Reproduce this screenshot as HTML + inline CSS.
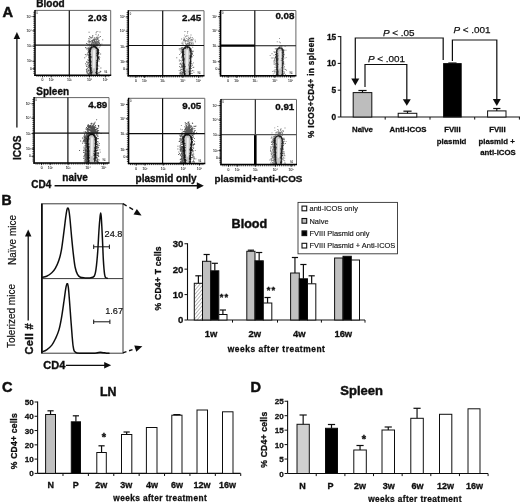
<!DOCTYPE html>
<html><head><meta charset="utf-8"><title>Figure</title>
<style>
html,body{margin:0;padding:0;background:#fff;}
svg{display:block;font-family:'Liberation Sans', Arial, Helvetica, sans-serif;}
</style></head><body>
<svg width="520" height="502" viewBox="0 0 520 502" font-family="'Liberation Sans', Arial, Helvetica, sans-serif">
<rect width="520" height="502" fill="#fff"/>
<defs><filter id="soft" x="0" y="0" width="100%" height="100%" filterUnits="userSpaceOnUse"><feGaussianBlur stdDeviation="0.38"/></filter></defs>
<g filter="url(#soft)">
<defs><filter id="bl" x="-20%" y="-20%" width="140%" height="140%"><feGaussianBlur stdDeviation="0.45"/></filter><filter id="bl2" x="-20%" y="-20%" width="140%" height="140%"><feGaussianBlur stdDeviation="0.3"/></filter></defs>
<rect x="35.0" y="10.4" width="75.70" height="64.80" fill="#fff"/>
<line x1="35.0" y1="10.4" x2="110.7" y2="10.4" stroke="#666" stroke-width="1"/>
<line x1="110.7" y1="10.4" x2="110.7" y2="75.2" stroke="#666" stroke-width="1"/>
<line x1="32.4" y1="16.556" x2="35.0" y2="16.556" stroke="#222" stroke-width="0.9"/>
<line x1="32.4" y1="30.811999999999998" x2="35.0" y2="30.811999999999998" stroke="#222" stroke-width="0.9"/>
<line x1="32.4" y1="46.04" x2="35.0" y2="46.04" stroke="#222" stroke-width="0.9"/>
<line x1="32.4" y1="61.268" x2="35.0" y2="61.268" stroke="#222" stroke-width="0.9"/>
<line x1="32.4" y1="68.72" x2="35.0" y2="68.72" stroke="#222" stroke-width="0.9"/>
<line x1="42.57" y1="75.2" x2="42.57" y2="77.4" stroke="#222" stroke-width="0.9"/>
<line x1="51.2755" y1="75.2" x2="51.2755" y2="77.4" stroke="#222" stroke-width="0.9"/>
<line x1="69.4435" y1="75.2" x2="69.4435" y2="77.4" stroke="#222" stroke-width="0.9"/>
<line x1="89.50399999999999" y1="75.2" x2="89.50399999999999" y2="77.4" stroke="#222" stroke-width="0.9"/>
<line x1="105.40100000000001" y1="75.2" x2="105.40100000000001" y2="77.4" stroke="#222" stroke-width="0.9"/>
<path d="M36.9,75.2 v1.7 M38.8,75.2 v1.7 M40.7,75.2 v1.7 M42.6,75.2 v1.7 M44.5,75.2 v1.7 M46.4,75.2 v1.7 M48.2,75.2 v1.7 M50.1,75.2 v1.7 M52.0,75.2 v1.7 M53.9,75.2 v1.7 M55.8,75.2 v1.7 M57.7,75.2 v1.7 M59.6,75.2 v1.7 M61.5,75.2 v1.7 M63.4,75.2 v1.7 M65.3,75.2 v1.7 M67.2,75.2 v1.7 M69.1,75.2 v1.7 M71.0,75.2 v1.7 M72.8,75.2 v1.7 M74.7,75.2 v1.7 M76.6,75.2 v1.7 M78.5,75.2 v1.7 M80.4,75.2 v1.7 M82.3,75.2 v1.7 M84.2,75.2 v1.7 M86.1,75.2 v1.7 M88.0,75.2 v1.7 M89.9,75.2 v1.7 M91.8,75.2 v1.7 M93.7,75.2 v1.7 M95.6,75.2 v1.7 M97.5,75.2 v1.7 M99.3,75.2 v1.7 M101.2,75.2 v1.7 M103.1,75.2 v1.7 M105.0,75.2 v1.7 M106.9,75.2 v1.7 M108.8,75.2 v1.7" stroke="#111" stroke-width="0.75" fill="none"/>
<path d="M35.0,12.3 h-1.7 M35.0,14.2 h-1.7 M35.0,16.1 h-1.7 M35.0,18.0 h-1.7 M35.0,19.9 h-1.7 M35.0,21.8 h-1.7 M35.0,23.7 h-1.7 M35.0,25.6 h-1.7 M35.0,27.6 h-1.7 M35.0,29.5 h-1.7 M35.0,31.4 h-1.7 M35.0,33.3 h-1.7 M35.0,35.2 h-1.7 M35.0,37.1 h-1.7 M35.0,39.0 h-1.7 M35.0,40.9 h-1.7 M35.0,42.8 h-1.7 M35.0,44.7 h-1.7 M35.0,46.6 h-1.7 M35.0,48.5 h-1.7 M35.0,50.4 h-1.7 M35.0,52.3 h-1.7 M35.0,54.2 h-1.7 M35.0,56.1 h-1.7 M35.0,58.0 h-1.7 M35.0,60.0 h-1.7 M35.0,61.9 h-1.7 M35.0,63.8 h-1.7 M35.0,65.7 h-1.7 M35.0,67.6 h-1.7 M35.0,69.5 h-1.7 M35.0,71.4 h-1.7 M35.0,73.3 h-1.7" stroke="#111" stroke-width="0.75" fill="none"/>
<text x="31.8" y="17.656000000000002" font-size="3.4" font-weight="normal" text-anchor="end" fill="#222" stroke="#222" stroke-width="0.06">10⁵</text>
<text x="31.8" y="31.912" font-size="3.4" font-weight="normal" text-anchor="end" fill="#222" stroke="#222" stroke-width="0.06">10⁴</text>
<text x="31.8" y="47.14" font-size="3.4" font-weight="normal" text-anchor="end" fill="#222" stroke="#222" stroke-width="0.06">10³</text>
<text x="31.8" y="62.368" font-size="3.4" font-weight="normal" text-anchor="end" fill="#222" stroke="#222" stroke-width="0.06">10²</text>
<text x="31.8" y="69.82" font-size="3.4" font-weight="normal" text-anchor="end" fill="#222" stroke="#222" stroke-width="0.06">0</text>
<text x="42.57" y="81.4" font-size="3.4" font-weight="normal" text-anchor="middle" fill="#222" stroke="#222" stroke-width="0.06">0</text>
<text x="51.2755" y="81.4" font-size="3.4" font-weight="normal" text-anchor="middle" fill="#222" stroke="#222" stroke-width="0.06">10²</text>
<text x="69.4435" y="81.4" font-size="3.4" font-weight="normal" text-anchor="middle" fill="#222" stroke="#222" stroke-width="0.06">10³</text>
<text x="89.50399999999999" y="81.4" font-size="3.4" font-weight="normal" text-anchor="middle" fill="#222" stroke="#222" stroke-width="0.06">10⁴</text>
<text x="105.40100000000001" y="81.4" font-size="3.4" font-weight="normal" text-anchor="middle" fill="#222" stroke="#222" stroke-width="0.06">10⁵</text>
<g filter="url(#bl2)">
<path d="M93.4,42.9h.9v.9h-.9zM93.5,44.0h.9v.9h-.9zM91.5,44.5h.9v.9h-.9zM97.5,43.4h.9v.9h-.9zM97.3,44.3h.9v.9h-.9zM95.4,44.7h.9v.9h-.9zM89.3,41.0h.9v.9h-.9zM95.7,43.0h.9v.9h-.9zM89.2,36.1h.9v.9h-.9zM91.6,43.1h.9v.9h-.9zM95.1,45.4h.9v.9h-.9zM95.7,42.2h.9v.9h-.9zM95.1,43.5h.9v.9h-.9zM92.2,36.3h.9v.9h-.9zM95.8,39.1h.9v.9h-.9zM92.4,41.6h.9v.9h-.9zM93.2,45.1h.9v.9h-.9zM96.1,44.3h.9v.9h-.9zM92.9,40.4h.9v.9h-.9zM92.7,39.0h.9v.9h-.9zM91.8,44.4h.9v.9h-.9zM95.5,37.5h.9v.9h-.9zM94.3,38.5h.9v.9h-.9zM88.3,43.9h.9v.9h-.9zM93.9,41.2h.9v.9h-.9zM95.7,45.4h.9v.9h-.9zM89.9,41.1h.9v.9h-.9zM96.2,40.5h.9v.9h-.9zM98.5,43.7h.9v.9h-.9zM94.6,38.6h.9v.9h-.9zM96.0,42.3h.9v.9h-.9zM92.9,38.7h.9v.9h-.9zM91.3,42.8h.9v.9h-.9zM98.0,34.5h.9v.9h-.9zM89.9,44.4h.9v.9h-.9zM98.5,42.5h.9v.9h-.9zM88.6,31.8h.9v.9h-.9zM95.3,41.7h.9v.9h-.9zM90.9,40.3h.9v.9h-.9zM97.5,44.8h.9v.9h-.9zM94.9,43.3h.9v.9h-.9zM98.9,42.3h.9v.9h-.9zM95.7,42.7h.9v.9h-.9zM89.6,38.7h.9v.9h-.9zM97.0,42.8h.9v.9h-.9zM88.4,42.2h.9v.9h-.9zM96.7,35.7h.9v.9h-.9zM93.7,40.1h.9v.9h-.9zM90.3,36.8h.9v.9h-.9zM95.8,44.9h.9v.9h-.9zM95.2,42.1h.9v.9h-.9zM94.6,39.4h.9v.9h-.9zM92.2,43.4h.9v.9h-.9zM97.3,45.6h.9v.9h-.9zM91.6,40.5h.9v.9h-.9zM98.5,43.3h.9v.9h-.9zM90.1,45.0h.9v.9h-.9zM93.8,44.1h.9v.9h-.9zM98.3,40.1h.9v.9h-.9zM97.9,38.7h.9v.9h-.9zM91.9,42.2h.9v.9h-.9zM97.5,41.0h.9v.9h-.9zM95.2,44.9h.9v.9h-.9zM94.7,42.5h.9v.9h-.9zM93.7,44.2h.9v.9h-.9zM95.9,45.7h.9v.9h-.9zM96.5,42.6h.9v.9h-.9zM100.1,43.9h.9v.9h-.9zM92.9,43.7h.9v.9h-.9zM94.2,40.6h.9v.9h-.9zM93.2,43.6h.9v.9h-.9zM99.6,31.6h.9v.9h-.9zM90.9,44.4h.9v.9h-.9zM95.4,44.4h.9v.9h-.9zM92.9,42.1h.9v.9h-.9zM95.0,42.8h.9v.9h-.9zM101.4,43.7h.9v.9h-.9zM92.6,45.2h.9v.9h-.9zM93.5,45.4h.9v.9h-.9zM86.1,43.0h.9v.9h-.9zM97.2,39.3h.9v.9h-.9zM94.0,40.5h.9v.9h-.9zM96.7,37.5h.9v.9h-.9zM89.2,43.8h.9v.9h-.9zM93.2,42.3h.9v.9h-.9zM97.4,30.9h.9v.9h-.9zM97.4,37.7h.9v.9h-.9zM96.2,37.5h.9v.9h-.9zM94.7,39.1h.9v.9h-.9zM93.8,44.6h.9v.9h-.9zM96.6,44.9h.9v.9h-.9zM93.9,37.3h.9v.9h-.9zM97.3,44.1h.9v.9h-.9zM102.3,39.4h.9v.9h-.9zM96.9,44.2h.9v.9h-.9zM94.6,41.8h.9v.9h-.9zM94.9,42.2h.9v.9h-.9zM89.7,37.4h.9v.9h-.9zM96.0,40.4h.9v.9h-.9zM91.2,37.6h.9v.9h-.9zM97.9,41.6h.9v.9h-.9zM98.5,40.5h.9v.9h-.9zM94.2,39.4h.9v.9h-.9zM96.5,37.0h.9v.9h-.9zM91.6,37.1h.9v.9h-.9zM97.1,44.7h.9v.9h-.9zM88.4,38.0h.9v.9h-.9zM93.9,42.4h.9v.9h-.9zM95.4,43.4h.9v.9h-.9zM98.6,40.1h.9v.9h-.9zM97.6,37.5h.9v.9h-.9zM98.5,44.7h.9v.9h-.9zM92.0,40.1h.9v.9h-.9zM94.5,45.0h.9v.9h-.9zM98.4,44.3h.9v.9h-.9zM87.4,43.6h.9v.9h-.9zM88.7,41.2h.9v.9h-.9zM95.1,42.3h.9v.9h-.9zM94.2,41.1h.9v.9h-.9zM94.4,38.4h.9v.9h-.9zM94.0,40.0h.9v.9h-.9zM98.6,36.8h.9v.9h-.9zM92.2,40.9h.9v.9h-.9zM88.7,39.7h.9v.9h-.9zM88.4,39.8h.9v.9h-.9zM90.6,45.6h.9v.9h-.9zM93.6,45.5h.9v.9h-.9zM92.5,44.4h.9v.9h-.9zM99.5,45.5h.9v.9h-.9zM95.8,40.2h.9v.9h-.9zM93.6,38.8h.9v.9h-.9zM92.6,39.8h.9v.9h-.9zM89.3,42.4h.9v.9h-.9zM97.2,41.3h.9v.9h-.9zM94.2,41.3h.9v.9h-.9zM94.7,39.2h.9v.9h-.9zM89.6,42.2h.9v.9h-.9zM96.9,42.6h.9v.9h-.9zM91.5,41.5h.9v.9h-.9zM89.7,45.1h.9v.9h-.9zM90.7,43.7h.9v.9h-.9zM87.2,43.9h.9v.9h-.9zM92.3,35.0h.9v.9h-.9zM96.3,44.2h.9v.9h-.9zM87.6,40.9h.9v.9h-.9zM95.1,43.2h.9v.9h-.9zM96.5,41.6h.9v.9h-.9zM96.2,43.9h.9v.9h-.9zM98.1,42.1h.9v.9h-.9zM95.5,34.2h.9v.9h-.9zM96.8,38.5h.9v.9h-.9zM93.3,43.1h.9v.9h-.9zM99.9,36.0h.9v.9h-.9zM95.6,32.4h.9v.9h-.9zM91.5,41.9h.9v.9h-.9zM99.8,45.0h.9v.9h-.9zM95.9,40.7h.9v.9h-.9zM91.5,45.2h.9v.9h-.9zM95.1,41.2h.9v.9h-.9zM94.1,44.6h.9v.9h-.9zM91.2,43.7h.9v.9h-.9zM96.8,45.1h.9v.9h-.9zM91.7,41.1h.9v.9h-.9zM102.1,39.4h.9v.9h-.9zM96.1,31.4h.9v.9h-.9zM96.0,43.1h.9v.9h-.9zM99.2,43.3h.9v.9h-.9zM94.0,42.8h.9v.9h-.9zM88.5,40.0h.9v.9h-.9zM95.2,41.8h.9v.9h-.9zM87.0,62.6h.9v.9h-.9zM86.1,66.2h.9v.9h-.9zM89.1,65.9h.9v.9h-.9zM89.3,58.5h.9v.9h-.9zM85.5,64.4h.9v.9h-.9zM87.6,69.0h.9v.9h-.9zM86.3,48.5h.9v.9h-.9zM87.7,70.8h.9v.9h-.9zM88.0,62.1h.9v.9h-.9zM89.2,72.5h.9v.9h-.9zM89.6,61.4h.9v.9h-.9zM88.7,53.3h.9v.9h-.9zM88.8,48.0h.9v.9h-.9zM88.9,52.2h.9v.9h-.9zM89.1,67.9h.9v.9h-.9zM88.1,54.7h.9v.9h-.9zM88.4,56.3h.9v.9h-.9zM89.7,47.1h.9v.9h-.9zM89.7,67.1h.9v.9h-.9zM89.3,62.0h.9v.9h-.9zM88.9,72.8h.9v.9h-.9zM87.6,49.6h.9v.9h-.9zM88.8,60.5h.9v.9h-.9zM87.8,70.0h.9v.9h-.9zM87.8,65.9h.9v.9h-.9zM88.2,74.1h.9v.9h-.9zM87.6,66.4h.9v.9h-.9zM86.5,64.4h.9v.9h-.9zM88.2,48.1h.9v.9h-.9zM88.7,50.2h.9v.9h-.9zM86.7,53.8h.9v.9h-.9zM88.3,51.2h.9v.9h-.9zM86.4,71.0h.9v.9h-.9zM87.8,65.4h.9v.9h-.9zM89.4,54.8h.9v.9h-.9zM88.2,59.5h.9v.9h-.9zM88.5,54.0h.9v.9h-.9zM87.9,73.5h.9v.9h-.9zM87.2,53.4h.9v.9h-.9zM89.3,73.6h.9v.9h-.9zM89.0,46.6h.9v.9h-.9zM88.0,57.3h.9v.9h-.9zM87.4,52.2h.9v.9h-.9zM89.3,60.7h.9v.9h-.9zM88.1,49.1h.9v.9h-.9zM89.7,57.8h.9v.9h-.9zM89.3,55.1h.9v.9h-.9zM89.6,53.1h.9v.9h-.9zM87.6,67.6h.9v.9h-.9zM88.4,65.0h.9v.9h-.9zM88.8,57.5h.9v.9h-.9zM85.7,55.7h.9v.9h-.9zM88.6,66.9h.9v.9h-.9zM89.6,64.6h.9v.9h-.9zM86.0,71.6h.9v.9h-.9zM88.7,64.2h.9v.9h-.9zM89.3,50.5h.9v.9h-.9zM86.1,61.3h.9v.9h-.9zM85.9,69.1h.9v.9h-.9zM89.6,69.7h.9v.9h-.9zM86.0,65.7h.9v.9h-.9zM87.6,66.0h.9v.9h-.9zM89.6,50.3h.9v.9h-.9zM89.2,56.7h.9v.9h-.9zM86.7,62.2h.9v.9h-.9zM87.4,64.2h.9v.9h-.9zM87.6,60.3h.9v.9h-.9zM87.5,46.7h.9v.9h-.9zM88.7,60.7h.9v.9h-.9zM86.5,61.6h.9v.9h-.9zM89.3,67.2h.9v.9h-.9zM89.1,53.7h.9v.9h-.9zM88.3,67.0h.9v.9h-.9zM89.0,52.3h.9v.9h-.9zM89.4,60.4h.9v.9h-.9zM84.3,57.3h.9v.9h-.9zM86.7,68.1h.9v.9h-.9zM89.3,63.9h.9v.9h-.9zM89.2,50.7h.9v.9h-.9zM89.1,53.7h.9v.9h-.9zM89.6,62.5h.9v.9h-.9zM88.0,46.9h.9v.9h-.9zM88.2,65.4h.9v.9h-.9zM89.1,66.0h.9v.9h-.9zM89.0,61.1h.9v.9h-.9zM88.2,59.6h.9v.9h-.9zM88.7,71.6h.9v.9h-.9zM89.5,52.2h.9v.9h-.9zM85.1,47.1h.9v.9h-.9zM89.1,59.5h.9v.9h-.9zM87.5,59.2h.9v.9h-.9zM84.9,54.1h.9v.9h-.9zM88.5,52.5h.9v.9h-.9zM85.0,62.9h.9v.9h-.9zM88.2,73.3h.9v.9h-.9zM87.8,50.3h.9v.9h-.9zM88.7,71.4h.9v.9h-.9zM87.5,66.3h.9v.9h-.9zM89.2,60.2h.9v.9h-.9zM85.5,47.3h.9v.9h-.9zM87.4,59.2h.9v.9h-.9zM89.6,55.1h.9v.9h-.9zM88.5,55.5h.9v.9h-.9zM88.3,70.1h.9v.9h-.9zM86.4,70.1h.9v.9h-.9zM89.7,50.0h.9v.9h-.9zM86.9,71.8h.9v.9h-.9zM88.3,54.7h.9v.9h-.9zM88.3,74.6h.9v.9h-.9zM88.3,63.1h.9v.9h-.9zM88.3,54.3h.9v.9h-.9zM88.1,48.0h.9v.9h-.9zM86.7,54.6h.9v.9h-.9zM87.4,72.8h.9v.9h-.9zM89.7,60.9h.9v.9h-.9zM88.1,51.9h.9v.9h-.9zM86.2,71.4h.9v.9h-.9zM86.1,69.3h.9v.9h-.9zM86.7,72.9h.9v.9h-.9zM86.5,62.0h.9v.9h-.9zM89.6,67.1h.9v.9h-.9zM89.1,59.2h.9v.9h-.9zM89.7,54.6h.9v.9h-.9zM86.8,48.0h.9v.9h-.9zM88.8,59.8h.9v.9h-.9zM89.2,56.2h.9v.9h-.9zM88.7,73.9h.9v.9h-.9zM86.6,53.9h.9v.9h-.9zM88.8,62.2h.9v.9h-.9zM88.3,57.6h.9v.9h-.9zM98.3,52.4h.9v.9h-.9zM98.6,72.0h.9v.9h-.9zM98.8,72.0h.9v.9h-.9zM97.9,74.5h.9v.9h-.9zM98.6,52.0h.9v.9h-.9zM98.1,49.1h.9v.9h-.9zM98.2,53.3h.9v.9h-.9zM98.4,53.8h.9v.9h-.9zM100.4,67.6h.9v.9h-.9zM99.1,58.2h.9v.9h-.9zM99.3,57.2h.9v.9h-.9zM98.7,56.1h.9v.9h-.9zM98.9,73.7h.9v.9h-.9zM98.3,50.1h.9v.9h-.9zM99.7,70.8h.9v.9h-.9zM97.9,52.6h.9v.9h-.9zM98.0,57.8h.9v.9h-.9zM98.9,59.1h.9v.9h-.9zM100.3,71.0h.9v.9h-.9zM98.6,47.2h.9v.9h-.9zM99.9,71.7h.9v.9h-.9zM98.3,59.9h.9v.9h-.9zM97.9,57.6h.9v.9h-.9zM97.9,72.6h.9v.9h-.9zM99.1,73.8h.9v.9h-.9zM100.2,53.6h.9v.9h-.9zM98.5,61.2h.9v.9h-.9zM98.4,65.7h.9v.9h-.9z" fill="#222" fill-opacity="0.72"/>
<path d="M91.0,74.6 L89.7,52.8 C89.7,47.8 91.3,46.6 93.8,46.6 C96.3,46.6 97.9,47.8 97.9,52.8 L96.6,74.6" fill="#c6c6c6" stroke="#1c1c1c" stroke-width="1.25" stroke-linejoin="round" stroke-opacity="0.97"/>
<path d="M94.1,50.6 L93.8,67.6" stroke="#f0f0f0" stroke-width="2.0" stroke-linecap="round" fill="none"/>
<path d="M97.0,72.8h.9v.9h-.9zM89.7,50.3h.9v.9h-.9zM89.3,55.8h.9v.9h-.9zM89.0,53.3h.9v.9h-.9zM96.7,62.9h.9v.9h-.9zM97.1,51.9h.9v.9h-.9zM90.2,72.8h.9v.9h-.9zM90.3,64.6h.9v.9h-.9zM96.7,63.1h.9v.9h-.9zM90.8,70.3h.9v.9h-.9zM89.7,61.6h.9v.9h-.9zM89.7,60.1h.9v.9h-.9zM88.5,51.6h.9v.9h-.9zM89.8,60.3h.9v.9h-.9zM97.5,55.7h.9v.9h-.9zM89.1,51.1h.9v.9h-.9zM90.0,67.4h.9v.9h-.9zM96.1,69.3h.9v.9h-.9zM97.8,51.9h.9v.9h-.9zM90.2,69.8h.9v.9h-.9zM89.9,61.4h.9v.9h-.9zM95.8,73.0h.9v.9h-.9zM88.8,64.8h.9v.9h-.9zM97.5,51.6h.9v.9h-.9zM97.4,53.7h.9v.9h-.9zM96.7,64.5h.9v.9h-.9zM89.6,51.5h.9v.9h-.9zM90.7,67.3h.9v.9h-.9zM90.6,67.8h.9v.9h-.9zM97.0,54.7h.9v.9h-.9zM89.9,68.1h.9v.9h-.9zM91.2,70.3h.9v.9h-.9zM90.3,60.8h.9v.9h-.9zM89.7,58.7h.9v.9h-.9zM89.3,63.7h.9v.9h-.9zM97.7,57.6h.9v.9h-.9zM97.6,52.3h.9v.9h-.9zM90.5,60.9h.9v.9h-.9zM97.5,59.0h.9v.9h-.9zM96.5,69.7h.9v.9h-.9zM88.3,51.2h.9v.9h-.9zM89.6,51.7h.9v.9h-.9zM96.2,68.1h.9v.9h-.9zM96.6,73.1h.9v.9h-.9zM89.7,51.3h.9v.9h-.9zM96.3,67.5h.9v.9h-.9zM90.8,72.2h.9v.9h-.9zM96.9,61.6h.9v.9h-.9zM96.5,73.0h.9v.9h-.9zM89.1,69.7h.9v.9h-.9zM91.7,72.4h.9v.9h-.9zM89.7,57.5h.9v.9h-.9zM90.4,64.8h.9v.9h-.9zM96.0,69.0h.9v.9h-.9zM89.1,52.1h.9v.9h-.9zM90.0,60.0h.9v.9h-.9zM96.1,61.8h.9v.9h-.9zM91.8,71.4h.9v.9h-.9zM89.7,56.6h.9v.9h-.9zM96.7,73.9h.9v.9h-.9zM88.8,54.4h.9v.9h-.9zM97.0,66.4h.9v.9h-.9zM90.4,70.5h.9v.9h-.9zM89.2,56.9h.9v.9h-.9zM89.9,59.2h.9v.9h-.9zM90.0,56.1h.9v.9h-.9zM97.2,57.0h.9v.9h-.9zM89.8,56.3h.9v.9h-.9zM89.8,62.4h.9v.9h-.9zM89.6,61.3h.9v.9h-.9zM97.6,52.7h.9v.9h-.9zM89.6,61.0h.9v.9h-.9zM89.3,51.2h.9v.9h-.9zM96.8,64.6h.9v.9h-.9zM88.7,54.9h.9v.9h-.9zM90.6,61.0h.9v.9h-.9zM90.8,68.8h.9v.9h-.9zM90.5,65.1h.9v.9h-.9zM89.5,51.1h.9v.9h-.9zM97.4,56.3h.9v.9h-.9zM90.6,67.8h.9v.9h-.9zM88.8,60.0h.9v.9h-.9zM89.6,54.7h.9v.9h-.9zM96.9,62.1h.9v.9h-.9zM89.6,51.8h.9v.9h-.9zM96.5,53.9h.9v.9h-.9zM89.0,52.4h.9v.9h-.9zM90.8,73.9h.9v.9h-.9zM89.5,60.2h.9v.9h-.9zM97.6,58.8h.9v.9h-.9zM88.9,50.7h.9v.9h-.9zM89.3,59.9h.9v.9h-.9zM88.9,60.6h.9v.9h-.9zM90.2,60.0h.9v.9h-.9zM90.0,61.3h.9v.9h-.9zM97.4,53.7h.9v.9h-.9zM98.1,52.4h.9v.9h-.9zM89.1,54.4h.9v.9h-.9zM97.2,57.0h.9v.9h-.9zM89.9,59.4h.9v.9h-.9zM90.3,57.5h.9v.9h-.9zM97.3,51.5h.9v.9h-.9zM96.9,52.3h.9v.9h-.9zM89.0,65.6h.9v.9h-.9zM97.2,65.1h.9v.9h-.9zM88.6,54.6h.9v.9h-.9zM97.7,51.2h.9v.9h-.9zM89.9,53.8h.9v.9h-.9zM97.8,51.2h.9v.9h-.9zM89.4,66.2h.9v.9h-.9zM96.3,53.1h.9v.9h-.9zM96.7,68.8h.9v.9h-.9zM88.9,57.6h.9v.9h-.9zM97.2,60.9h.9v.9h-.9zM89.0,54.5h.9v.9h-.9zM96.7,55.9h.9v.9h-.9zM97.0,68.9h.9v.9h-.9zM88.9,59.8h.9v.9h-.9zM96.6,53.3h.9v.9h-.9zM90.6,62.3h.9v.9h-.9zM90.1,51.2h.9v.9h-.9zM96.9,68.8h.9v.9h-.9zM98.0,52.2h.9v.9h-.9zM89.8,69.0h.9v.9h-.9zM96.2,70.7h.9v.9h-.9zM96.2,54.9h.9v.9h-.9zM89.3,57.1h.9v.9h-.9zM88.7,55.5h.9v.9h-.9zM90.7,64.8h.9v.9h-.9zM98.1,56.8h.9v.9h-.9zM97.9,53.7h.9v.9h-.9zM96.5,64.4h.9v.9h-.9zM89.7,62.3h.9v.9h-.9zM90.0,59.9h.9v.9h-.9zM97.0,66.5h.9v.9h-.9zM98.1,53.0h.9v.9h-.9zM89.9,51.4h.9v.9h-.9zM89.8,62.7h.9v.9h-.9zM96.7,56.3h.9v.9h-.9zM89.9,69.3h.9v.9h-.9zM89.3,59.2h.9v.9h-.9zM96.2,68.5h.9v.9h-.9zM97.1,55.7h.9v.9h-.9zM90.1,69.8h.9v.9h-.9zM98.1,57.7h.9v.9h-.9zM89.7,67.8h.9v.9h-.9zM89.1,55.5h.9v.9h-.9zM89.5,62.5h.9v.9h-.9zM89.3,53.4h.9v.9h-.9zM97.3,51.5h.9v.9h-.9zM89.0,58.7h.9v.9h-.9zM89.7,60.1h.9v.9h-.9zM89.3,64.3h.9v.9h-.9zM90.2,54.0h.9v.9h-.9zM90.3,72.6h.9v.9h-.9zM88.8,51.8h.9v.9h-.9zM90.0,71.1h.9v.9h-.9zM97.7,50.5h.9v.9h-.9zM95.9,71.6h.9v.9h-.9zM95.8,72.6h.9v.9h-.9zM90.2,56.2h.9v.9h-.9zM90.0,60.0h.9v.9h-.9zM90.2,54.1h.9v.9h-.9zM90.5,72.7h.9v.9h-.9zM96.4,60.1h.9v.9h-.9zM96.2,65.6h.9v.9h-.9zM90.2,54.4h.9v.9h-.9zM96.5,74.0h.9v.9h-.9zM89.8,67.3h.9v.9h-.9zM90.9,72.1h.9v.9h-.9zM97.3,68.0h.9v.9h-.9zM91.2,56.5h.9v.9h-.9zM89.3,53.2h.9v.9h-.9zM96.3,63.5h.9v.9h-.9zM97.0,66.6h.9v.9h-.9zM90.4,72.4h.9v.9h-.9zM97.8,52.3h.9v.9h-.9zM89.6,55.9h.9v.9h-.9zM90.7,72.8h.9v.9h-.9zM97.2,64.6h.9v.9h-.9zM95.2,71.9h.9v.9h-.9zM90.4,66.9h.9v.9h-.9zM89.4,60.7h.9v.9h-.9zM97.0,55.3h.9v.9h-.9zM96.9,64.2h.9v.9h-.9zM89.1,50.9h.9v.9h-.9zM89.9,65.1h.9v.9h-.9zM89.5,50.9h.9v.9h-.9zM89.1,53.6h.9v.9h-.9zM96.5,51.8h.9v.9h-.9zM90.7,68.5h.9v.9h-.9zM89.5,71.6h.9v.9h-.9zM96.6,71.3h.9v.9h-.9zM89.6,52.9h.9v.9h-.9zM90.8,72.9h.9v.9h-.9zM95.3,47.4h.9v.9h-.9zM90.5,47.8h.9v.9h-.9zM94.7,46.7h.9v.9h-.9zM96.0,47.2h.9v.9h-.9zM95.1,47.5h.9v.9h-.9zM89.6,48.8h.9v.9h-.9zM94.4,45.5h.9v.9h-.9zM95.6,46.5h.9v.9h-.9zM95.9,48.1h.9v.9h-.9zM89.7,48.4h.9v.9h-.9zM96.7,48.3h.9v.9h-.9zM96.1,50.4h.9v.9h-.9zM90.1,48.4h.9v.9h-.9zM95.8,46.9h.9v.9h-.9zM89.0,50.1h.9v.9h-.9zM91.3,46.8h.9v.9h-.9zM91.6,47.4h.9v.9h-.9zM91.4,47.2h.9v.9h-.9zM94.5,46.2h.9v.9h-.9zM89.8,50.3h.9v.9h-.9zM98.0,50.8h.9v.9h-.9zM89.8,49.1h.9v.9h-.9zM89.5,49.4h.9v.9h-.9zM93.5,46.2h.9v.9h-.9zM90.7,46.4h.9v.9h-.9zM97.3,49.2h.9v.9h-.9zM89.9,47.8h.9v.9h-.9zM90.7,47.6h.9v.9h-.9zM93.7,46.5h.9v.9h-.9zM96.5,48.0h.9v.9h-.9zM90.5,48.9h.9v.9h-.9zM96.5,47.3h.9v.9h-.9zM97.5,48.5h.9v.9h-.9zM89.5,50.7h.9v.9h-.9zM89.0,50.9h.9v.9h-.9zM89.5,51.0h.9v.9h-.9zM93.4,46.5h.9v.9h-.9zM97.9,49.6h.9v.9h-.9zM97.9,49.8h.9v.9h-.9zM91.5,46.3h.9v.9h-.9zM93.8,46.6h.9v.9h-.9zM95.1,46.3h.9v.9h-.9zM93.2,45.5h.9v.9h-.9zM94.0,46.4h.9v.9h-.9zM90.3,49.4h.9v.9h-.9zM88.9,48.6h.9v.9h-.9zM93.3,45.9h.9v.9h-.9zM97.9,48.8h.9v.9h-.9zM91.2,47.0h.9v.9h-.9z" fill="#111" fill-opacity="0.87"/>
</g>
<line x1="69.3" y1="10.4" x2="69.3" y2="75.2" stroke="#111" stroke-width="1.2"/>
<line x1="35.0" y1="45.2" x2="110.7" y2="45.2" stroke="#111" stroke-width="1.2"/>
<line x1="35.0" y1="9.9" x2="35.0" y2="75.95" stroke="#000" stroke-width="1.5"/>
<line x1="34.25" y1="75.2" x2="111.2" y2="75.2" stroke="#000" stroke-width="1.5"/>
<text x="105.7" y="73.4" font-size="2.6" font-weight="normal" text-anchor="middle" fill="#444" stroke="#444" stroke-width="0.05">94</text>
<text x="37.2" y="14.2" font-size="2.6" font-weight="normal" text-anchor="middle" fill="#444" stroke="#444" stroke-width="0.05">0</text>
<text x="107.1" y="21.0" font-size="9.8" font-weight="bold" text-anchor="end" fill="#111" stroke="#111" stroke-width="0.34">2.03</text>
<rect x="128.3" y="10.7" width="75.70" height="65.00" fill="#fff"/>
<line x1="128.3" y1="10.7" x2="204.0" y2="10.7" stroke="#666" stroke-width="1"/>
<line x1="204.0" y1="10.7" x2="204.0" y2="75.7" stroke="#666" stroke-width="1"/>
<line x1="125.70000000000002" y1="16.875" x2="128.3" y2="16.875" stroke="#222" stroke-width="0.9"/>
<line x1="125.70000000000002" y1="31.175" x2="128.3" y2="31.175" stroke="#222" stroke-width="0.9"/>
<line x1="125.70000000000002" y1="46.45" x2="128.3" y2="46.45" stroke="#222" stroke-width="0.9"/>
<line x1="125.70000000000002" y1="61.724999999999994" x2="128.3" y2="61.724999999999994" stroke="#222" stroke-width="0.9"/>
<line x1="125.70000000000002" y1="69.2" x2="128.3" y2="69.2" stroke="#222" stroke-width="0.9"/>
<line x1="135.87" y1="75.7" x2="135.87" y2="77.9" stroke="#222" stroke-width="0.9"/>
<line x1="144.5755" y1="75.7" x2="144.5755" y2="77.9" stroke="#222" stroke-width="0.9"/>
<line x1="162.7435" y1="75.7" x2="162.7435" y2="77.9" stroke="#222" stroke-width="0.9"/>
<line x1="182.804" y1="75.7" x2="182.804" y2="77.9" stroke="#222" stroke-width="0.9"/>
<line x1="198.70100000000002" y1="75.7" x2="198.70100000000002" y2="77.9" stroke="#222" stroke-width="0.9"/>
<path d="M130.2,75.7 v1.7 M132.1,75.7 v1.7 M134.0,75.7 v1.7 M135.9,75.7 v1.7 M137.8,75.7 v1.7 M139.7,75.7 v1.7 M141.5,75.7 v1.7 M143.4,75.7 v1.7 M145.3,75.7 v1.7 M147.2,75.7 v1.7 M149.1,75.7 v1.7 M151.0,75.7 v1.7 M152.9,75.7 v1.7 M154.8,75.7 v1.7 M156.7,75.7 v1.7 M158.6,75.7 v1.7 M160.5,75.7 v1.7 M162.4,75.7 v1.7 M164.3,75.7 v1.7 M166.2,75.7 v1.7 M168.0,75.7 v1.7 M169.9,75.7 v1.7 M171.8,75.7 v1.7 M173.7,75.7 v1.7 M175.6,75.7 v1.7 M177.5,75.7 v1.7 M179.4,75.7 v1.7 M181.3,75.7 v1.7 M183.2,75.7 v1.7 M185.1,75.7 v1.7 M187.0,75.7 v1.7 M188.9,75.7 v1.7 M190.8,75.7 v1.7 M192.6,75.7 v1.7 M194.5,75.7 v1.7 M196.4,75.7 v1.7 M198.3,75.7 v1.7 M200.2,75.7 v1.7 M202.1,75.7 v1.7" stroke="#111" stroke-width="0.75" fill="none"/>
<path d="M128.3,12.6 h-1.7 M128.3,14.5 h-1.7 M128.3,16.4 h-1.7 M128.3,18.3 h-1.7 M128.3,20.3 h-1.7 M128.3,22.2 h-1.7 M128.3,24.1 h-1.7 M128.3,26.0 h-1.7 M128.3,27.9 h-1.7 M128.3,29.8 h-1.7 M128.3,31.7 h-1.7 M128.3,33.6 h-1.7 M128.3,35.6 h-1.7 M128.3,37.5 h-1.7 M128.3,39.4 h-1.7 M128.3,41.3 h-1.7 M128.3,43.2 h-1.7 M128.3,45.1 h-1.7 M128.3,47.0 h-1.7 M128.3,48.9 h-1.7 M128.3,50.8 h-1.7 M128.3,52.8 h-1.7 M128.3,54.7 h-1.7 M128.3,56.6 h-1.7 M128.3,58.5 h-1.7 M128.3,60.4 h-1.7 M128.3,62.3 h-1.7 M128.3,64.2 h-1.7 M128.3,66.1 h-1.7 M128.3,68.1 h-1.7 M128.3,70.0 h-1.7 M128.3,71.9 h-1.7 M128.3,73.8 h-1.7" stroke="#111" stroke-width="0.75" fill="none"/>
<text x="125.10000000000001" y="17.975" font-size="3.4" font-weight="normal" text-anchor="end" fill="#222" stroke="#222" stroke-width="0.06">10⁵</text>
<text x="125.10000000000001" y="32.275" font-size="3.4" font-weight="normal" text-anchor="end" fill="#222" stroke="#222" stroke-width="0.06">10⁴</text>
<text x="125.10000000000001" y="47.550000000000004" font-size="3.4" font-weight="normal" text-anchor="end" fill="#222" stroke="#222" stroke-width="0.06">10³</text>
<text x="125.10000000000001" y="62.824999999999996" font-size="3.4" font-weight="normal" text-anchor="end" fill="#222" stroke="#222" stroke-width="0.06">10²</text>
<text x="125.10000000000001" y="70.3" font-size="3.4" font-weight="normal" text-anchor="end" fill="#222" stroke="#222" stroke-width="0.06">0</text>
<text x="135.87" y="81.9" font-size="3.4" font-weight="normal" text-anchor="middle" fill="#222" stroke="#222" stroke-width="0.06">0</text>
<text x="144.5755" y="81.9" font-size="3.4" font-weight="normal" text-anchor="middle" fill="#222" stroke="#222" stroke-width="0.06">10²</text>
<text x="162.7435" y="81.9" font-size="3.4" font-weight="normal" text-anchor="middle" fill="#222" stroke="#222" stroke-width="0.06">10³</text>
<text x="182.804" y="81.9" font-size="3.4" font-weight="normal" text-anchor="middle" fill="#222" stroke="#222" stroke-width="0.06">10⁴</text>
<text x="198.70100000000002" y="81.9" font-size="3.4" font-weight="normal" text-anchor="middle" fill="#222" stroke="#222" stroke-width="0.06">10⁵</text>
<g filter="url(#bl2)">
<path d="M185.8,40.6h.9v.9h-.9zM188.9,41.9h.9v.9h-.9zM185.3,40.3h.9v.9h-.9zM181.3,42.7h.9v.9h-.9zM191.3,45.0h.9v.9h-.9zM184.5,31.1h.9v.9h-.9zM187.9,39.3h.9v.9h-.9zM188.3,40.9h.9v.9h-.9zM191.8,39.8h.9v.9h-.9zM186.1,40.2h.9v.9h-.9zM189.7,37.5h.9v.9h-.9zM186.2,38.2h.9v.9h-.9zM187.1,42.8h.9v.9h-.9zM184.2,34.7h.9v.9h-.9zM191.2,43.9h.9v.9h-.9zM191.7,38.7h.9v.9h-.9zM190.5,34.6h.9v.9h-.9zM193.3,44.8h.9v.9h-.9zM188.2,45.2h.9v.9h-.9zM190.3,40.3h.9v.9h-.9zM187.7,38.5h.9v.9h-.9zM189.6,43.4h.9v.9h-.9zM189.3,44.6h.9v.9h-.9zM192.2,39.7h.9v.9h-.9zM186.1,44.1h.9v.9h-.9zM192.6,43.0h.9v.9h-.9zM188.7,39.5h.9v.9h-.9zM191.1,43.1h.9v.9h-.9zM183.5,39.1h.9v.9h-.9zM188.1,43.9h.9v.9h-.9zM194.9,41.3h.9v.9h-.9zM190.8,41.8h.9v.9h-.9zM182.5,41.5h.9v.9h-.9zM187.9,43.3h.9v.9h-.9zM186.9,43.4h.9v.9h-.9zM185.0,43.4h.9v.9h-.9zM185.5,43.0h.9v.9h-.9zM189.0,42.8h.9v.9h-.9zM188.2,37.2h.9v.9h-.9zM187.5,45.2h.9v.9h-.9zM189.6,44.0h.9v.9h-.9zM190.6,38.9h.9v.9h-.9zM189.2,43.2h.9v.9h-.9zM185.0,36.3h.9v.9h-.9zM184.9,36.3h.9v.9h-.9zM189.3,38.0h.9v.9h-.9zM184.5,39.4h.9v.9h-.9zM191.7,45.4h.9v.9h-.9zM187.0,32.5h.9v.9h-.9zM187.9,43.7h.9v.9h-.9zM185.5,43.5h.9v.9h-.9zM188.4,45.0h.9v.9h-.9zM192.5,44.2h.9v.9h-.9zM188.8,38.0h.9v.9h-.9zM184.4,40.3h.9v.9h-.9zM192.8,38.5h.9v.9h-.9zM184.2,40.3h.9v.9h-.9zM181.9,43.5h.9v.9h-.9zM181.9,43.3h.9v.9h-.9zM191.7,37.1h.9v.9h-.9zM186.5,35.5h.9v.9h-.9zM189.7,41.9h.9v.9h-.9zM186.6,45.7h.9v.9h-.9zM189.0,44.1h.9v.9h-.9zM187.4,43.0h.9v.9h-.9zM187.7,39.6h.9v.9h-.9zM187.6,35.4h.9v.9h-.9zM186.0,35.5h.9v.9h-.9zM187.6,39.1h.9v.9h-.9zM188.2,40.7h.9v.9h-.9zM182.5,41.9h.9v.9h-.9zM189.6,43.9h.9v.9h-.9zM187.1,40.9h.9v.9h-.9zM184.2,38.6h.9v.9h-.9zM188.1,40.8h.9v.9h-.9zM181.2,38.5h.9v.9h-.9zM194.7,39.7h.9v.9h-.9zM187.2,44.8h.9v.9h-.9zM186.9,44.5h.9v.9h-.9zM183.3,40.2h.9v.9h-.9zM192.4,41.8h.9v.9h-.9zM189.9,36.7h.9v.9h-.9zM186.6,44.6h.9v.9h-.9zM190.5,39.8h.9v.9h-.9zM189.2,43.9h.9v.9h-.9zM185.2,43.4h.9v.9h-.9zM184.7,41.6h.9v.9h-.9zM187.3,31.1h.9v.9h-.9zM187.1,40.5h.9v.9h-.9zM183.1,43.7h.9v.9h-.9zM189.7,43.8h.9v.9h-.9zM191.1,39.6h.9v.9h-.9zM183.5,37.5h.9v.9h-.9zM188.6,40.8h.9v.9h-.9zM185.0,41.6h.9v.9h-.9zM188.2,42.4h.9v.9h-.9zM187.5,39.4h.9v.9h-.9zM185.5,40.7h.9v.9h-.9zM183.0,39.6h.9v.9h-.9zM185.2,40.3h.9v.9h-.9zM181.0,66.4h.9v.9h-.9zM180.4,52.8h.9v.9h-.9zM181.2,65.6h.9v.9h-.9zM179.6,49.7h.9v.9h-.9zM182.0,51.9h.9v.9h-.9zM179.5,72.6h.9v.9h-.9zM182.1,65.3h.9v.9h-.9zM180.4,69.0h.9v.9h-.9zM180.2,62.7h.9v.9h-.9zM182.8,58.7h.9v.9h-.9zM181.2,55.8h.9v.9h-.9zM180.3,73.1h.9v.9h-.9zM181.7,48.3h.9v.9h-.9zM182.4,50.2h.9v.9h-.9zM182.7,69.7h.9v.9h-.9zM178.9,59.4h.9v.9h-.9zM180.9,47.2h.9v.9h-.9zM180.9,73.2h.9v.9h-.9zM181.2,74.5h.9v.9h-.9zM180.9,49.7h.9v.9h-.9zM182.6,65.0h.9v.9h-.9zM182.6,47.2h.9v.9h-.9zM181.8,46.9h.9v.9h-.9zM182.5,74.1h.9v.9h-.9zM182.0,49.3h.9v.9h-.9zM182.2,47.3h.9v.9h-.9zM182.1,67.1h.9v.9h-.9zM182.7,52.1h.9v.9h-.9zM179.7,48.2h.9v.9h-.9zM182.4,70.9h.9v.9h-.9zM179.8,67.4h.9v.9h-.9zM180.5,66.8h.9v.9h-.9zM181.5,59.8h.9v.9h-.9zM181.5,74.0h.9v.9h-.9zM182.3,67.0h.9v.9h-.9zM182.6,65.1h.9v.9h-.9zM182.9,69.8h.9v.9h-.9zM181.4,67.4h.9v.9h-.9zM182.1,51.5h.9v.9h-.9zM181.4,48.5h.9v.9h-.9zM181.1,57.2h.9v.9h-.9zM181.0,65.9h.9v.9h-.9zM181.9,50.9h.9v.9h-.9zM182.3,65.0h.9v.9h-.9zM181.1,64.6h.9v.9h-.9zM181.2,69.0h.9v.9h-.9zM181.9,73.4h.9v.9h-.9zM182.3,55.0h.9v.9h-.9zM180.4,48.5h.9v.9h-.9zM179.8,70.1h.9v.9h-.9zM182.4,56.2h.9v.9h-.9zM178.6,70.2h.9v.9h-.9zM179.5,63.8h.9v.9h-.9zM182.1,71.8h.9v.9h-.9zM180.9,57.4h.9v.9h-.9zM181.8,72.1h.9v.9h-.9zM180.4,69.6h.9v.9h-.9zM182.9,54.2h.9v.9h-.9zM182.8,58.7h.9v.9h-.9zM179.8,71.8h.9v.9h-.9zM181.0,48.0h.9v.9h-.9zM181.1,71.3h.9v.9h-.9zM179.7,62.9h.9v.9h-.9zM182.3,69.6h.9v.9h-.9zM179.0,66.1h.9v.9h-.9zM181.3,49.2h.9v.9h-.9zM181.9,62.4h.9v.9h-.9zM182.5,68.0h.9v.9h-.9zM181.6,73.1h.9v.9h-.9zM182.6,65.9h.9v.9h-.9zM180.2,59.9h.9v.9h-.9zM182.5,68.0h.9v.9h-.9zM181.4,69.1h.9v.9h-.9zM182.1,69.5h.9v.9h-.9zM182.7,68.6h.9v.9h-.9zM182.6,72.1h.9v.9h-.9zM180.3,71.8h.9v.9h-.9zM180.6,63.4h.9v.9h-.9zM182.6,52.1h.9v.9h-.9zM182.5,66.6h.9v.9h-.9zM181.7,57.0h.9v.9h-.9zM181.0,61.4h.9v.9h-.9zM182.1,51.0h.9v.9h-.9zM176.3,57.3h.9v.9h-.9zM181.0,49.8h.9v.9h-.9zM180.5,51.2h.9v.9h-.9zM180.3,63.6h.9v.9h-.9zM181.5,47.4h.9v.9h-.9zM180.9,47.7h.9v.9h-.9zM178.9,60.5h.9v.9h-.9zM182.7,62.8h.9v.9h-.9zM182.6,58.8h.9v.9h-.9zM179.4,73.5h.9v.9h-.9zM182.5,74.0h.9v.9h-.9zM179.2,54.0h.9v.9h-.9zM181.6,51.9h.9v.9h-.9zM182.6,49.2h.9v.9h-.9zM180.5,71.4h.9v.9h-.9zM182.1,59.7h.9v.9h-.9zM178.8,48.6h.9v.9h-.9zM181.5,63.7h.9v.9h-.9zM182.1,73.9h.9v.9h-.9zM182.3,54.1h.9v.9h-.9zM180.3,73.8h.9v.9h-.9zM181.8,65.7h.9v.9h-.9zM181.2,51.3h.9v.9h-.9zM181.5,74.0h.9v.9h-.9zM181.5,47.9h.9v.9h-.9zM182.8,54.0h.9v.9h-.9zM180.3,72.3h.9v.9h-.9zM193.3,70.4h.9v.9h-.9zM193.3,66.8h.9v.9h-.9zM191.8,65.0h.9v.9h-.9zM191.5,50.9h.9v.9h-.9zM191.1,68.1h.9v.9h-.9zM192.9,55.2h.9v.9h-.9zM191.8,63.5h.9v.9h-.9zM191.1,55.9h.9v.9h-.9zM191.7,54.0h.9v.9h-.9zM192.2,51.6h.9v.9h-.9zM192.1,53.5h.9v.9h-.9zM192.3,47.2h.9v.9h-.9zM192.6,67.0h.9v.9h-.9zM191.2,73.0h.9v.9h-.9zM191.4,53.0h.9v.9h-.9zM193.5,71.9h.9v.9h-.9zM192.2,50.7h.9v.9h-.9zM191.7,73.0h.9v.9h-.9zM191.3,70.6h.9v.9h-.9zM192.1,56.4h.9v.9h-.9zM192.1,70.0h.9v.9h-.9zM192.9,50.8h.9v.9h-.9zM191.4,53.1h.9v.9h-.9zM193.0,62.4h.9v.9h-.9z" fill="#222" fill-opacity="0.62"/>
<path d="M184.4,75.0 L182.9,52.9 C182.9,48.0 184.5,46.8 187.0,46.8 C189.5,46.8 191.1,48.0 191.1,52.9 L189.6,75.0" fill="#c6c6c6" stroke="#1c1c1c" stroke-width="1.25" stroke-linejoin="round" stroke-opacity="0.87"/>
<path d="M187.3,50.8 L187.0,68.0" stroke="#f0f0f0" stroke-width="2.0" stroke-linecap="round" fill="none"/>
<path d="M183.0,53.9h.9v.9h-.9zM190.3,56.9h.9v.9h-.9zM183.4,64.2h.9v.9h-.9zM182.9,58.5h.9v.9h-.9zM190.2,61.4h.9v.9h-.9zM191.6,53.2h.9v.9h-.9zM183.9,66.6h.9v.9h-.9zM184.0,63.9h.9v.9h-.9zM189.8,73.8h.9v.9h-.9zM184.2,74.3h.9v.9h-.9zM182.8,57.4h.9v.9h-.9zM183.0,51.8h.9v.9h-.9zM190.6,61.1h.9v.9h-.9zM182.1,58.7h.9v.9h-.9zM184.2,73.2h.9v.9h-.9zM190.9,54.9h.9v.9h-.9zM183.0,57.1h.9v.9h-.9zM182.3,53.8h.9v.9h-.9zM190.3,54.7h.9v.9h-.9zM183.3,52.4h.9v.9h-.9zM183.0,68.8h.9v.9h-.9zM190.0,55.4h.9v.9h-.9zM182.1,55.1h.9v.9h-.9zM182.5,55.3h.9v.9h-.9zM183.1,70.7h.9v.9h-.9zM182.7,62.9h.9v.9h-.9zM190.3,71.3h.9v.9h-.9zM191.0,52.6h.9v.9h-.9zM183.4,71.5h.9v.9h-.9zM190.5,56.4h.9v.9h-.9zM182.2,54.4h.9v.9h-.9zM182.5,64.3h.9v.9h-.9zM184.9,73.8h.9v.9h-.9zM183.1,53.4h.9v.9h-.9zM189.2,58.2h.9v.9h-.9zM183.2,64.3h.9v.9h-.9zM189.8,68.1h.9v.9h-.9zM190.0,62.8h.9v.9h-.9zM182.5,56.3h.9v.9h-.9zM183.0,55.8h.9v.9h-.9zM183.7,63.8h.9v.9h-.9zM182.4,50.9h.9v.9h-.9zM190.7,65.8h.9v.9h-.9zM190.8,63.1h.9v.9h-.9zM184.2,67.7h.9v.9h-.9zM189.6,57.0h.9v.9h-.9zM182.9,57.2h.9v.9h-.9zM182.3,53.4h.9v.9h-.9zM190.2,55.9h.9v.9h-.9zM190.5,61.6h.9v.9h-.9zM190.1,73.0h.9v.9h-.9zM190.0,67.2h.9v.9h-.9zM182.5,60.0h.9v.9h-.9zM182.8,69.2h.9v.9h-.9zM190.2,67.7h.9v.9h-.9zM184.1,69.8h.9v.9h-.9zM189.6,51.7h.9v.9h-.9zM182.7,54.0h.9v.9h-.9zM184.0,65.7h.9v.9h-.9zM183.1,53.1h.9v.9h-.9zM183.5,62.6h.9v.9h-.9zM191.2,55.9h.9v.9h-.9zM183.7,73.0h.9v.9h-.9zM184.4,70.0h.9v.9h-.9zM190.4,56.9h.9v.9h-.9zM190.3,57.0h.9v.9h-.9zM182.5,52.9h.9v.9h-.9zM189.9,63.0h.9v.9h-.9zM182.8,53.2h.9v.9h-.9zM184.7,66.1h.9v.9h-.9zM184.3,72.6h.9v.9h-.9zM190.2,52.5h.9v.9h-.9zM182.6,53.4h.9v.9h-.9zM188.9,71.8h.9v.9h-.9zM189.3,68.2h.9v.9h-.9zM189.7,57.4h.9v.9h-.9zM183.0,66.1h.9v.9h-.9zM182.6,63.7h.9v.9h-.9zM189.9,65.2h.9v.9h-.9zM183.7,70.2h.9v.9h-.9zM190.3,62.8h.9v.9h-.9zM189.7,73.8h.9v.9h-.9zM183.8,71.2h.9v.9h-.9zM182.5,58.3h.9v.9h-.9zM184.0,74.2h.9v.9h-.9zM182.6,51.8h.9v.9h-.9zM189.5,71.4h.9v.9h-.9zM189.2,66.3h.9v.9h-.9zM183.9,68.2h.9v.9h-.9zM182.5,63.0h.9v.9h-.9zM183.1,53.8h.9v.9h-.9zM183.7,65.3h.9v.9h-.9zM188.9,68.3h.9v.9h-.9zM182.6,56.9h.9v.9h-.9zM190.2,60.3h.9v.9h-.9zM188.4,64.6h.9v.9h-.9zM183.7,54.1h.9v.9h-.9zM190.2,71.5h.9v.9h-.9zM184.2,67.1h.9v.9h-.9zM183.1,67.9h.9v.9h-.9zM183.9,64.8h.9v.9h-.9zM190.3,50.6h.9v.9h-.9zM183.6,63.4h.9v.9h-.9zM189.8,60.9h.9v.9h-.9zM183.7,72.6h.9v.9h-.9zM189.9,73.8h.9v.9h-.9zM189.2,55.4h.9v.9h-.9zM184.2,71.9h.9v.9h-.9zM183.9,72.0h.9v.9h-.9zM181.9,72.6h.9v.9h-.9zM189.4,62.9h.9v.9h-.9zM189.2,68.0h.9v.9h-.9zM183.7,64.8h.9v.9h-.9zM182.8,61.4h.9v.9h-.9zM182.0,52.8h.9v.9h-.9zM190.2,62.5h.9v.9h-.9zM190.2,55.0h.9v.9h-.9zM190.0,62.2h.9v.9h-.9zM188.6,64.6h.9v.9h-.9zM183.8,68.4h.9v.9h-.9zM184.3,74.0h.9v.9h-.9zM183.0,62.8h.9v.9h-.9zM189.8,58.7h.9v.9h-.9zM188.9,71.9h.9v.9h-.9zM183.2,70.1h.9v.9h-.9zM183.0,62.6h.9v.9h-.9zM183.4,64.1h.9v.9h-.9zM183.0,59.0h.9v.9h-.9zM190.6,50.5h.9v.9h-.9zM182.3,50.5h.9v.9h-.9zM182.6,50.8h.9v.9h-.9zM190.4,55.2h.9v.9h-.9zM188.6,71.4h.9v.9h-.9zM182.7,62.8h.9v.9h-.9zM182.4,53.4h.9v.9h-.9zM190.1,62.9h.9v.9h-.9zM190.6,54.6h.9v.9h-.9zM189.2,62.3h.9v.9h-.9zM181.9,51.9h.9v.9h-.9zM189.2,66.9h.9v.9h-.9zM183.8,59.0h.9v.9h-.9zM183.3,51.2h.9v.9h-.9zM181.5,52.0h.9v.9h-.9zM190.4,61.3h.9v.9h-.9zM183.1,60.0h.9v.9h-.9zM190.0,61.0h.9v.9h-.9zM190.8,54.3h.9v.9h-.9zM184.8,71.0h.9v.9h-.9zM190.0,61.4h.9v.9h-.9zM190.0,65.0h.9v.9h-.9zM189.6,66.8h.9v.9h-.9zM182.1,55.8h.9v.9h-.9zM183.0,51.0h.9v.9h-.9zM182.4,52.6h.9v.9h-.9zM184.2,73.9h.9v.9h-.9zM183.6,60.0h.9v.9h-.9zM190.5,59.7h.9v.9h-.9zM182.4,66.1h.9v.9h-.9zM190.4,63.8h.9v.9h-.9zM182.4,55.1h.9v.9h-.9zM183.4,57.2h.9v.9h-.9zM183.0,58.7h.9v.9h-.9zM190.6,55.2h.9v.9h-.9zM183.1,70.6h.9v.9h-.9zM183.4,69.6h.9v.9h-.9zM182.8,54.3h.9v.9h-.9zM190.3,65.6h.9v.9h-.9zM189.9,55.5h.9v.9h-.9zM183.1,61.4h.9v.9h-.9zM183.4,73.2h.9v.9h-.9zM188.8,74.3h.9v.9h-.9zM190.0,56.4h.9v.9h-.9zM189.5,68.5h.9v.9h-.9zM182.5,52.7h.9v.9h-.9zM189.7,51.1h.9v.9h-.9zM182.5,53.9h.9v.9h-.9zM182.9,54.7h.9v.9h-.9zM184.0,58.2h.9v.9h-.9zM184.2,69.9h.9v.9h-.9zM183.1,55.1h.9v.9h-.9zM189.7,70.1h.9v.9h-.9zM190.6,57.3h.9v.9h-.9zM182.9,65.6h.9v.9h-.9zM184.7,73.0h.9v.9h-.9zM183.6,66.4h.9v.9h-.9zM183.3,72.1h.9v.9h-.9zM189.6,56.4h.9v.9h-.9zM183.1,58.9h.9v.9h-.9zM184.1,72.4h.9v.9h-.9zM182.9,67.6h.9v.9h-.9zM183.5,60.8h.9v.9h-.9zM182.0,54.2h.9v.9h-.9zM189.0,73.1h.9v.9h-.9zM188.7,70.7h.9v.9h-.9zM189.3,72.8h.9v.9h-.9zM183.7,58.9h.9v.9h-.9zM184.0,66.2h.9v.9h-.9zM182.1,49.0h.9v.9h-.9zM182.4,50.7h.9v.9h-.9zM188.8,46.7h.9v.9h-.9zM181.9,50.4h.9v.9h-.9zM182.2,51.0h.9v.9h-.9zM185.5,47.4h.9v.9h-.9zM187.0,46.9h.9v.9h-.9zM184.6,46.6h.9v.9h-.9zM186.3,46.0h.9v.9h-.9zM184.9,46.3h.9v.9h-.9zM187.1,47.5h.9v.9h-.9zM182.8,48.6h.9v.9h-.9zM190.2,48.5h.9v.9h-.9zM189.6,47.6h.9v.9h-.9zM189.0,47.3h.9v.9h-.9zM190.0,48.7h.9v.9h-.9zM186.8,46.3h.9v.9h-.9zM184.7,47.7h.9v.9h-.9zM184.7,47.9h.9v.9h-.9zM185.5,47.2h.9v.9h-.9zM189.3,50.0h.9v.9h-.9zM185.2,48.2h.9v.9h-.9zM182.7,49.1h.9v.9h-.9zM184.8,47.2h.9v.9h-.9zM190.9,50.3h.9v.9h-.9zM189.9,50.8h.9v.9h-.9zM189.5,49.1h.9v.9h-.9zM188.9,47.3h.9v.9h-.9zM187.5,46.3h.9v.9h-.9zM183.3,48.5h.9v.9h-.9zM188.5,46.6h.9v.9h-.9zM186.8,45.9h.9v.9h-.9zM188.6,47.0h.9v.9h-.9zM185.0,45.9h.9v.9h-.9zM185.4,47.3h.9v.9h-.9zM190.4,51.1h.9v.9h-.9zM188.8,46.6h.9v.9h-.9zM182.6,49.5h.9v.9h-.9zM183.7,48.1h.9v.9h-.9zM187.8,46.3h.9v.9h-.9zM190.4,48.9h.9v.9h-.9zM183.0,49.0h.9v.9h-.9zM190.8,48.6h.9v.9h-.9zM182.3,51.4h.9v.9h-.9zM189.0,48.6h.9v.9h-.9zM181.9,50.8h.9v.9h-.9zM190.3,49.4h.9v.9h-.9zM183.7,47.6h.9v.9h-.9zM182.5,49.1h.9v.9h-.9z" fill="#111" fill-opacity="0.77"/>
</g>
<line x1="162.7" y1="10.7" x2="162.7" y2="75.7" stroke="#111" stroke-width="1.2"/>
<line x1="128.3" y1="45.5" x2="204.0" y2="45.5" stroke="#111" stroke-width="1.2"/>
<line x1="128.3" y1="10.2" x2="128.3" y2="76.45" stroke="#000" stroke-width="1.5"/>
<line x1="127.55000000000001" y1="75.7" x2="204.5" y2="75.7" stroke="#000" stroke-width="1.5"/>
<text x="199.0" y="73.9" font-size="2.6" font-weight="normal" text-anchor="middle" fill="#444" stroke="#444" stroke-width="0.05">94</text>
<text x="130.5" y="14.5" font-size="2.6" font-weight="normal" text-anchor="middle" fill="#444" stroke="#444" stroke-width="0.05">0</text>
<text x="201.1" y="21.0" font-size="9.8" font-weight="bold" text-anchor="end" fill="#111" stroke="#111" stroke-width="0.34">2.45</text>
<rect x="220.6" y="10.5" width="75.30" height="65.20" fill="#fff"/>
<line x1="220.6" y1="10.5" x2="295.9" y2="10.5" stroke="#666" stroke-width="1"/>
<line x1="295.9" y1="10.5" x2="295.9" y2="75.7" stroke="#666" stroke-width="1"/>
<line x1="218.0" y1="16.694" x2="220.6" y2="16.694" stroke="#222" stroke-width="0.9"/>
<line x1="218.0" y1="31.038" x2="220.6" y2="31.038" stroke="#222" stroke-width="0.9"/>
<line x1="218.0" y1="46.36000000000001" x2="220.6" y2="46.36000000000001" stroke="#222" stroke-width="0.9"/>
<line x1="218.0" y1="61.682" x2="220.6" y2="61.682" stroke="#222" stroke-width="0.9"/>
<line x1="218.0" y1="69.18" x2="220.6" y2="69.18" stroke="#222" stroke-width="0.9"/>
<line x1="228.13" y1="75.7" x2="228.13" y2="77.9" stroke="#222" stroke-width="0.9"/>
<line x1="236.78949999999998" y1="75.7" x2="236.78949999999998" y2="77.9" stroke="#222" stroke-width="0.9"/>
<line x1="254.86149999999998" y1="75.7" x2="254.86149999999998" y2="77.9" stroke="#222" stroke-width="0.9"/>
<line x1="274.816" y1="75.7" x2="274.816" y2="77.9" stroke="#222" stroke-width="0.9"/>
<line x1="290.62899999999996" y1="75.7" x2="290.62899999999996" y2="77.9" stroke="#222" stroke-width="0.9"/>
<path d="M222.5,75.7 v1.7 M224.4,75.7 v1.7 M226.2,75.7 v1.7 M228.1,75.7 v1.7 M230.0,75.7 v1.7 M231.9,75.7 v1.7 M233.8,75.7 v1.7 M235.7,75.7 v1.7 M237.5,75.7 v1.7 M239.4,75.7 v1.7 M241.3,75.7 v1.7 M243.2,75.7 v1.7 M245.1,75.7 v1.7 M247.0,75.7 v1.7 M248.8,75.7 v1.7 M250.7,75.7 v1.7 M252.6,75.7 v1.7 M254.5,75.7 v1.7 M256.4,75.7 v1.7 M258.2,75.7 v1.7 M260.1,75.7 v1.7 M262.0,75.7 v1.7 M263.9,75.7 v1.7 M265.8,75.7 v1.7 M267.7,75.7 v1.7 M269.5,75.7 v1.7 M271.4,75.7 v1.7 M273.3,75.7 v1.7 M275.2,75.7 v1.7 M277.1,75.7 v1.7 M279.0,75.7 v1.7 M280.8,75.7 v1.7 M282.7,75.7 v1.7 M284.6,75.7 v1.7 M286.5,75.7 v1.7 M288.4,75.7 v1.7 M290.3,75.7 v1.7 M292.1,75.7 v1.7 M294.0,75.7 v1.7" stroke="#111" stroke-width="0.75" fill="none"/>
<path d="M220.6,12.4 h-1.7 M220.6,14.3 h-1.7 M220.6,16.3 h-1.7 M220.6,18.2 h-1.7 M220.6,20.1 h-1.7 M220.6,22.0 h-1.7 M220.6,23.9 h-1.7 M220.6,25.8 h-1.7 M220.6,27.8 h-1.7 M220.6,29.7 h-1.7 M220.6,31.6 h-1.7 M220.6,33.5 h-1.7 M220.6,35.4 h-1.7 M220.6,37.3 h-1.7 M220.6,39.3 h-1.7 M220.6,41.2 h-1.7 M220.6,43.1 h-1.7 M220.6,45.0 h-1.7 M220.6,46.9 h-1.7 M220.6,48.9 h-1.7 M220.6,50.8 h-1.7 M220.6,52.7 h-1.7 M220.6,54.6 h-1.7 M220.6,56.5 h-1.7 M220.6,58.4 h-1.7 M220.6,60.4 h-1.7 M220.6,62.3 h-1.7 M220.6,64.2 h-1.7 M220.6,66.1 h-1.7 M220.6,68.0 h-1.7 M220.6,69.9 h-1.7 M220.6,71.9 h-1.7 M220.6,73.8 h-1.7" stroke="#111" stroke-width="0.75" fill="none"/>
<text x="217.4" y="17.794" font-size="3.4" font-weight="normal" text-anchor="end" fill="#222" stroke="#222" stroke-width="0.06">10⁵</text>
<text x="217.4" y="32.138" font-size="3.4" font-weight="normal" text-anchor="end" fill="#222" stroke="#222" stroke-width="0.06">10⁴</text>
<text x="217.4" y="47.46000000000001" font-size="3.4" font-weight="normal" text-anchor="end" fill="#222" stroke="#222" stroke-width="0.06">10³</text>
<text x="217.4" y="62.782000000000004" font-size="3.4" font-weight="normal" text-anchor="end" fill="#222" stroke="#222" stroke-width="0.06">10²</text>
<text x="217.4" y="70.28" font-size="3.4" font-weight="normal" text-anchor="end" fill="#222" stroke="#222" stroke-width="0.06">0</text>
<text x="228.13" y="81.9" font-size="3.4" font-weight="normal" text-anchor="middle" fill="#222" stroke="#222" stroke-width="0.06">0</text>
<text x="236.78949999999998" y="81.9" font-size="3.4" font-weight="normal" text-anchor="middle" fill="#222" stroke="#222" stroke-width="0.06">10²</text>
<text x="254.86149999999998" y="81.9" font-size="3.4" font-weight="normal" text-anchor="middle" fill="#222" stroke="#222" stroke-width="0.06">10³</text>
<text x="274.816" y="81.9" font-size="3.4" font-weight="normal" text-anchor="middle" fill="#222" stroke="#222" stroke-width="0.06">10⁴</text>
<text x="290.62899999999996" y="81.9" font-size="3.4" font-weight="normal" text-anchor="middle" fill="#222" stroke="#222" stroke-width="0.06">10⁵</text>
<g filter="url(#bl2)">
<path d="M279.9,45.5h.9v.9h-.9zM276.8,41.3h.9v.9h-.9zM279.0,46.0h.9v.9h-.9zM281.0,45.6h.9v.9h-.9zM279.1,38.0h.9v.9h-.9zM280.6,46.0h.9v.9h-.9zM281.7,45.5h.9v.9h-.9zM279.9,42.3h.9v.9h-.9zM284.6,46.0h.9v.9h-.9zM278.9,41.6h.9v.9h-.9zM274.1,61.9h.9v.9h-.9zM276.1,59.5h.9v.9h-.9zM273.9,52.0h.9v.9h-.9zM276.0,58.7h.9v.9h-.9zM276.0,69.8h.9v.9h-.9zM276.1,67.5h.9v.9h-.9zM275.2,63.2h.9v.9h-.9zM274.0,59.3h.9v.9h-.9zM274.6,51.5h.9v.9h-.9zM274.5,71.3h.9v.9h-.9zM273.8,70.9h.9v.9h-.9zM276.1,53.9h.9v.9h-.9zM276.4,51.8h.9v.9h-.9zM273.5,63.6h.9v.9h-.9zM272.1,57.6h.9v.9h-.9zM275.0,54.3h.9v.9h-.9zM275.1,54.0h.9v.9h-.9zM276.0,74.1h.9v.9h-.9zM275.6,53.8h.9v.9h-.9zM273.4,70.6h.9v.9h-.9zM275.8,66.0h.9v.9h-.9zM275.6,67.1h.9v.9h-.9zM276.3,62.5h.9v.9h-.9zM274.4,66.8h.9v.9h-.9zM276.2,63.2h.9v.9h-.9zM272.2,71.0h.9v.9h-.9zM275.1,51.5h.9v.9h-.9zM273.4,61.5h.9v.9h-.9zM272.8,73.6h.9v.9h-.9zM276.4,64.8h.9v.9h-.9zM274.3,60.3h.9v.9h-.9zM276.0,66.5h.9v.9h-.9zM271.6,53.0h.9v.9h-.9zM275.2,60.7h.9v.9h-.9zM275.0,64.6h.9v.9h-.9zM275.5,58.8h.9v.9h-.9zM276.0,66.9h.9v.9h-.9zM276.4,73.8h.9v.9h-.9zM275.6,51.5h.9v.9h-.9zM276.3,72.5h.9v.9h-.9zM271.5,53.3h.9v.9h-.9zM273.5,50.9h.9v.9h-.9zM276.3,57.8h.9v.9h-.9zM274.7,70.7h.9v.9h-.9zM275.5,48.1h.9v.9h-.9zM273.5,54.8h.9v.9h-.9zM276.4,62.1h.9v.9h-.9zM274.2,57.5h.9v.9h-.9zM272.9,57.4h.9v.9h-.9zM276.3,57.5h.9v.9h-.9zM275.3,48.7h.9v.9h-.9zM274.2,72.6h.9v.9h-.9zM276.5,66.7h.9v.9h-.9zM274.7,48.4h.9v.9h-.9zM274.5,69.3h.9v.9h-.9zM276.4,61.1h.9v.9h-.9zM275.2,51.9h.9v.9h-.9zM275.9,73.1h.9v.9h-.9zM274.5,70.5h.9v.9h-.9zM274.5,63.8h.9v.9h-.9zM276.6,68.5h.9v.9h-.9zM269.7,55.1h.9v.9h-.9zM276.2,74.8h.9v.9h-.9zM276.4,61.1h.9v.9h-.9zM276.1,70.6h.9v.9h-.9zM276.5,49.8h.9v.9h-.9zM274.5,64.1h.9v.9h-.9zM274.6,70.7h.9v.9h-.9zM273.6,60.0h.9v.9h-.9zM276.0,54.0h.9v.9h-.9zM274.3,57.6h.9v.9h-.9zM276.0,62.2h.9v.9h-.9zM276.2,64.8h.9v.9h-.9zM275.6,53.5h.9v.9h-.9zM275.2,56.8h.9v.9h-.9zM273.7,60.5h.9v.9h-.9zM275.0,56.9h.9v.9h-.9zM275.9,60.9h.9v.9h-.9zM276.4,71.6h.9v.9h-.9zM275.1,64.4h.9v.9h-.9zM274.4,51.7h.9v.9h-.9zM274.2,58.3h.9v.9h-.9zM270.9,57.5h.9v.9h-.9zM274.2,63.4h.9v.9h-.9zM275.7,66.8h.9v.9h-.9zM276.0,72.7h.9v.9h-.9zM275.9,53.2h.9v.9h-.9zM276.1,59.4h.9v.9h-.9zM275.8,69.3h.9v.9h-.9zM276.2,69.4h.9v.9h-.9zM283.4,51.6h.9v.9h-.9zM285.5,49.8h.9v.9h-.9zM284.4,57.7h.9v.9h-.9zM283.5,71.0h.9v.9h-.9zM283.3,67.3h.9v.9h-.9zM285.8,56.9h.9v.9h-.9zM283.8,71.8h.9v.9h-.9zM285.1,69.1h.9v.9h-.9zM286.0,69.8h.9v.9h-.9zM283.3,74.9h.9v.9h-.9zM283.7,72.0h.9v.9h-.9zM283.9,66.1h.9v.9h-.9zM284.3,68.8h.9v.9h-.9zM283.9,73.1h.9v.9h-.9zM283.8,67.4h.9v.9h-.9zM283.6,54.7h.9v.9h-.9zM284.9,74.1h.9v.9h-.9zM284.0,49.8h.9v.9h-.9zM284.3,63.7h.9v.9h-.9z" fill="#222" fill-opacity="0.52"/>
<path d="M277.5,75.0 L276.6,52.8 C276.6,48.8 277.9,47.8 279.9,47.8 C281.9,47.8 283.2,48.8 283.2,52.8 L282.3,75.0" fill="#c6c6c6" stroke="#1c1c1c" stroke-width="1.25" stroke-linejoin="round" stroke-opacity="0.77"/>
<path d="M280.2,51.8 L279.9,68.0" stroke="#f0f0f0" stroke-width="1.6" stroke-linecap="round" fill="none"/>
<path d="M277.6,57.9h.9v.9h-.9zM277.9,74.3h.9v.9h-.9zM276.6,67.9h.9v.9h-.9zM277.3,70.7h.9v.9h-.9zM276.1,56.8h.9v.9h-.9zM276.8,68.8h.9v.9h-.9zM282.8,51.8h.9v.9h-.9zM282.4,55.4h.9v.9h-.9zM276.9,53.0h.9v.9h-.9zM276.6,68.2h.9v.9h-.9zM281.9,70.0h.9v.9h-.9zM276.9,58.8h.9v.9h-.9zM276.7,66.0h.9v.9h-.9zM276.8,65.9h.9v.9h-.9zM282.6,68.6h.9v.9h-.9zM277.0,60.3h.9v.9h-.9zM277.8,69.7h.9v.9h-.9zM277.0,65.6h.9v.9h-.9zM280.8,60.2h.9v.9h-.9zM277.6,71.5h.9v.9h-.9zM276.7,74.3h.9v.9h-.9zM276.6,60.6h.9v.9h-.9zM282.6,55.7h.9v.9h-.9zM276.5,69.0h.9v.9h-.9zM282.8,58.9h.9v.9h-.9zM276.5,71.3h.9v.9h-.9zM281.8,58.6h.9v.9h-.9zM282.6,56.8h.9v.9h-.9zM281.5,58.0h.9v.9h-.9zM281.4,74.0h.9v.9h-.9zM276.4,63.3h.9v.9h-.9zM276.0,53.8h.9v.9h-.9zM276.8,70.0h.9v.9h-.9zM275.0,54.2h.9v.9h-.9zM282.8,73.0h.9v.9h-.9zM275.9,53.9h.9v.9h-.9zM276.7,69.2h.9v.9h-.9zM276.9,73.1h.9v.9h-.9zM275.7,71.5h.9v.9h-.9zM276.7,63.3h.9v.9h-.9zM281.5,74.1h.9v.9h-.9zM276.8,55.7h.9v.9h-.9zM276.0,55.7h.9v.9h-.9zM277.0,53.2h.9v.9h-.9zM276.8,60.3h.9v.9h-.9zM281.8,52.1h.9v.9h-.9zM277.3,59.6h.9v.9h-.9zM276.1,51.4h.9v.9h-.9zM276.9,56.2h.9v.9h-.9zM282.2,58.4h.9v.9h-.9zM276.7,74.4h.9v.9h-.9zM275.8,74.1h.9v.9h-.9zM277.0,69.0h.9v.9h-.9zM276.9,70.3h.9v.9h-.9zM277.0,71.5h.9v.9h-.9zM282.1,54.5h.9v.9h-.9zM276.3,64.5h.9v.9h-.9zM277.8,71.0h.9v.9h-.9zM282.6,61.1h.9v.9h-.9zM276.5,71.3h.9v.9h-.9zM275.4,54.3h.9v.9h-.9zM276.8,53.8h.9v.9h-.9zM277.0,53.0h.9v.9h-.9zM282.8,61.8h.9v.9h-.9zM282.2,72.6h.9v.9h-.9zM276.6,71.7h.9v.9h-.9zM276.5,65.6h.9v.9h-.9zM282.1,51.6h.9v.9h-.9zM276.4,67.3h.9v.9h-.9zM276.4,51.8h.9v.9h-.9zM277.1,73.5h.9v.9h-.9zM277.0,63.2h.9v.9h-.9zM283.4,54.2h.9v.9h-.9zM275.6,62.6h.9v.9h-.9zM276.8,73.5h.9v.9h-.9zM277.4,59.0h.9v.9h-.9zM275.2,56.0h.9v.9h-.9zM276.8,57.2h.9v.9h-.9zM277.1,73.7h.9v.9h-.9zM282.6,62.8h.9v.9h-.9zM275.1,57.0h.9v.9h-.9zM281.5,67.1h.9v.9h-.9zM276.6,67.1h.9v.9h-.9zM276.0,60.2h.9v.9h-.9zM282.5,54.3h.9v.9h-.9zM277.6,71.7h.9v.9h-.9zM282.1,56.4h.9v.9h-.9zM276.7,72.8h.9v.9h-.9zM276.2,74.3h.9v.9h-.9zM277.3,66.5h.9v.9h-.9zM276.2,72.4h.9v.9h-.9zM282.0,60.3h.9v.9h-.9zM277.4,63.8h.9v.9h-.9zM283.3,61.5h.9v.9h-.9zM282.0,71.0h.9v.9h-.9zM282.8,58.8h.9v.9h-.9zM282.2,65.7h.9v.9h-.9zM275.9,59.1h.9v.9h-.9zM277.1,65.3h.9v.9h-.9zM282.0,52.4h.9v.9h-.9zM275.8,68.9h.9v.9h-.9zM282.3,72.4h.9v.9h-.9zM281.8,64.7h.9v.9h-.9zM277.2,55.9h.9v.9h-.9zM276.8,59.4h.9v.9h-.9zM276.6,63.3h.9v.9h-.9zM282.3,70.3h.9v.9h-.9zM276.1,54.9h.9v.9h-.9zM282.4,71.3h.9v.9h-.9zM276.1,53.6h.9v.9h-.9zM281.9,59.4h.9v.9h-.9zM282.0,63.1h.9v.9h-.9zM282.1,57.6h.9v.9h-.9zM281.5,67.3h.9v.9h-.9zM281.9,54.8h.9v.9h-.9zM275.8,54.2h.9v.9h-.9zM276.9,56.3h.9v.9h-.9zM282.3,63.2h.9v.9h-.9zM276.9,50.7h.9v.9h-.9zM276.0,52.0h.9v.9h-.9zM277.6,72.6h.9v.9h-.9zM283.2,56.4h.9v.9h-.9zM277.3,71.2h.9v.9h-.9zM275.9,53.7h.9v.9h-.9zM282.4,51.7h.9v.9h-.9zM276.4,59.6h.9v.9h-.9zM281.9,60.4h.9v.9h-.9zM277.0,70.0h.9v.9h-.9zM283.7,53.7h.9v.9h-.9zM282.0,55.2h.9v.9h-.9zM277.0,58.5h.9v.9h-.9zM282.2,52.6h.9v.9h-.9zM277.1,62.5h.9v.9h-.9zM282.1,53.2h.9v.9h-.9zM282.1,70.7h.9v.9h-.9zM277.5,74.4h.9v.9h-.9zM281.9,62.4h.9v.9h-.9zM276.4,68.6h.9v.9h-.9zM275.7,60.3h.9v.9h-.9zM276.1,72.8h.9v.9h-.9zM276.5,69.1h.9v.9h-.9zM276.1,52.8h.9v.9h-.9zM276.6,62.5h.9v.9h-.9zM276.8,64.1h.9v.9h-.9zM276.1,58.7h.9v.9h-.9zM282.4,63.8h.9v.9h-.9zM276.3,60.4h.9v.9h-.9zM276.8,71.5h.9v.9h-.9zM277.4,74.1h.9v.9h-.9zM276.8,74.3h.9v.9h-.9zM276.5,59.8h.9v.9h-.9zM282.9,63.9h.9v.9h-.9zM275.9,58.0h.9v.9h-.9zM282.2,71.4h.9v.9h-.9zM276.0,55.5h.9v.9h-.9zM277.1,55.6h.9v.9h-.9zM276.5,67.6h.9v.9h-.9zM276.9,59.4h.9v.9h-.9zM277.8,63.9h.9v.9h-.9zM276.3,68.1h.9v.9h-.9zM276.5,64.2h.9v.9h-.9zM276.3,51.5h.9v.9h-.9zM281.7,67.6h.9v.9h-.9zM282.7,65.2h.9v.9h-.9zM276.7,71.6h.9v.9h-.9zM277.4,55.0h.9v.9h-.9zM283.0,52.4h.9v.9h-.9zM277.2,62.5h.9v.9h-.9zM281.7,69.8h.9v.9h-.9zM276.6,55.9h.9v.9h-.9zM275.6,54.4h.9v.9h-.9zM283.1,63.0h.9v.9h-.9zM282.4,73.4h.9v.9h-.9zM276.2,56.0h.9v.9h-.9zM276.0,60.8h.9v.9h-.9zM278.0,72.7h.9v.9h-.9zM276.7,57.7h.9v.9h-.9zM276.7,71.6h.9v.9h-.9zM275.6,58.0h.9v.9h-.9zM277.0,58.4h.9v.9h-.9zM282.7,74.1h.9v.9h-.9zM276.5,73.9h.9v.9h-.9zM283.1,56.0h.9v.9h-.9zM275.9,67.2h.9v.9h-.9zM282.6,60.9h.9v.9h-.9zM277.2,53.4h.9v.9h-.9zM282.7,74.5h.9v.9h-.9zM276.5,63.2h.9v.9h-.9zM276.9,69.3h.9v.9h-.9zM276.8,55.4h.9v.9h-.9zM278.5,47.6h.9v.9h-.9zM281.8,49.1h.9v.9h-.9zM281.3,48.8h.9v.9h-.9zM278.4,48.0h.9v.9h-.9zM276.1,50.5h.9v.9h-.9zM281.0,47.5h.9v.9h-.9zM277.3,48.8h.9v.9h-.9zM282.2,48.7h.9v.9h-.9zM282.9,49.3h.9v.9h-.9zM278.2,47.4h.9v.9h-.9zM279.3,47.9h.9v.9h-.9zM282.9,49.3h.9v.9h-.9zM280.5,47.5h.9v.9h-.9zM282.0,49.7h.9v.9h-.9zM276.4,49.8h.9v.9h-.9zM282.0,50.4h.9v.9h-.9zM283.1,49.3h.9v.9h-.9zM282.5,49.6h.9v.9h-.9zM279.1,46.9h.9v.9h-.9zM282.1,48.7h.9v.9h-.9zM282.7,49.8h.9v.9h-.9zM280.4,47.4h.9v.9h-.9zM276.1,49.7h.9v.9h-.9zM278.8,47.3h.9v.9h-.9zM276.8,48.7h.9v.9h-.9zM283.1,50.5h.9v.9h-.9zM281.8,48.3h.9v.9h-.9zM278.5,47.5h.9v.9h-.9zM277.6,48.8h.9v.9h-.9zM281.6,47.4h.9v.9h-.9zM281.9,50.2h.9v.9h-.9zM276.2,48.6h.9v.9h-.9zM280.6,47.4h.9v.9h-.9zM276.2,50.1h.9v.9h-.9zM282.9,50.3h.9v.9h-.9zM278.5,48.2h.9v.9h-.9zM282.8,49.7h.9v.9h-.9zM281.5,49.6h.9v.9h-.9zM276.6,48.3h.9v.9h-.9z" fill="#111" fill-opacity="0.67"/>
</g>
<line x1="254.8" y1="10.5" x2="254.8" y2="75.7" stroke="#111" stroke-width="1.2"/>
<line x1="220.6" y1="45.7" x2="254.8" y2="45.7" stroke="#000" stroke-width="2.2"/>
<line x1="254.8" y1="45.7" x2="295.9" y2="45.7" stroke="#111" stroke-width="1.1"/>
<line x1="220.6" y1="10.0" x2="220.6" y2="76.45" stroke="#000" stroke-width="1.5"/>
<line x1="219.85" y1="75.7" x2="296.4" y2="75.7" stroke="#000" stroke-width="1.5"/>
<text x="290.9" y="73.9" font-size="2.6" font-weight="normal" text-anchor="middle" fill="#444" stroke="#444" stroke-width="0.05">94</text>
<text x="222.79999999999998" y="14.3" font-size="2.6" font-weight="normal" text-anchor="middle" fill="#444" stroke="#444" stroke-width="0.05">0</text>
<text x="294.5" y="19.3" font-size="9.8" font-weight="bold" text-anchor="end" fill="#111" stroke="#111" stroke-width="0.34">0.08</text>
<rect x="34.1" y="97.6" width="74.90" height="65.30" fill="#fff"/>
<line x1="34.1" y1="97.6" x2="109.0" y2="97.6" stroke="#666" stroke-width="1"/>
<line x1="109.0" y1="97.6" x2="109.0" y2="162.9" stroke="#666" stroke-width="1"/>
<line x1="31.5" y1="103.8035" x2="34.1" y2="103.8035" stroke="#222" stroke-width="0.9"/>
<line x1="31.5" y1="118.1695" x2="34.1" y2="118.1695" stroke="#222" stroke-width="0.9"/>
<line x1="31.5" y1="133.515" x2="34.1" y2="133.515" stroke="#222" stroke-width="0.9"/>
<line x1="31.5" y1="148.8605" x2="34.1" y2="148.8605" stroke="#222" stroke-width="0.9"/>
<line x1="31.5" y1="156.37" x2="34.1" y2="156.37" stroke="#222" stroke-width="0.9"/>
<line x1="41.59" y1="162.9" x2="41.59" y2="165.1" stroke="#222" stroke-width="0.9"/>
<line x1="50.203500000000005" y1="162.9" x2="50.203500000000005" y2="165.1" stroke="#222" stroke-width="0.9"/>
<line x1="68.1795" y1="162.9" x2="68.1795" y2="165.1" stroke="#222" stroke-width="0.9"/>
<line x1="88.028" y1="162.9" x2="88.028" y2="165.1" stroke="#222" stroke-width="0.9"/>
<line x1="103.757" y1="162.9" x2="103.757" y2="165.1" stroke="#222" stroke-width="0.9"/>
<path d="M36.0,162.9 v1.7 M37.8,162.9 v1.7 M39.7,162.9 v1.7 M41.6,162.9 v1.7 M43.5,162.9 v1.7 M45.3,162.9 v1.7 M47.2,162.9 v1.7 M49.1,162.9 v1.7 M51.0,162.9 v1.7 M52.8,162.9 v1.7 M54.7,162.9 v1.7 M56.6,162.9 v1.7 M58.4,162.9 v1.7 M60.3,162.9 v1.7 M62.2,162.9 v1.7 M64.1,162.9 v1.7 M65.9,162.9 v1.7 M67.8,162.9 v1.7 M69.7,162.9 v1.7 M71.6,162.9 v1.7 M73.4,162.9 v1.7 M75.3,162.9 v1.7 M77.2,162.9 v1.7 M79.0,162.9 v1.7 M80.9,162.9 v1.7 M82.8,162.9 v1.7 M84.7,162.9 v1.7 M86.5,162.9 v1.7 M88.4,162.9 v1.7 M90.3,162.9 v1.7 M92.1,162.9 v1.7 M94.0,162.9 v1.7 M95.9,162.9 v1.7 M97.8,162.9 v1.7 M99.6,162.9 v1.7 M101.5,162.9 v1.7 M103.4,162.9 v1.7 M105.3,162.9 v1.7 M107.1,162.9 v1.7" stroke="#111" stroke-width="0.75" fill="none"/>
<path d="M34.1,99.5 h-1.7 M34.1,101.4 h-1.7 M34.1,103.4 h-1.7 M34.1,105.3 h-1.7 M34.1,107.2 h-1.7 M34.1,109.1 h-1.7 M34.1,111.0 h-1.7 M34.1,113.0 h-1.7 M34.1,114.9 h-1.7 M34.1,116.8 h-1.7 M34.1,118.7 h-1.7 M34.1,120.6 h-1.7 M34.1,122.6 h-1.7 M34.1,124.5 h-1.7 M34.1,126.4 h-1.7 M34.1,128.3 h-1.7 M34.1,130.2 h-1.7 M34.1,132.2 h-1.7 M34.1,134.1 h-1.7 M34.1,136.0 h-1.7 M34.1,137.9 h-1.7 M34.1,139.9 h-1.7 M34.1,141.8 h-1.7 M34.1,143.7 h-1.7 M34.1,145.6 h-1.7 M34.1,147.5 h-1.7 M34.1,149.5 h-1.7 M34.1,151.4 h-1.7 M34.1,153.3 h-1.7 M34.1,155.2 h-1.7 M34.1,157.1 h-1.7 M34.1,159.1 h-1.7 M34.1,161.0 h-1.7" stroke="#111" stroke-width="0.75" fill="none"/>
<text x="30.900000000000002" y="104.9035" font-size="3.4" font-weight="normal" text-anchor="end" fill="#222" stroke="#222" stroke-width="0.06">10⁵</text>
<text x="30.900000000000002" y="119.2695" font-size="3.4" font-weight="normal" text-anchor="end" fill="#222" stroke="#222" stroke-width="0.06">10⁴</text>
<text x="30.900000000000002" y="134.61499999999998" font-size="3.4" font-weight="normal" text-anchor="end" fill="#222" stroke="#222" stroke-width="0.06">10³</text>
<text x="30.900000000000002" y="149.9605" font-size="3.4" font-weight="normal" text-anchor="end" fill="#222" stroke="#222" stroke-width="0.06">10²</text>
<text x="30.900000000000002" y="157.47" font-size="3.4" font-weight="normal" text-anchor="end" fill="#222" stroke="#222" stroke-width="0.06">0</text>
<text x="41.59" y="169.1" font-size="3.4" font-weight="normal" text-anchor="middle" fill="#222" stroke="#222" stroke-width="0.06">0</text>
<text x="50.203500000000005" y="169.1" font-size="3.4" font-weight="normal" text-anchor="middle" fill="#222" stroke="#222" stroke-width="0.06">10²</text>
<text x="68.1795" y="169.1" font-size="3.4" font-weight="normal" text-anchor="middle" fill="#222" stroke="#222" stroke-width="0.06">10³</text>
<text x="88.028" y="169.1" font-size="3.4" font-weight="normal" text-anchor="middle" fill="#222" stroke="#222" stroke-width="0.06">10⁴</text>
<text x="103.757" y="169.1" font-size="3.4" font-weight="normal" text-anchor="middle" fill="#222" stroke="#222" stroke-width="0.06">10⁵</text>
<g filter="url(#bl2)">
<path d="M92.5,131.8h.9v.9h-.9zM85.9,133.6h.9v.9h-.9zM88.0,131.6h.9v.9h-.9zM95.9,128.9h.9v.9h-.9zM87.9,127.3h.9v.9h-.9zM94.6,132.0h.9v.9h-.9zM93.5,126.7h.9v.9h-.9zM91.2,133.6h.9v.9h-.9zM90.5,128.4h.9v.9h-.9zM86.1,127.1h.9v.9h-.9zM89.4,129.4h.9v.9h-.9zM87.6,129.4h.9v.9h-.9zM90.4,129.9h.9v.9h-.9zM87.6,130.9h.9v.9h-.9zM90.3,128.0h.9v.9h-.9zM91.2,131.5h.9v.9h-.9zM91.6,125.4h.9v.9h-.9zM91.1,133.6h.9v.9h-.9zM97.6,133.3h.9v.9h-.9zM94.0,130.3h.9v.9h-.9zM92.7,123.2h.9v.9h-.9zM92.4,130.7h.9v.9h-.9zM87.9,127.2h.9v.9h-.9zM95.3,131.7h.9v.9h-.9zM87.9,125.3h.9v.9h-.9zM90.2,132.0h.9v.9h-.9zM92.8,128.4h.9v.9h-.9zM87.6,130.3h.9v.9h-.9zM95.4,129.3h.9v.9h-.9zM87.7,128.1h.9v.9h-.9zM92.2,131.4h.9v.9h-.9zM92.2,131.8h.9v.9h-.9zM89.3,129.5h.9v.9h-.9zM90.2,132.0h.9v.9h-.9zM93.8,128.1h.9v.9h-.9zM96.5,130.8h.9v.9h-.9zM90.5,130.5h.9v.9h-.9zM93.3,132.1h.9v.9h-.9zM89.1,129.1h.9v.9h-.9zM87.7,128.4h.9v.9h-.9zM95.1,125.1h.9v.9h-.9zM93.5,132.2h.9v.9h-.9zM94.2,129.3h.9v.9h-.9zM91.4,132.1h.9v.9h-.9zM98.1,125.9h.9v.9h-.9zM88.2,129.3h.9v.9h-.9zM94.2,128.2h.9v.9h-.9zM91.2,130.6h.9v.9h-.9zM92.0,132.3h.9v.9h-.9zM90.6,133.6h.9v.9h-.9zM92.1,128.5h.9v.9h-.9zM98.3,125.3h.9v.9h-.9zM93.6,133.7h.9v.9h-.9zM94.8,128.8h.9v.9h-.9zM94.3,130.0h.9v.9h-.9zM89.5,125.8h.9v.9h-.9zM96.7,128.1h.9v.9h-.9zM89.5,127.7h.9v.9h-.9zM93.9,122.4h.9v.9h-.9zM94.6,129.1h.9v.9h-.9zM95.3,130.6h.9v.9h-.9zM90.0,126.6h.9v.9h-.9zM91.5,129.0h.9v.9h-.9zM90.2,125.1h.9v.9h-.9zM98.0,125.2h.9v.9h-.9zM94.0,131.2h.9v.9h-.9zM88.7,126.1h.9v.9h-.9zM93.6,127.7h.9v.9h-.9zM89.2,133.7h.9v.9h-.9zM91.3,132.5h.9v.9h-.9zM93.5,124.0h.9v.9h-.9zM90.3,129.8h.9v.9h-.9zM95.1,132.4h.9v.9h-.9zM91.7,127.5h.9v.9h-.9zM95.1,131.2h.9v.9h-.9zM90.3,133.4h.9v.9h-.9zM89.7,128.9h.9v.9h-.9zM91.3,126.8h.9v.9h-.9zM91.5,131.3h.9v.9h-.9zM88.0,124.7h.9v.9h-.9zM97.1,131.9h.9v.9h-.9zM87.8,133.2h.9v.9h-.9zM93.8,125.7h.9v.9h-.9zM89.7,132.5h.9v.9h-.9zM89.5,130.0h.9v.9h-.9zM94.8,131.7h.9v.9h-.9zM90.9,133.5h.9v.9h-.9zM90.3,133.1h.9v.9h-.9zM93.0,132.3h.9v.9h-.9zM94.8,121.7h.9v.9h-.9zM90.6,132.1h.9v.9h-.9zM94.4,130.7h.9v.9h-.9zM91.4,131.5h.9v.9h-.9zM94.9,130.8h.9v.9h-.9zM93.5,130.0h.9v.9h-.9zM93.9,130.0h.9v.9h-.9zM91.6,130.7h.9v.9h-.9zM98.1,125.0h.9v.9h-.9zM93.8,128.3h.9v.9h-.9zM88.3,132.6h.9v.9h-.9zM93.6,133.5h.9v.9h-.9zM88.9,127.0h.9v.9h-.9zM90.6,133.6h.9v.9h-.9zM89.8,126.7h.9v.9h-.9zM97.0,129.8h.9v.9h-.9zM91.7,131.2h.9v.9h-.9zM90.5,133.5h.9v.9h-.9zM91.3,130.8h.9v.9h-.9zM88.8,126.8h.9v.9h-.9zM97.5,133.4h.9v.9h-.9zM94.2,128.2h.9v.9h-.9zM93.6,133.5h.9v.9h-.9zM87.8,126.3h.9v.9h-.9zM94.8,130.6h.9v.9h-.9zM93.7,126.0h.9v.9h-.9zM86.2,128.8h.9v.9h-.9zM88.8,133.0h.9v.9h-.9zM89.2,126.3h.9v.9h-.9zM90.4,131.1h.9v.9h-.9zM94.5,132.2h.9v.9h-.9zM89.6,129.9h.9v.9h-.9zM97.5,128.0h.9v.9h-.9zM91.4,128.7h.9v.9h-.9zM86.7,130.8h.9v.9h-.9zM94.0,129.2h.9v.9h-.9zM93.3,124.3h.9v.9h-.9zM92.0,130.6h.9v.9h-.9zM88.8,128.5h.9v.9h-.9zM94.2,132.3h.9v.9h-.9zM97.6,131.5h.9v.9h-.9zM86.8,129.5h.9v.9h-.9zM95.6,133.6h.9v.9h-.9zM88.7,125.5h.9v.9h-.9zM88.4,133.3h.9v.9h-.9zM86.8,127.8h.9v.9h-.9zM87.3,128.6h.9v.9h-.9zM95.4,131.8h.9v.9h-.9zM88.3,133.4h.9v.9h-.9zM93.2,126.6h.9v.9h-.9zM88.9,133.2h.9v.9h-.9zM94.1,133.4h.9v.9h-.9zM93.4,127.9h.9v.9h-.9zM85.1,132.2h.9v.9h-.9zM89.5,133.1h.9v.9h-.9zM91.0,131.5h.9v.9h-.9zM89.9,126.9h.9v.9h-.9zM92.2,131.2h.9v.9h-.9zM93.9,128.8h.9v.9h-.9zM93.2,125.5h.9v.9h-.9zM90.3,125.0h.9v.9h-.9zM93.4,131.1h.9v.9h-.9zM93.4,130.7h.9v.9h-.9zM90.2,130.7h.9v.9h-.9zM95.4,132.0h.9v.9h-.9zM97.1,131.4h.9v.9h-.9zM97.4,131.6h.9v.9h-.9zM88.8,125.5h.9v.9h-.9zM93.1,128.1h.9v.9h-.9zM92.7,132.2h.9v.9h-.9zM92.6,128.4h.9v.9h-.9zM88.7,129.5h.9v.9h-.9zM90.6,127.3h.9v.9h-.9zM91.8,132.3h.9v.9h-.9zM97.8,125.0h.9v.9h-.9zM92.0,129.5h.9v.9h-.9zM91.5,131.9h.9v.9h-.9zM92.0,131.2h.9v.9h-.9zM92.3,126.7h.9v.9h-.9zM93.3,132.3h.9v.9h-.9zM89.0,132.0h.9v.9h-.9zM93.7,130.5h.9v.9h-.9zM93.4,131.0h.9v.9h-.9zM96.5,128.6h.9v.9h-.9zM91.8,131.3h.9v.9h-.9zM96.4,132.5h.9v.9h-.9zM94.2,126.8h.9v.9h-.9zM90.4,125.8h.9v.9h-.9zM91.3,123.5h.9v.9h-.9zM90.0,132.4h.9v.9h-.9zM87.6,130.7h.9v.9h-.9zM92.9,124.2h.9v.9h-.9zM92.6,132.5h.9v.9h-.9zM88.1,133.3h.9v.9h-.9zM94.8,130.2h.9v.9h-.9zM95.6,129.6h.9v.9h-.9zM92.0,130.8h.9v.9h-.9zM92.6,127.4h.9v.9h-.9zM97.0,131.9h.9v.9h-.9zM89.1,131.9h.9v.9h-.9zM92.9,129.0h.9v.9h-.9zM96.2,119.3h.9v.9h-.9zM93.7,126.4h.9v.9h-.9zM89.4,124.9h.9v.9h-.9zM92.9,132.1h.9v.9h-.9zM93.1,128.4h.9v.9h-.9zM90.8,132.8h.9v.9h-.9zM94.2,123.3h.9v.9h-.9zM92.9,130.8h.9v.9h-.9zM85.4,128.6h.9v.9h-.9zM91.7,133.2h.9v.9h-.9zM89.3,130.2h.9v.9h-.9zM87.0,133.2h.9v.9h-.9zM92.4,132.3h.9v.9h-.9zM95.8,133.2h.9v.9h-.9zM92.4,129.6h.9v.9h-.9zM87.7,132.3h.9v.9h-.9zM92.3,129.2h.9v.9h-.9zM89.8,129.9h.9v.9h-.9zM93.2,126.6h.9v.9h-.9zM87.9,126.9h.9v.9h-.9zM92.5,132.7h.9v.9h-.9zM94.2,129.8h.9v.9h-.9zM90.5,128.6h.9v.9h-.9zM94.4,131.5h.9v.9h-.9zM93.5,127.6h.9v.9h-.9zM93.1,128.8h.9v.9h-.9zM88.7,132.0h.9v.9h-.9zM92.5,133.4h.9v.9h-.9zM91.2,128.9h.9v.9h-.9zM92.6,130.2h.9v.9h-.9zM88.1,133.3h.9v.9h-.9zM96.3,131.8h.9v.9h-.9zM89.1,127.1h.9v.9h-.9zM97.0,132.3h.9v.9h-.9zM91.5,132.7h.9v.9h-.9zM100.6,133.1h.9v.9h-.9zM94.9,131.6h.9v.9h-.9zM86.9,128.4h.9v.9h-.9zM88.6,131.6h.9v.9h-.9zM92.4,125.1h.9v.9h-.9zM91.3,132.2h.9v.9h-.9zM92.3,133.0h.9v.9h-.9zM98.7,132.3h.9v.9h-.9zM96.3,127.5h.9v.9h-.9zM90.4,130.4h.9v.9h-.9zM91.0,133.2h.9v.9h-.9zM92.6,133.6h.9v.9h-.9zM90.8,126.3h.9v.9h-.9zM91.3,130.3h.9v.9h-.9zM96.9,130.7h.9v.9h-.9zM95.0,127.1h.9v.9h-.9zM95.2,125.5h.9v.9h-.9zM88.0,124.3h.9v.9h-.9zM92.2,125.3h.9v.9h-.9zM90.3,127.0h.9v.9h-.9zM92.0,126.6h.9v.9h-.9zM89.2,132.3h.9v.9h-.9zM92.6,129.9h.9v.9h-.9zM91.4,133.2h.9v.9h-.9zM92.3,133.7h.9v.9h-.9zM91.5,129.5h.9v.9h-.9zM87.5,131.3h.9v.9h-.9zM92.5,131.8h.9v.9h-.9zM90.5,131.6h.9v.9h-.9zM92.7,127.7h.9v.9h-.9zM91.6,132.4h.9v.9h-.9zM93.1,132.5h.9v.9h-.9zM86.5,132.4h.9v.9h-.9zM91.0,131.0h.9v.9h-.9zM93.9,133.5h.9v.9h-.9zM90.5,123.3h.9v.9h-.9zM87.1,133.6h.9v.9h-.9zM91.8,131.6h.9v.9h-.9zM92.7,131.4h.9v.9h-.9zM88.5,128.4h.9v.9h-.9zM91.7,128.2h.9v.9h-.9zM94.3,127.3h.9v.9h-.9zM86.9,132.8h.9v.9h-.9zM87.0,125.9h.9v.9h-.9zM89.2,133.5h.9v.9h-.9zM91.4,129.8h.9v.9h-.9zM87.0,124.8h.9v.9h-.9zM94.6,128.8h.9v.9h-.9zM98.3,126.7h.9v.9h-.9zM93.7,133.6h.9v.9h-.9zM94.5,131.2h.9v.9h-.9zM94.2,129.4h.9v.9h-.9zM93.8,126.8h.9v.9h-.9zM91.6,126.3h.9v.9h-.9zM90.1,125.7h.9v.9h-.9zM84.2,133.6h.9v.9h-.9zM89.8,133.7h.9v.9h-.9zM95.1,130.3h.9v.9h-.9zM92.4,125.5h.9v.9h-.9zM87.8,129.8h.9v.9h-.9zM96.4,132.1h.9v.9h-.9zM86.1,132.1h.9v.9h-.9zM88.7,126.6h.9v.9h-.9zM95.4,131.1h.9v.9h-.9zM95.8,129.7h.9v.9h-.9zM94.8,130.9h.9v.9h-.9zM91.7,126.9h.9v.9h-.9zM91.3,122.7h.9v.9h-.9zM90.5,124.8h.9v.9h-.9zM95.6,129.1h.9v.9h-.9zM85.1,130.9h.9v.9h-.9zM93.2,131.3h.9v.9h-.9zM98.2,130.0h.9v.9h-.9zM92.3,130.6h.9v.9h-.9zM83.6,131.4h.9v.9h-.9zM94.9,130.9h.9v.9h-.9zM88.0,133.5h.9v.9h-.9zM87.3,133.7h.9v.9h-.9zM94.3,126.5h.9v.9h-.9zM92.9,132.8h.9v.9h-.9zM94.3,127.0h.9v.9h-.9zM91.2,127.8h.9v.9h-.9zM89.8,127.7h.9v.9h-.9zM89.5,133.1h.9v.9h-.9zM93.1,133.0h.9v.9h-.9zM92.3,132.0h.9v.9h-.9zM93.3,129.4h.9v.9h-.9zM94.3,126.5h.9v.9h-.9zM91.3,132.5h.9v.9h-.9zM97.0,132.7h.9v.9h-.9zM93.3,132.1h.9v.9h-.9zM94.9,131.8h.9v.9h-.9zM89.2,133.4h.9v.9h-.9zM90.8,129.7h.9v.9h-.9zM91.0,133.1h.9v.9h-.9zM91.5,132.1h.9v.9h-.9zM90.3,128.4h.9v.9h-.9zM88.0,131.9h.9v.9h-.9zM90.1,130.6h.9v.9h-.9zM92.2,131.4h.9v.9h-.9zM91.1,130.3h.9v.9h-.9zM88.9,132.1h.9v.9h-.9zM90.6,132.4h.9v.9h-.9zM93.1,129.0h.9v.9h-.9zM91.8,130.1h.9v.9h-.9zM85.6,140.5h.9v.9h-.9zM87.4,158.1h.9v.9h-.9zM87.6,137.9h.9v.9h-.9zM85.8,154.5h.9v.9h-.9zM87.3,138.2h.9v.9h-.9zM87.3,144.5h.9v.9h-.9zM86.2,148.9h.9v.9h-.9zM86.5,156.5h.9v.9h-.9zM86.7,142.3h.9v.9h-.9zM85.2,140.5h.9v.9h-.9zM85.4,139.7h.9v.9h-.9zM87.3,144.5h.9v.9h-.9zM85.8,152.2h.9v.9h-.9zM83.7,135.7h.9v.9h-.9zM87.0,152.8h.9v.9h-.9zM86.9,135.1h.9v.9h-.9zM86.4,146.5h.9v.9h-.9zM86.0,154.2h.9v.9h-.9zM86.2,136.9h.9v.9h-.9zM86.0,139.1h.9v.9h-.9zM86.2,140.7h.9v.9h-.9zM86.8,136.2h.9v.9h-.9zM87.3,144.4h.9v.9h-.9zM83.1,149.8h.9v.9h-.9zM86.8,136.3h.9v.9h-.9zM87.1,150.0h.9v.9h-.9zM84.4,158.6h.9v.9h-.9zM83.9,137.4h.9v.9h-.9zM86.8,160.6h.9v.9h-.9zM86.2,139.1h.9v.9h-.9zM87.5,158.4h.9v.9h-.9zM87.5,141.7h.9v.9h-.9zM86.9,160.1h.9v.9h-.9zM84.6,136.4h.9v.9h-.9zM86.9,146.9h.9v.9h-.9zM87.1,152.8h.9v.9h-.9zM86.5,144.4h.9v.9h-.9zM83.5,147.7h.9v.9h-.9zM83.8,139.3h.9v.9h-.9zM84.8,148.7h.9v.9h-.9zM87.5,135.0h.9v.9h-.9zM84.5,149.3h.9v.9h-.9zM87.1,140.8h.9v.9h-.9zM85.0,152.5h.9v.9h-.9zM87.7,138.3h.9v.9h-.9zM86.1,155.0h.9v.9h-.9zM83.1,158.2h.9v.9h-.9zM84.8,139.4h.9v.9h-.9zM84.5,140.6h.9v.9h-.9zM84.2,136.6h.9v.9h-.9zM85.2,140.4h.9v.9h-.9zM85.6,138.2h.9v.9h-.9zM87.2,139.6h.9v.9h-.9zM87.7,160.5h.9v.9h-.9zM85.1,145.5h.9v.9h-.9zM87.6,160.8h.9v.9h-.9zM87.4,140.8h.9v.9h-.9zM85.3,160.8h.9v.9h-.9zM87.4,148.0h.9v.9h-.9zM84.9,140.3h.9v.9h-.9zM87.6,157.6h.9v.9h-.9zM85.4,147.0h.9v.9h-.9zM80.2,140.6h.9v.9h-.9zM86.0,145.7h.9v.9h-.9zM87.3,143.9h.9v.9h-.9zM87.5,144.7h.9v.9h-.9zM87.3,138.8h.9v.9h-.9zM87.7,151.3h.9v.9h-.9zM87.7,141.5h.9v.9h-.9zM85.2,154.2h.9v.9h-.9zM87.0,138.1h.9v.9h-.9zM87.6,161.1h.9v.9h-.9zM86.7,138.5h.9v.9h-.9zM86.1,150.5h.9v.9h-.9zM85.9,159.0h.9v.9h-.9zM86.3,139.0h.9v.9h-.9zM87.2,150.6h.9v.9h-.9zM85.7,159.1h.9v.9h-.9zM87.1,152.8h.9v.9h-.9zM84.5,141.8h.9v.9h-.9zM83.8,160.6h.9v.9h-.9zM87.2,159.8h.9v.9h-.9zM87.3,137.2h.9v.9h-.9zM86.1,142.4h.9v.9h-.9zM87.5,161.3h.9v.9h-.9zM86.3,149.1h.9v.9h-.9zM86.2,158.0h.9v.9h-.9zM86.7,148.6h.9v.9h-.9zM85.0,137.6h.9v.9h-.9zM87.6,150.7h.9v.9h-.9zM84.8,156.6h.9v.9h-.9zM83.6,139.7h.9v.9h-.9zM84.7,136.4h.9v.9h-.9zM85.6,139.4h.9v.9h-.9zM86.1,153.6h.9v.9h-.9zM87.6,144.5h.9v.9h-.9zM86.2,148.9h.9v.9h-.9zM87.4,155.0h.9v.9h-.9zM87.0,151.7h.9v.9h-.9zM84.8,156.6h.9v.9h-.9zM87.2,134.6h.9v.9h-.9zM84.7,154.1h.9v.9h-.9zM87.2,152.4h.9v.9h-.9zM85.6,156.2h.9v.9h-.9zM83.1,140.8h.9v.9h-.9zM83.1,140.1h.9v.9h-.9zM85.6,145.7h.9v.9h-.9zM83.5,140.8h.9v.9h-.9zM86.7,154.8h.9v.9h-.9zM85.8,155.7h.9v.9h-.9zM85.4,137.9h.9v.9h-.9zM87.5,141.7h.9v.9h-.9zM86.3,135.3h.9v.9h-.9zM86.4,146.0h.9v.9h-.9zM86.2,136.5h.9v.9h-.9zM83.5,150.4h.9v.9h-.9zM85.3,144.2h.9v.9h-.9zM87.1,139.2h.9v.9h-.9zM85.6,147.7h.9v.9h-.9zM84.7,138.8h.9v.9h-.9zM87.4,144.6h.9v.9h-.9zM84.4,157.6h.9v.9h-.9zM86.9,152.2h.9v.9h-.9zM85.6,161.3h.9v.9h-.9zM85.4,139.8h.9v.9h-.9zM87.5,141.4h.9v.9h-.9zM86.0,157.2h.9v.9h-.9zM84.6,158.7h.9v.9h-.9zM85.4,150.7h.9v.9h-.9zM87.6,149.2h.9v.9h-.9zM87.4,154.5h.9v.9h-.9zM87.6,134.4h.9v.9h-.9zM86.9,139.1h.9v.9h-.9zM87.6,140.7h.9v.9h-.9zM87.5,141.7h.9v.9h-.9zM86.3,134.8h.9v.9h-.9zM82.0,137.5h.9v.9h-.9zM82.8,138.4h.9v.9h-.9zM85.6,143.7h.9v.9h-.9zM86.0,145.9h.9v.9h-.9zM87.5,147.7h.9v.9h-.9zM87.7,136.6h.9v.9h-.9zM87.0,138.8h.9v.9h-.9zM85.4,153.7h.9v.9h-.9zM86.2,141.6h.9v.9h-.9zM86.9,143.8h.9v.9h-.9zM84.6,148.0h.9v.9h-.9zM86.0,149.9h.9v.9h-.9zM83.4,135.7h.9v.9h-.9zM86.0,145.0h.9v.9h-.9zM85.2,154.3h.9v.9h-.9zM87.2,156.7h.9v.9h-.9zM84.2,136.9h.9v.9h-.9zM86.6,154.0h.9v.9h-.9zM87.0,156.7h.9v.9h-.9zM87.3,136.9h.9v.9h-.9zM86.3,152.8h.9v.9h-.9zM86.7,139.7h.9v.9h-.9zM87.3,150.6h.9v.9h-.9zM85.5,141.0h.9v.9h-.9zM85.9,141.5h.9v.9h-.9zM85.5,154.5h.9v.9h-.9zM86.6,135.2h.9v.9h-.9zM87.5,142.4h.9v.9h-.9zM86.3,152.2h.9v.9h-.9zM86.7,159.5h.9v.9h-.9zM85.1,140.0h.9v.9h-.9zM86.6,141.6h.9v.9h-.9zM85.0,138.7h.9v.9h-.9zM87.2,157.4h.9v.9h-.9zM84.3,154.3h.9v.9h-.9zM84.3,142.9h.9v.9h-.9zM86.8,143.1h.9v.9h-.9zM87.6,151.3h.9v.9h-.9zM87.0,136.8h.9v.9h-.9zM85.4,138.5h.9v.9h-.9zM87.0,160.3h.9v.9h-.9zM86.1,139.8h.9v.9h-.9zM86.1,137.6h.9v.9h-.9zM85.3,144.4h.9v.9h-.9zM87.6,154.3h.9v.9h-.9zM84.3,137.3h.9v.9h-.9zM87.1,136.3h.9v.9h-.9zM86.0,141.3h.9v.9h-.9zM86.2,153.0h.9v.9h-.9zM87.4,147.6h.9v.9h-.9zM86.0,154.2h.9v.9h-.9zM87.5,146.8h.9v.9h-.9zM85.8,160.2h.9v.9h-.9zM85.2,137.2h.9v.9h-.9zM86.6,147.0h.9v.9h-.9zM86.6,135.3h.9v.9h-.9zM86.5,161.7h.9v.9h-.9zM86.8,147.3h.9v.9h-.9zM87.1,151.6h.9v.9h-.9zM87.5,155.2h.9v.9h-.9zM87.0,155.8h.9v.9h-.9zM86.9,145.3h.9v.9h-.9zM87.4,136.9h.9v.9h-.9zM87.1,142.3h.9v.9h-.9zM87.6,155.7h.9v.9h-.9zM87.1,136.3h.9v.9h-.9zM87.0,138.9h.9v.9h-.9zM84.0,139.0h.9v.9h-.9zM86.9,139.1h.9v.9h-.9zM87.5,143.7h.9v.9h-.9zM85.6,137.7h.9v.9h-.9zM87.5,137.6h.9v.9h-.9zM82.4,141.5h.9v.9h-.9zM87.5,159.5h.9v.9h-.9zM83.5,147.5h.9v.9h-.9zM85.1,142.4h.9v.9h-.9zM87.0,147.3h.9v.9h-.9zM87.0,137.9h.9v.9h-.9zM84.5,139.7h.9v.9h-.9zM86.8,157.0h.9v.9h-.9zM87.5,143.8h.9v.9h-.9zM87.7,147.4h.9v.9h-.9zM86.2,161.9h.9v.9h-.9zM85.4,143.3h.9v.9h-.9zM84.5,139.1h.9v.9h-.9zM87.6,139.5h.9v.9h-.9zM85.9,146.0h.9v.9h-.9zM86.0,150.3h.9v.9h-.9zM84.1,134.6h.9v.9h-.9zM87.5,159.4h.9v.9h-.9zM85.0,160.9h.9v.9h-.9zM85.9,157.1h.9v.9h-.9zM84.3,141.7h.9v.9h-.9zM86.4,144.1h.9v.9h-.9zM86.3,144.9h.9v.9h-.9zM86.6,159.7h.9v.9h-.9zM86.8,145.8h.9v.9h-.9zM85.0,155.4h.9v.9h-.9zM84.6,141.1h.9v.9h-.9zM84.5,161.9h.9v.9h-.9zM86.0,154.6h.9v.9h-.9zM87.6,141.4h.9v.9h-.9zM84.0,152.6h.9v.9h-.9zM84.9,138.0h.9v.9h-.9zM85.1,149.3h.9v.9h-.9zM85.8,143.9h.9v.9h-.9zM84.5,157.8h.9v.9h-.9zM85.3,138.2h.9v.9h-.9zM84.3,160.5h.9v.9h-.9zM87.6,152.5h.9v.9h-.9zM84.7,135.6h.9v.9h-.9zM86.0,147.0h.9v.9h-.9zM85.9,143.8h.9v.9h-.9zM87.0,158.6h.9v.9h-.9zM84.3,140.3h.9v.9h-.9zM86.9,137.1h.9v.9h-.9zM86.4,143.4h.9v.9h-.9zM84.2,140.6h.9v.9h-.9zM87.1,136.3h.9v.9h-.9zM84.7,139.8h.9v.9h-.9zM86.3,147.2h.9v.9h-.9zM84.8,160.9h.9v.9h-.9zM85.6,142.9h.9v.9h-.9zM84.8,147.4h.9v.9h-.9zM84.6,159.4h.9v.9h-.9zM87.5,158.7h.9v.9h-.9zM86.0,150.3h.9v.9h-.9zM85.6,157.4h.9v.9h-.9zM86.1,148.8h.9v.9h-.9zM85.6,158.9h.9v.9h-.9zM87.5,152.9h.9v.9h-.9zM87.2,144.4h.9v.9h-.9zM85.9,161.0h.9v.9h-.9zM87.4,159.8h.9v.9h-.9zM86.7,135.3h.9v.9h-.9zM85.9,154.3h.9v.9h-.9zM86.5,146.3h.9v.9h-.9zM85.7,157.2h.9v.9h-.9zM86.4,156.3h.9v.9h-.9zM86.8,155.1h.9v.9h-.9zM86.6,156.7h.9v.9h-.9zM86.9,162.0h.9v.9h-.9zM83.6,146.4h.9v.9h-.9zM85.4,160.2h.9v.9h-.9zM85.6,139.9h.9v.9h-.9zM87.1,154.7h.9v.9h-.9zM86.0,139.5h.9v.9h-.9zM85.4,152.9h.9v.9h-.9zM87.0,138.3h.9v.9h-.9zM79.0,150.0h.9v.9h-.9zM85.3,156.5h.9v.9h-.9zM85.9,149.7h.9v.9h-.9zM83.7,155.5h.9v.9h-.9zM86.4,160.1h.9v.9h-.9zM86.3,140.1h.9v.9h-.9zM85.4,159.4h.9v.9h-.9zM87.4,159.4h.9v.9h-.9zM85.4,160.3h.9v.9h-.9zM87.0,149.9h.9v.9h-.9zM86.0,156.7h.9v.9h-.9zM85.5,146.1h.9v.9h-.9zM86.5,142.0h.9v.9h-.9zM86.8,146.0h.9v.9h-.9zM85.5,136.9h.9v.9h-.9zM87.5,134.5h.9v.9h-.9zM86.0,155.2h.9v.9h-.9zM85.0,140.9h.9v.9h-.9zM87.6,139.2h.9v.9h-.9zM85.3,151.1h.9v.9h-.9zM86.6,150.6h.9v.9h-.9zM86.9,154.4h.9v.9h-.9zM87.7,154.1h.9v.9h-.9zM84.5,141.9h.9v.9h-.9zM85.3,135.8h.9v.9h-.9zM83.8,160.6h.9v.9h-.9zM86.9,136.2h.9v.9h-.9zM87.4,156.5h.9v.9h-.9zM87.2,147.1h.9v.9h-.9zM86.7,152.1h.9v.9h-.9zM85.9,155.7h.9v.9h-.9zM87.7,141.1h.9v.9h-.9zM87.3,145.7h.9v.9h-.9zM86.6,151.5h.9v.9h-.9zM87.3,140.4h.9v.9h-.9zM86.6,136.7h.9v.9h-.9zM87.1,148.4h.9v.9h-.9zM86.1,139.4h.9v.9h-.9zM85.6,161.4h.9v.9h-.9zM87.4,147.9h.9v.9h-.9zM85.6,139.8h.9v.9h-.9zM86.9,150.8h.9v.9h-.9zM87.0,136.3h.9v.9h-.9zM86.7,153.9h.9v.9h-.9zM85.7,144.2h.9v.9h-.9zM87.3,146.2h.9v.9h-.9zM85.9,145.2h.9v.9h-.9zM85.2,138.5h.9v.9h-.9zM86.0,134.5h.9v.9h-.9zM85.7,158.0h.9v.9h-.9zM87.4,151.9h.9v.9h-.9zM85.8,160.0h.9v.9h-.9zM86.0,142.6h.9v.9h-.9zM86.5,149.8h.9v.9h-.9zM86.0,160.8h.9v.9h-.9zM84.9,138.4h.9v.9h-.9zM85.1,156.4h.9v.9h-.9zM84.8,150.8h.9v.9h-.9zM86.9,160.7h.9v.9h-.9zM86.1,149.6h.9v.9h-.9zM86.7,137.5h.9v.9h-.9zM87.0,159.3h.9v.9h-.9zM87.6,143.3h.9v.9h-.9zM87.3,147.7h.9v.9h-.9zM85.8,159.3h.9v.9h-.9zM87.6,144.1h.9v.9h-.9zM83.2,152.1h.9v.9h-.9zM86.8,147.6h.9v.9h-.9zM86.7,151.3h.9v.9h-.9zM86.0,156.2h.9v.9h-.9zM87.6,145.1h.9v.9h-.9zM85.8,144.4h.9v.9h-.9zM85.6,142.0h.9v.9h-.9zM86.4,143.6h.9v.9h-.9zM87.2,153.5h.9v.9h-.9zM86.6,134.9h.9v.9h-.9zM87.5,156.8h.9v.9h-.9zM87.0,138.4h.9v.9h-.9zM87.6,141.7h.9v.9h-.9zM87.0,154.8h.9v.9h-.9zM86.9,160.7h.9v.9h-.9zM83.4,149.7h.9v.9h-.9zM86.9,160.1h.9v.9h-.9zM87.3,146.4h.9v.9h-.9zM86.5,158.3h.9v.9h-.9zM84.6,145.1h.9v.9h-.9zM84.3,155.3h.9v.9h-.9zM85.5,151.0h.9v.9h-.9zM87.1,135.9h.9v.9h-.9zM87.6,137.8h.9v.9h-.9zM84.6,151.9h.9v.9h-.9zM87.3,137.4h.9v.9h-.9zM87.0,151.3h.9v.9h-.9zM86.6,153.1h.9v.9h-.9zM85.8,161.6h.9v.9h-.9zM87.3,146.4h.9v.9h-.9zM86.5,140.8h.9v.9h-.9zM86.7,161.5h.9v.9h-.9zM84.6,139.2h.9v.9h-.9zM87.6,139.3h.9v.9h-.9zM86.6,154.9h.9v.9h-.9zM86.2,135.9h.9v.9h-.9zM84.7,135.2h.9v.9h-.9zM87.1,146.6h.9v.9h-.9zM87.0,146.9h.9v.9h-.9zM85.2,158.9h.9v.9h-.9zM86.2,145.3h.9v.9h-.9zM86.6,160.6h.9v.9h-.9zM84.9,149.9h.9v.9h-.9zM84.3,138.3h.9v.9h-.9zM86.8,153.6h.9v.9h-.9zM85.9,134.4h.9v.9h-.9zM86.6,148.7h.9v.9h-.9zM84.4,134.5h.9v.9h-.9zM87.1,153.0h.9v.9h-.9zM85.7,150.2h.9v.9h-.9zM87.4,161.1h.9v.9h-.9zM85.7,161.0h.9v.9h-.9zM85.2,143.1h.9v.9h-.9zM86.5,144.8h.9v.9h-.9zM87.2,156.4h.9v.9h-.9zM83.4,156.3h.9v.9h-.9zM85.0,153.5h.9v.9h-.9zM82.2,143.2h.9v.9h-.9zM87.6,151.3h.9v.9h-.9zM86.1,138.7h.9v.9h-.9zM86.2,142.0h.9v.9h-.9zM85.9,160.0h.9v.9h-.9zM83.7,155.4h.9v.9h-.9zM85.4,138.5h.9v.9h-.9zM87.5,159.6h.9v.9h-.9zM85.1,150.7h.9v.9h-.9zM83.5,136.7h.9v.9h-.9zM85.6,156.0h.9v.9h-.9zM86.4,137.5h.9v.9h-.9zM96.3,158.6h.9v.9h-.9zM97.7,141.5h.9v.9h-.9zM96.4,154.7h.9v.9h-.9zM96.1,148.1h.9v.9h-.9zM96.2,154.4h.9v.9h-.9zM96.1,142.1h.9v.9h-.9zM97.5,144.6h.9v.9h-.9zM98.4,162.1h.9v.9h-.9zM97.2,146.2h.9v.9h-.9zM97.8,155.5h.9v.9h-.9zM96.7,147.0h.9v.9h-.9zM96.6,160.8h.9v.9h-.9zM96.7,147.5h.9v.9h-.9zM97.3,138.3h.9v.9h-.9zM97.2,153.3h.9v.9h-.9zM99.4,149.4h.9v.9h-.9zM97.0,155.0h.9v.9h-.9zM97.0,144.8h.9v.9h-.9zM97.1,141.2h.9v.9h-.9zM95.8,147.6h.9v.9h-.9zM96.0,136.7h.9v.9h-.9zM97.3,135.3h.9v.9h-.9zM97.9,147.3h.9v.9h-.9zM97.7,154.6h.9v.9h-.9zM96.1,143.9h.9v.9h-.9zM96.5,138.1h.9v.9h-.9zM96.0,157.0h.9v.9h-.9zM96.3,148.3h.9v.9h-.9zM96.3,143.7h.9v.9h-.9zM97.2,147.5h.9v.9h-.9zM98.3,156.2h.9v.9h-.9zM95.7,140.5h.9v.9h-.9zM98.6,159.6h.9v.9h-.9zM98.3,155.8h.9v.9h-.9zM98.0,151.9h.9v.9h-.9zM98.2,146.7h.9v.9h-.9zM96.2,137.0h.9v.9h-.9zM97.7,153.3h.9v.9h-.9zM96.9,155.1h.9v.9h-.9zM95.9,157.3h.9v.9h-.9zM97.1,161.1h.9v.9h-.9zM96.4,153.4h.9v.9h-.9zM96.1,149.8h.9v.9h-.9zM96.4,138.1h.9v.9h-.9zM96.1,147.4h.9v.9h-.9zM96.7,144.6h.9v.9h-.9zM95.7,149.8h.9v.9h-.9zM95.8,138.8h.9v.9h-.9zM97.4,159.0h.9v.9h-.9zM97.9,161.7h.9v.9h-.9zM98.1,138.2h.9v.9h-.9zM98.6,145.0h.9v.9h-.9zM97.4,149.6h.9v.9h-.9zM95.8,140.0h.9v.9h-.9zM96.0,137.8h.9v.9h-.9zM96.1,150.0h.9v.9h-.9zM97.5,160.8h.9v.9h-.9zM96.2,160.8h.9v.9h-.9zM96.8,152.0h.9v.9h-.9zM98.2,153.0h.9v.9h-.9zM96.4,144.4h.9v.9h-.9zM96.6,161.3h.9v.9h-.9zM96.4,141.1h.9v.9h-.9zM96.2,134.6h.9v.9h-.9zM95.8,149.7h.9v.9h-.9zM96.1,137.6h.9v.9h-.9zM97.2,157.6h.9v.9h-.9zM96.7,160.2h.9v.9h-.9zM97.4,162.0h.9v.9h-.9zM96.6,134.3h.9v.9h-.9zM97.5,135.7h.9v.9h-.9zM98.8,143.0h.9v.9h-.9zM97.2,150.2h.9v.9h-.9zM97.0,159.5h.9v.9h-.9zM95.8,150.7h.9v.9h-.9zM95.8,140.0h.9v.9h-.9zM95.9,139.3h.9v.9h-.9zM96.0,160.3h.9v.9h-.9zM96.2,141.8h.9v.9h-.9zM96.8,143.3h.9v.9h-.9zM96.8,161.3h.9v.9h-.9zM97.4,136.2h.9v.9h-.9zM96.8,157.5h.9v.9h-.9zM96.3,155.1h.9v.9h-.9zM95.8,141.8h.9v.9h-.9zM96.4,152.8h.9v.9h-.9zM96.7,160.9h.9v.9h-.9zM99.8,151.7h.9v.9h-.9zM95.9,152.5h.9v.9h-.9zM96.8,149.7h.9v.9h-.9zM97.5,144.3h.9v.9h-.9zM96.5,138.3h.9v.9h-.9z" fill="#222" fill-opacity="0.8"/>
<path d="M88.6,162.2 L87.7,140.3 C87.7,135.5 89.3,134.3 91.7,134.3 C94.1,134.3 95.7,135.5 95.7,140.3 L94.8,162.2" fill="#c6c6c6" stroke="#1c1c1c" stroke-width="1.25" stroke-linejoin="round" stroke-opacity="1"/>
<path d="M92.0,138.3 L91.7,155.2" stroke="#f0f0f0" stroke-width="1.9" stroke-linecap="round" fill="none"/>
<path d="M87.1,141.6h.9v.9h-.9zM87.7,140.5h.9v.9h-.9zM95.3,151.6h.9v.9h-.9zM94.7,149.7h.9v.9h-.9zM95.2,139.2h.9v.9h-.9zM87.4,141.2h.9v.9h-.9zM88.5,143.6h.9v.9h-.9zM94.1,157.8h.9v.9h-.9zM88.3,156.1h.9v.9h-.9zM87.5,161.2h.9v.9h-.9zM94.6,159.9h.9v.9h-.9zM88.3,160.0h.9v.9h-.9zM87.6,145.8h.9v.9h-.9zM87.1,145.9h.9v.9h-.9zM95.0,150.1h.9v.9h-.9zM87.7,143.7h.9v.9h-.9zM88.6,160.1h.9v.9h-.9zM95.3,154.7h.9v.9h-.9zM87.4,149.7h.9v.9h-.9zM88.0,157.4h.9v.9h-.9zM95.4,139.0h.9v.9h-.9zM87.6,155.6h.9v.9h-.9zM94.6,153.9h.9v.9h-.9zM96.0,144.0h.9v.9h-.9zM87.9,137.9h.9v.9h-.9zM87.9,153.7h.9v.9h-.9zM88.1,154.3h.9v.9h-.9zM87.3,145.9h.9v.9h-.9zM94.8,138.8h.9v.9h-.9zM94.8,154.3h.9v.9h-.9zM87.4,139.2h.9v.9h-.9zM87.5,161.5h.9v.9h-.9zM88.0,143.9h.9v.9h-.9zM94.1,153.9h.9v.9h-.9zM95.0,139.4h.9v.9h-.9zM94.7,157.3h.9v.9h-.9zM87.8,148.3h.9v.9h-.9zM95.5,154.5h.9v.9h-.9zM87.9,156.7h.9v.9h-.9zM87.4,140.5h.9v.9h-.9zM88.5,160.5h.9v.9h-.9zM86.7,146.2h.9v.9h-.9zM95.7,141.7h.9v.9h-.9zM88.1,148.3h.9v.9h-.9zM88.1,148.1h.9v.9h-.9zM87.6,153.1h.9v.9h-.9zM94.8,140.6h.9v.9h-.9zM87.5,140.0h.9v.9h-.9zM87.6,146.3h.9v.9h-.9zM88.7,161.7h.9v.9h-.9zM94.0,151.2h.9v.9h-.9zM94.4,148.4h.9v.9h-.9zM87.3,142.7h.9v.9h-.9zM86.6,140.9h.9v.9h-.9zM87.4,143.2h.9v.9h-.9zM87.3,153.6h.9v.9h-.9zM87.8,153.7h.9v.9h-.9zM87.1,138.9h.9v.9h-.9zM88.8,154.7h.9v.9h-.9zM87.4,150.2h.9v.9h-.9zM93.7,150.8h.9v.9h-.9zM95.1,144.8h.9v.9h-.9zM87.4,144.0h.9v.9h-.9zM87.8,155.3h.9v.9h-.9zM93.5,154.8h.9v.9h-.9zM87.5,146.4h.9v.9h-.9zM94.7,143.4h.9v.9h-.9zM87.3,153.5h.9v.9h-.9zM86.9,144.4h.9v.9h-.9zM96.3,146.0h.9v.9h-.9zM88.0,150.4h.9v.9h-.9zM87.6,157.1h.9v.9h-.9zM88.4,155.0h.9v.9h-.9zM88.1,149.5h.9v.9h-.9zM88.4,138.9h.9v.9h-.9zM94.8,159.2h.9v.9h-.9zM87.2,147.9h.9v.9h-.9zM87.3,141.5h.9v.9h-.9zM86.8,139.3h.9v.9h-.9zM88.0,145.8h.9v.9h-.9zM87.1,142.4h.9v.9h-.9zM88.2,150.0h.9v.9h-.9zM94.6,147.3h.9v.9h-.9zM87.9,161.5h.9v.9h-.9zM88.2,156.5h.9v.9h-.9zM86.9,140.6h.9v.9h-.9zM88.5,152.8h.9v.9h-.9zM94.7,142.8h.9v.9h-.9zM86.8,144.9h.9v.9h-.9zM88.0,154.8h.9v.9h-.9zM88.5,151.6h.9v.9h-.9zM94.8,140.7h.9v.9h-.9zM95.4,152.2h.9v.9h-.9zM87.8,148.8h.9v.9h-.9zM88.1,147.8h.9v.9h-.9zM88.5,138.2h.9v.9h-.9zM96.1,143.6h.9v.9h-.9zM95.1,143.7h.9v.9h-.9zM95.6,150.3h.9v.9h-.9zM87.1,157.2h.9v.9h-.9zM87.8,149.0h.9v.9h-.9zM94.5,139.1h.9v.9h-.9zM95.3,142.0h.9v.9h-.9zM94.8,158.0h.9v.9h-.9zM88.0,160.7h.9v.9h-.9zM95.6,156.0h.9v.9h-.9zM87.1,145.3h.9v.9h-.9zM88.1,154.4h.9v.9h-.9zM95.1,146.7h.9v.9h-.9zM94.7,147.7h.9v.9h-.9zM88.5,150.2h.9v.9h-.9zM94.6,140.2h.9v.9h-.9zM88.0,158.4h.9v.9h-.9zM94.7,143.1h.9v.9h-.9zM95.1,152.5h.9v.9h-.9zM86.9,144.4h.9v.9h-.9zM87.4,158.0h.9v.9h-.9zM94.5,153.5h.9v.9h-.9zM87.6,154.0h.9v.9h-.9zM96.1,145.9h.9v.9h-.9zM87.6,143.2h.9v.9h-.9zM87.1,141.7h.9v.9h-.9zM87.1,147.6h.9v.9h-.9zM95.7,142.0h.9v.9h-.9zM89.0,157.3h.9v.9h-.9zM87.6,138.5h.9v.9h-.9zM87.3,147.4h.9v.9h-.9zM95.0,149.7h.9v.9h-.9zM86.7,139.5h.9v.9h-.9zM88.1,154.4h.9v.9h-.9zM87.3,154.6h.9v.9h-.9zM87.7,153.6h.9v.9h-.9zM95.3,155.0h.9v.9h-.9zM87.1,140.5h.9v.9h-.9zM95.5,150.9h.9v.9h-.9zM95.0,156.7h.9v.9h-.9zM87.2,155.6h.9v.9h-.9zM87.1,151.4h.9v.9h-.9zM87.4,141.8h.9v.9h-.9zM88.5,153.5h.9v.9h-.9zM95.1,152.0h.9v.9h-.9zM88.0,155.3h.9v.9h-.9zM94.2,159.5h.9v.9h-.9zM95.7,138.4h.9v.9h-.9zM94.1,157.7h.9v.9h-.9zM88.1,150.6h.9v.9h-.9zM88.7,145.9h.9v.9h-.9zM87.6,141.0h.9v.9h-.9zM87.9,152.8h.9v.9h-.9zM87.1,139.1h.9v.9h-.9zM87.5,155.4h.9v.9h-.9zM93.3,158.6h.9v.9h-.9zM86.9,151.1h.9v.9h-.9zM88.0,157.2h.9v.9h-.9zM94.7,160.0h.9v.9h-.9zM95.0,149.4h.9v.9h-.9zM94.4,154.6h.9v.9h-.9zM95.5,146.9h.9v.9h-.9zM86.3,143.1h.9v.9h-.9zM94.6,155.7h.9v.9h-.9zM88.5,147.3h.9v.9h-.9zM95.7,140.1h.9v.9h-.9zM94.6,150.0h.9v.9h-.9zM94.8,149.4h.9v.9h-.9zM87.1,158.8h.9v.9h-.9zM87.1,147.4h.9v.9h-.9zM95.4,153.6h.9v.9h-.9zM87.1,141.6h.9v.9h-.9zM88.3,161.0h.9v.9h-.9zM87.7,156.7h.9v.9h-.9zM87.4,151.5h.9v.9h-.9zM87.1,144.2h.9v.9h-.9zM94.4,146.9h.9v.9h-.9zM88.0,158.0h.9v.9h-.9zM88.0,156.9h.9v.9h-.9zM87.3,156.8h.9v.9h-.9zM87.6,152.8h.9v.9h-.9zM87.6,154.6h.9v.9h-.9zM95.6,156.6h.9v.9h-.9zM95.0,157.3h.9v.9h-.9zM86.9,148.3h.9v.9h-.9zM87.1,141.6h.9v.9h-.9zM95.0,143.1h.9v.9h-.9zM88.3,147.1h.9v.9h-.9zM88.5,157.9h.9v.9h-.9zM95.1,149.2h.9v.9h-.9zM88.4,149.5h.9v.9h-.9zM86.2,138.2h.9v.9h-.9zM88.2,153.3h.9v.9h-.9zM88.7,150.7h.9v.9h-.9zM93.4,152.9h.9v.9h-.9zM95.3,143.3h.9v.9h-.9zM87.8,140.3h.9v.9h-.9zM88.0,161.3h.9v.9h-.9zM87.4,151.0h.9v.9h-.9zM94.2,137.3h.9v.9h-.9zM94.6,136.2h.9v.9h-.9zM87.8,136.6h.9v.9h-.9zM95.6,138.5h.9v.9h-.9zM94.5,135.0h.9v.9h-.9zM88.5,135.1h.9v.9h-.9zM87.9,135.4h.9v.9h-.9zM95.3,138.8h.9v.9h-.9zM92.9,135.1h.9v.9h-.9zM90.9,134.4h.9v.9h-.9zM90.1,133.4h.9v.9h-.9zM88.6,134.3h.9v.9h-.9zM88.2,136.3h.9v.9h-.9zM87.6,136.9h.9v.9h-.9zM95.5,139.1h.9v.9h-.9zM88.0,137.2h.9v.9h-.9zM94.6,135.9h.9v.9h-.9zM92.5,134.0h.9v.9h-.9zM91.6,134.1h.9v.9h-.9zM88.3,135.7h.9v.9h-.9zM89.9,134.2h.9v.9h-.9zM93.0,134.1h.9v.9h-.9zM92.6,133.6h.9v.9h-.9zM94.4,135.5h.9v.9h-.9zM95.5,137.6h.9v.9h-.9zM87.9,135.5h.9v.9h-.9zM94.1,136.0h.9v.9h-.9zM93.8,133.7h.9v.9h-.9zM88.3,134.3h.9v.9h-.9zM88.7,135.0h.9v.9h-.9zM91.2,133.9h.9v.9h-.9zM95.5,136.9h.9v.9h-.9zM93.7,135.9h.9v.9h-.9zM92.1,134.1h.9v.9h-.9zM87.2,135.9h.9v.9h-.9zM94.2,135.0h.9v.9h-.9zM92.2,133.8h.9v.9h-.9zM90.1,134.4h.9v.9h-.9zM94.0,134.8h.9v.9h-.9zM95.8,138.7h.9v.9h-.9zM89.6,133.4h.9v.9h-.9zM92.0,133.7h.9v.9h-.9zM87.5,136.2h.9v.9h-.9zM88.1,135.6h.9v.9h-.9zM88.1,135.9h.9v.9h-.9zM90.6,133.1h.9v.9h-.9zM90.4,133.8h.9v.9h-.9zM94.2,134.8h.9v.9h-.9z" fill="#111" fill-opacity="0.9500000000000001"/>
</g>
<line x1="67.9" y1="97.6" x2="67.9" y2="162.9" stroke="#111" stroke-width="1.2"/>
<line x1="34.1" y1="133.2" x2="109.0" y2="133.2" stroke="#111" stroke-width="1.2"/>
<line x1="34.1" y1="97.1" x2="34.1" y2="163.65" stroke="#000" stroke-width="1.5"/>
<line x1="33.35" y1="162.9" x2="109.5" y2="162.9" stroke="#000" stroke-width="1.5"/>
<text x="104.0" y="161.1" font-size="2.6" font-weight="normal" text-anchor="middle" fill="#444" stroke="#444" stroke-width="0.05">94</text>
<text x="36.300000000000004" y="101.39999999999999" font-size="2.6" font-weight="normal" text-anchor="middle" fill="#444" stroke="#444" stroke-width="0.05">0</text>
<text x="107.3" y="108.0" font-size="9.8" font-weight="bold" text-anchor="end" fill="#111" stroke="#111" stroke-width="0.34">4.89</text>
<rect x="128.6" y="98.3" width="76.20" height="65.10" fill="#fff"/>
<line x1="128.6" y1="98.3" x2="204.8" y2="98.3" stroke="#666" stroke-width="1"/>
<line x1="204.8" y1="98.3" x2="204.8" y2="163.4" stroke="#666" stroke-width="1"/>
<line x1="126.0" y1="104.4845" x2="128.6" y2="104.4845" stroke="#222" stroke-width="0.9"/>
<line x1="126.0" y1="118.8065" x2="128.6" y2="118.8065" stroke="#222" stroke-width="0.9"/>
<line x1="126.0" y1="134.10500000000002" x2="128.6" y2="134.10500000000002" stroke="#222" stroke-width="0.9"/>
<line x1="126.0" y1="149.4035" x2="128.6" y2="149.4035" stroke="#222" stroke-width="0.9"/>
<line x1="126.0" y1="156.89000000000001" x2="128.6" y2="156.89000000000001" stroke="#222" stroke-width="0.9"/>
<line x1="136.22" y1="163.4" x2="136.22" y2="165.6" stroke="#222" stroke-width="0.9"/>
<line x1="144.983" y1="163.4" x2="144.983" y2="165.6" stroke="#222" stroke-width="0.9"/>
<line x1="163.27100000000002" y1="163.4" x2="163.27100000000002" y2="165.6" stroke="#222" stroke-width="0.9"/>
<line x1="183.464" y1="163.4" x2="183.464" y2="165.6" stroke="#222" stroke-width="0.9"/>
<line x1="199.466" y1="163.4" x2="199.466" y2="165.6" stroke="#222" stroke-width="0.9"/>
<path d="M130.5,163.4 v1.7 M132.4,163.4 v1.7 M134.3,163.4 v1.7 M136.2,163.4 v1.7 M138.1,163.4 v1.7 M140.0,163.4 v1.7 M141.9,163.4 v1.7 M143.8,163.4 v1.7 M145.7,163.4 v1.7 M147.7,163.4 v1.7 M149.6,163.4 v1.7 M151.5,163.4 v1.7 M153.4,163.4 v1.7 M155.3,163.4 v1.7 M157.2,163.4 v1.7 M159.1,163.4 v1.7 M161.0,163.4 v1.7 M162.9,163.4 v1.7 M164.8,163.4 v1.7 M166.7,163.4 v1.7 M168.6,163.4 v1.7 M170.5,163.4 v1.7 M172.4,163.4 v1.7 M174.3,163.4 v1.7 M176.2,163.4 v1.7 M178.1,163.4 v1.7 M180.0,163.4 v1.7 M181.9,163.4 v1.7 M183.8,163.4 v1.7 M185.8,163.4 v1.7 M187.7,163.4 v1.7 M189.6,163.4 v1.7 M191.5,163.4 v1.7 M193.4,163.4 v1.7 M195.3,163.4 v1.7 M197.2,163.4 v1.7 M199.1,163.4 v1.7 M201.0,163.4 v1.7 M202.9,163.4 v1.7" stroke="#111" stroke-width="0.75" fill="none"/>
<path d="M128.6,100.2 h-1.7 M128.6,102.1 h-1.7 M128.6,104.0 h-1.7 M128.6,106.0 h-1.7 M128.6,107.9 h-1.7 M128.6,109.8 h-1.7 M128.6,111.7 h-1.7 M128.6,113.6 h-1.7 M128.6,115.5 h-1.7 M128.6,117.4 h-1.7 M128.6,119.4 h-1.7 M128.6,121.3 h-1.7 M128.6,123.2 h-1.7 M128.6,125.1 h-1.7 M128.6,127.0 h-1.7 M128.6,128.9 h-1.7 M128.6,130.8 h-1.7 M128.6,132.8 h-1.7 M128.6,134.7 h-1.7 M128.6,136.6 h-1.7 M128.6,138.5 h-1.7 M128.6,140.4 h-1.7 M128.6,142.3 h-1.7 M128.6,144.3 h-1.7 M128.6,146.2 h-1.7 M128.6,148.1 h-1.7 M128.6,150.0 h-1.7 M128.6,151.9 h-1.7 M128.6,153.8 h-1.7 M128.6,155.7 h-1.7 M128.6,157.7 h-1.7 M128.6,159.6 h-1.7 M128.6,161.5 h-1.7" stroke="#111" stroke-width="0.75" fill="none"/>
<text x="125.39999999999999" y="105.58449999999999" font-size="3.4" font-weight="normal" text-anchor="end" fill="#222" stroke="#222" stroke-width="0.06">10⁵</text>
<text x="125.39999999999999" y="119.9065" font-size="3.4" font-weight="normal" text-anchor="end" fill="#222" stroke="#222" stroke-width="0.06">10⁴</text>
<text x="125.39999999999999" y="135.205" font-size="3.4" font-weight="normal" text-anchor="end" fill="#222" stroke="#222" stroke-width="0.06">10³</text>
<text x="125.39999999999999" y="150.5035" font-size="3.4" font-weight="normal" text-anchor="end" fill="#222" stroke="#222" stroke-width="0.06">10²</text>
<text x="125.39999999999999" y="157.99" font-size="3.4" font-weight="normal" text-anchor="end" fill="#222" stroke="#222" stroke-width="0.06">0</text>
<text x="136.22" y="169.6" font-size="3.4" font-weight="normal" text-anchor="middle" fill="#222" stroke="#222" stroke-width="0.06">0</text>
<text x="144.983" y="169.6" font-size="3.4" font-weight="normal" text-anchor="middle" fill="#222" stroke="#222" stroke-width="0.06">10²</text>
<text x="163.27100000000002" y="169.6" font-size="3.4" font-weight="normal" text-anchor="middle" fill="#222" stroke="#222" stroke-width="0.06">10³</text>
<text x="183.464" y="169.6" font-size="3.4" font-weight="normal" text-anchor="middle" fill="#222" stroke="#222" stroke-width="0.06">10⁴</text>
<text x="199.466" y="169.6" font-size="3.4" font-weight="normal" text-anchor="middle" fill="#222" stroke="#222" stroke-width="0.06">10⁵</text>
<g filter="url(#bl2)">
<path d="M185.7,131.8h.9v.9h-.9zM191.7,132.6h.9v.9h-.9zM191.6,133.1h.9v.9h-.9zM186.5,130.4h.9v.9h-.9zM189.3,133.2h.9v.9h-.9zM184.4,131.1h.9v.9h-.9zM189.2,124.4h.9v.9h-.9zM190.9,128.2h.9v.9h-.9zM186.9,127.5h.9v.9h-.9zM191.2,133.3h.9v.9h-.9zM186.2,128.2h.9v.9h-.9zM185.6,129.4h.9v.9h-.9zM190.9,130.6h.9v.9h-.9zM186.3,129.9h.9v.9h-.9zM185.6,125.1h.9v.9h-.9zM187.2,129.8h.9v.9h-.9zM188.0,122.6h.9v.9h-.9zM183.8,133.5h.9v.9h-.9zM186.1,131.9h.9v.9h-.9zM184.8,131.8h.9v.9h-.9zM193.5,130.7h.9v.9h-.9zM188.4,131.4h.9v.9h-.9zM186.4,133.3h.9v.9h-.9zM188.1,133.3h.9v.9h-.9zM187.7,126.0h.9v.9h-.9zM184.9,128.0h.9v.9h-.9zM190.7,131.9h.9v.9h-.9zM189.9,127.4h.9v.9h-.9zM186.2,125.2h.9v.9h-.9zM189.6,127.3h.9v.9h-.9zM184.8,133.1h.9v.9h-.9zM193.9,126.1h.9v.9h-.9zM184.3,129.1h.9v.9h-.9zM189.4,126.8h.9v.9h-.9zM180.2,128.7h.9v.9h-.9zM186.9,126.7h.9v.9h-.9zM185.4,131.0h.9v.9h-.9zM186.6,132.3h.9v.9h-.9zM185.2,133.7h.9v.9h-.9zM187.1,133.6h.9v.9h-.9zM191.9,130.2h.9v.9h-.9zM191.3,131.0h.9v.9h-.9zM189.2,129.8h.9v.9h-.9zM189.2,123.3h.9v.9h-.9zM185.3,132.9h.9v.9h-.9zM180.9,125.2h.9v.9h-.9zM189.4,132.0h.9v.9h-.9zM186.1,133.2h.9v.9h-.9zM193.3,128.3h.9v.9h-.9zM184.5,133.0h.9v.9h-.9zM190.3,129.3h.9v.9h-.9zM190.3,128.9h.9v.9h-.9zM193.4,132.9h.9v.9h-.9zM190.4,133.3h.9v.9h-.9zM189.7,132.4h.9v.9h-.9zM194.3,127.9h.9v.9h-.9zM188.5,128.4h.9v.9h-.9zM183.9,131.4h.9v.9h-.9zM188.2,131.9h.9v.9h-.9zM190.8,132.3h.9v.9h-.9zM188.1,127.1h.9v.9h-.9zM184.8,132.8h.9v.9h-.9zM187.2,132.1h.9v.9h-.9zM185.9,133.0h.9v.9h-.9zM191.6,131.7h.9v.9h-.9zM193.6,132.1h.9v.9h-.9zM188.3,127.2h.9v.9h-.9zM185.1,129.1h.9v.9h-.9zM190.5,130.1h.9v.9h-.9zM189.7,129.9h.9v.9h-.9zM190.6,130.5h.9v.9h-.9zM186.9,131.6h.9v.9h-.9zM195.2,126.1h.9v.9h-.9zM188.9,126.6h.9v.9h-.9zM186.2,129.3h.9v.9h-.9zM188.8,130.1h.9v.9h-.9zM187.5,132.6h.9v.9h-.9zM184.3,134.1h.9v.9h-.9zM190.1,133.2h.9v.9h-.9zM187.6,121.7h.9v.9h-.9zM187.7,129.9h.9v.9h-.9zM184.6,131.4h.9v.9h-.9zM184.7,132.3h.9v.9h-.9zM181.7,129.3h.9v.9h-.9zM187.2,131.1h.9v.9h-.9zM191.7,128.5h.9v.9h-.9zM185.8,126.8h.9v.9h-.9zM188.4,130.7h.9v.9h-.9zM186.9,131.2h.9v.9h-.9zM185.5,126.8h.9v.9h-.9zM187.0,133.9h.9v.9h-.9zM190.8,126.0h.9v.9h-.9zM191.0,132.1h.9v.9h-.9zM188.6,133.6h.9v.9h-.9zM191.6,128.4h.9v.9h-.9zM186.6,134.0h.9v.9h-.9zM188.1,131.3h.9v.9h-.9zM190.9,132.4h.9v.9h-.9zM185.6,127.9h.9v.9h-.9zM187.0,133.2h.9v.9h-.9zM188.2,133.6h.9v.9h-.9zM193.1,132.0h.9v.9h-.9zM186.0,132.6h.9v.9h-.9zM188.6,134.0h.9v.9h-.9zM191.1,125.6h.9v.9h-.9zM190.1,129.4h.9v.9h-.9zM185.0,133.9h.9v.9h-.9zM190.3,131.2h.9v.9h-.9zM184.8,122.1h.9v.9h-.9zM185.7,130.3h.9v.9h-.9zM191.3,132.5h.9v.9h-.9zM186.5,133.7h.9v.9h-.9zM191.5,129.7h.9v.9h-.9zM184.7,134.0h.9v.9h-.9zM187.2,134.1h.9v.9h-.9zM187.5,128.3h.9v.9h-.9zM188.5,124.1h.9v.9h-.9zM186.5,127.4h.9v.9h-.9zM184.3,130.8h.9v.9h-.9zM187.8,133.8h.9v.9h-.9zM181.5,132.3h.9v.9h-.9zM185.9,129.4h.9v.9h-.9zM191.3,129.7h.9v.9h-.9zM187.1,133.1h.9v.9h-.9zM187.1,130.5h.9v.9h-.9zM189.3,129.4h.9v.9h-.9zM192.0,128.0h.9v.9h-.9zM186.2,129.4h.9v.9h-.9zM191.1,129.1h.9v.9h-.9zM186.4,132.7h.9v.9h-.9zM187.6,129.7h.9v.9h-.9zM188.7,133.2h.9v.9h-.9zM186.8,126.6h.9v.9h-.9zM190.7,127.6h.9v.9h-.9zM186.3,125.7h.9v.9h-.9zM188.1,122.7h.9v.9h-.9zM189.1,130.6h.9v.9h-.9zM187.3,124.2h.9v.9h-.9zM187.8,125.8h.9v.9h-.9zM193.0,133.0h.9v.9h-.9zM186.6,132.2h.9v.9h-.9zM189.8,125.1h.9v.9h-.9zM190.5,130.8h.9v.9h-.9zM193.5,125.7h.9v.9h-.9zM189.8,129.4h.9v.9h-.9zM192.2,123.1h.9v.9h-.9zM187.2,129.2h.9v.9h-.9zM182.6,132.5h.9v.9h-.9zM189.4,133.2h.9v.9h-.9zM188.0,133.9h.9v.9h-.9zM190.2,127.3h.9v.9h-.9zM187.9,129.5h.9v.9h-.9zM190.6,131.9h.9v.9h-.9zM191.3,131.4h.9v.9h-.9zM193.9,131.4h.9v.9h-.9zM189.9,129.5h.9v.9h-.9zM187.9,128.1h.9v.9h-.9zM188.7,131.8h.9v.9h-.9zM189.2,132.1h.9v.9h-.9zM185.6,123.6h.9v.9h-.9zM194.2,130.3h.9v.9h-.9zM187.6,123.0h.9v.9h-.9zM189.2,129.0h.9v.9h-.9zM182.5,132.8h.9v.9h-.9zM196.2,132.2h.9v.9h-.9zM189.2,131.7h.9v.9h-.9zM187.1,129.1h.9v.9h-.9zM190.7,127.9h.9v.9h-.9zM182.7,131.1h.9v.9h-.9zM186.4,132.1h.9v.9h-.9zM185.7,130.8h.9v.9h-.9zM190.6,127.6h.9v.9h-.9zM194.0,132.8h.9v.9h-.9zM188.7,129.9h.9v.9h-.9zM190.6,133.9h.9v.9h-.9zM187.5,122.4h.9v.9h-.9zM185.5,125.6h.9v.9h-.9zM184.7,132.7h.9v.9h-.9zM190.5,131.2h.9v.9h-.9zM188.8,130.9h.9v.9h-.9zM188.2,133.9h.9v.9h-.9zM190.5,131.2h.9v.9h-.9zM190.2,130.0h.9v.9h-.9zM194.8,130.0h.9v.9h-.9zM186.8,132.3h.9v.9h-.9zM186.3,132.0h.9v.9h-.9zM185.1,131.2h.9v.9h-.9zM186.0,129.4h.9v.9h-.9zM184.1,126.4h.9v.9h-.9zM188.7,132.7h.9v.9h-.9zM185.7,132.0h.9v.9h-.9zM190.3,130.4h.9v.9h-.9zM186.1,133.0h.9v.9h-.9zM191.7,127.6h.9v.9h-.9zM186.5,127.3h.9v.9h-.9zM189.2,132.7h.9v.9h-.9zM190.9,131.9h.9v.9h-.9zM184.7,131.4h.9v.9h-.9zM186.2,131.8h.9v.9h-.9zM186.6,127.0h.9v.9h-.9zM185.9,133.9h.9v.9h-.9zM194.1,133.7h.9v.9h-.9zM191.9,122.6h.9v.9h-.9zM185.5,127.9h.9v.9h-.9zM183.4,131.2h.9v.9h-.9zM190.5,131.5h.9v.9h-.9zM189.6,129.7h.9v.9h-.9zM189.8,130.8h.9v.9h-.9zM189.1,130.4h.9v.9h-.9zM191.5,127.6h.9v.9h-.9zM184.4,130.3h.9v.9h-.9zM186.5,131.9h.9v.9h-.9zM187.8,128.0h.9v.9h-.9zM192.6,133.3h.9v.9h-.9zM188.6,130.1h.9v.9h-.9zM184.4,132.7h.9v.9h-.9zM192.3,126.7h.9v.9h-.9zM187.4,133.6h.9v.9h-.9zM192.8,133.9h.9v.9h-.9zM186.4,126.6h.9v.9h-.9zM191.5,130.0h.9v.9h-.9zM190.5,133.9h.9v.9h-.9zM188.8,129.3h.9v.9h-.9zM185.5,127.4h.9v.9h-.9zM184.8,132.5h.9v.9h-.9zM186.2,131.7h.9v.9h-.9zM187.4,131.7h.9v.9h-.9zM187.9,125.3h.9v.9h-.9zM192.0,131.1h.9v.9h-.9zM184.0,131.0h.9v.9h-.9zM188.2,126.8h.9v.9h-.9zM178.7,133.4h.9v.9h-.9zM186.5,129.6h.9v.9h-.9zM192.8,134.1h.9v.9h-.9zM191.4,132.7h.9v.9h-.9zM183.5,133.6h.9v.9h-.9zM188.3,132.5h.9v.9h-.9zM187.5,132.1h.9v.9h-.9zM188.7,128.1h.9v.9h-.9zM185.9,123.5h.9v.9h-.9zM186.9,133.0h.9v.9h-.9zM187.7,130.9h.9v.9h-.9zM188.3,131.9h.9v.9h-.9zM190.0,128.9h.9v.9h-.9zM187.9,129.2h.9v.9h-.9zM189.6,130.5h.9v.9h-.9zM186.5,132.9h.9v.9h-.9zM190.3,131.9h.9v.9h-.9zM189.9,130.1h.9v.9h-.9zM187.5,129.1h.9v.9h-.9zM190.3,133.7h.9v.9h-.9zM186.2,133.5h.9v.9h-.9zM188.5,121.6h.9v.9h-.9zM192.0,129.0h.9v.9h-.9zM191.1,127.9h.9v.9h-.9zM189.8,125.9h.9v.9h-.9zM190.3,132.3h.9v.9h-.9zM186.3,130.9h.9v.9h-.9zM188.4,124.7h.9v.9h-.9zM185.1,132.4h.9v.9h-.9zM186.0,131.0h.9v.9h-.9zM192.5,133.6h.9v.9h-.9zM184.0,131.0h.9v.9h-.9zM185.4,129.7h.9v.9h-.9zM186.0,132.5h.9v.9h-.9zM189.0,127.0h.9v.9h-.9zM184.7,131.9h.9v.9h-.9zM185.0,127.8h.9v.9h-.9zM189.0,133.1h.9v.9h-.9zM190.5,129.0h.9v.9h-.9zM188.0,127.2h.9v.9h-.9zM186.4,127.2h.9v.9h-.9zM185.8,129.2h.9v.9h-.9zM183.9,131.1h.9v.9h-.9zM186.2,132.0h.9v.9h-.9zM191.3,133.5h.9v.9h-.9zM190.0,131.1h.9v.9h-.9zM188.7,126.2h.9v.9h-.9zM186.7,126.4h.9v.9h-.9zM191.2,127.5h.9v.9h-.9zM189.2,127.2h.9v.9h-.9zM189.3,130.6h.9v.9h-.9zM186.0,133.9h.9v.9h-.9zM195.4,125.6h.9v.9h-.9zM187.4,133.4h.9v.9h-.9zM186.0,123.0h.9v.9h-.9zM188.5,131.4h.9v.9h-.9zM185.8,131.9h.9v.9h-.9zM185.1,129.2h.9v.9h-.9zM190.4,133.1h.9v.9h-.9zM188.1,128.7h.9v.9h-.9zM185.8,129.6h.9v.9h-.9zM191.9,128.6h.9v.9h-.9zM184.9,123.6h.9v.9h-.9zM185.4,127.8h.9v.9h-.9zM192.7,132.6h.9v.9h-.9zM188.3,130.4h.9v.9h-.9zM188.9,125.0h.9v.9h-.9zM187.7,129.4h.9v.9h-.9zM187.3,126.7h.9v.9h-.9zM187.2,128.0h.9v.9h-.9zM189.5,133.3h.9v.9h-.9zM185.0,128.5h.9v.9h-.9zM185.9,128.9h.9v.9h-.9zM186.7,133.1h.9v.9h-.9zM191.1,131.3h.9v.9h-.9zM185.5,129.4h.9v.9h-.9zM188.3,132.7h.9v.9h-.9zM184.2,130.6h.9v.9h-.9zM187.8,130.8h.9v.9h-.9zM181.2,134.0h.9v.9h-.9zM188.0,130.1h.9v.9h-.9zM187.1,130.6h.9v.9h-.9zM187.9,130.2h.9v.9h-.9zM189.1,128.1h.9v.9h-.9zM191.0,128.3h.9v.9h-.9zM181.9,133.7h.9v.9h-.9zM187.2,132.8h.9v.9h-.9zM186.8,130.9h.9v.9h-.9zM184.5,133.4h.9v.9h-.9zM190.6,132.8h.9v.9h-.9zM190.3,131.6h.9v.9h-.9zM184.3,133.5h.9v.9h-.9zM193.6,125.8h.9v.9h-.9zM185.4,129.5h.9v.9h-.9zM189.6,130.0h.9v.9h-.9zM186.6,127.6h.9v.9h-.9zM187.3,132.3h.9v.9h-.9zM182.6,132.9h.9v.9h-.9zM189.3,125.5h.9v.9h-.9zM181.0,148.3h.9v.9h-.9zM183.0,140.1h.9v.9h-.9zM178.0,154.0h.9v.9h-.9zM183.2,147.5h.9v.9h-.9zM181.9,156.1h.9v.9h-.9zM183.0,144.0h.9v.9h-.9zM182.5,150.3h.9v.9h-.9zM182.3,152.7h.9v.9h-.9zM182.8,137.5h.9v.9h-.9zM182.7,149.8h.9v.9h-.9zM182.5,157.3h.9v.9h-.9zM180.6,147.6h.9v.9h-.9zM183.1,157.6h.9v.9h-.9zM181.5,158.0h.9v.9h-.9zM182.8,140.3h.9v.9h-.9zM182.1,144.2h.9v.9h-.9zM182.2,155.1h.9v.9h-.9zM182.7,136.3h.9v.9h-.9zM182.1,158.4h.9v.9h-.9zM181.2,135.7h.9v.9h-.9zM181.6,148.3h.9v.9h-.9zM181.6,161.1h.9v.9h-.9zM182.5,160.4h.9v.9h-.9zM182.0,146.1h.9v.9h-.9zM181.1,142.2h.9v.9h-.9zM182.3,147.6h.9v.9h-.9zM182.2,141.4h.9v.9h-.9zM179.5,135.3h.9v.9h-.9zM181.3,142.1h.9v.9h-.9zM181.0,148.3h.9v.9h-.9zM180.5,146.8h.9v.9h-.9zM180.0,154.2h.9v.9h-.9zM177.4,148.6h.9v.9h-.9zM183.1,151.0h.9v.9h-.9zM180.9,146.0h.9v.9h-.9zM180.0,138.3h.9v.9h-.9zM183.1,156.5h.9v.9h-.9zM182.1,145.9h.9v.9h-.9zM181.6,160.9h.9v.9h-.9zM181.6,142.4h.9v.9h-.9zM182.4,160.7h.9v.9h-.9zM182.8,144.8h.9v.9h-.9zM180.1,149.6h.9v.9h-.9zM181.0,139.7h.9v.9h-.9zM182.2,137.1h.9v.9h-.9zM183.2,141.0h.9v.9h-.9zM183.2,139.6h.9v.9h-.9zM182.7,137.1h.9v.9h-.9zM179.3,153.1h.9v.9h-.9zM182.7,159.3h.9v.9h-.9zM182.8,155.7h.9v.9h-.9zM181.3,152.4h.9v.9h-.9zM181.4,147.6h.9v.9h-.9zM180.9,147.8h.9v.9h-.9zM180.8,140.4h.9v.9h-.9zM182.6,144.0h.9v.9h-.9zM180.6,147.0h.9v.9h-.9zM181.5,137.8h.9v.9h-.9zM183.3,149.2h.9v.9h-.9zM181.5,161.2h.9v.9h-.9zM182.3,153.9h.9v.9h-.9zM182.8,135.8h.9v.9h-.9zM183.3,150.8h.9v.9h-.9zM183.1,146.4h.9v.9h-.9zM181.6,152.3h.9v.9h-.9zM182.7,136.4h.9v.9h-.9zM183.2,149.1h.9v.9h-.9zM180.9,138.7h.9v.9h-.9zM183.2,151.7h.9v.9h-.9zM181.6,147.0h.9v.9h-.9zM182.9,148.5h.9v.9h-.9zM182.4,139.5h.9v.9h-.9zM182.9,150.5h.9v.9h-.9zM182.9,138.8h.9v.9h-.9zM180.3,159.1h.9v.9h-.9zM182.3,153.6h.9v.9h-.9zM179.6,141.2h.9v.9h-.9zM181.0,153.4h.9v.9h-.9zM179.8,159.3h.9v.9h-.9zM182.1,160.1h.9v.9h-.9zM182.4,139.8h.9v.9h-.9zM183.0,157.4h.9v.9h-.9zM182.8,144.4h.9v.9h-.9zM181.5,157.6h.9v.9h-.9zM182.3,160.4h.9v.9h-.9zM179.9,161.9h.9v.9h-.9zM182.1,155.0h.9v.9h-.9zM182.7,147.1h.9v.9h-.9zM180.2,161.0h.9v.9h-.9zM181.6,156.1h.9v.9h-.9zM181.2,134.7h.9v.9h-.9zM181.0,146.1h.9v.9h-.9zM180.1,162.8h.9v.9h-.9zM183.2,151.1h.9v.9h-.9zM182.0,159.8h.9v.9h-.9zM182.8,137.1h.9v.9h-.9zM180.4,155.1h.9v.9h-.9zM180.8,149.2h.9v.9h-.9zM180.1,136.3h.9v.9h-.9zM182.6,159.2h.9v.9h-.9zM181.8,161.0h.9v.9h-.9zM183.1,139.5h.9v.9h-.9zM179.5,147.2h.9v.9h-.9zM183.3,143.6h.9v.9h-.9zM182.2,149.7h.9v.9h-.9zM179.5,138.7h.9v.9h-.9zM181.7,160.3h.9v.9h-.9zM183.1,153.9h.9v.9h-.9zM180.3,142.8h.9v.9h-.9zM182.2,154.3h.9v.9h-.9zM182.7,151.1h.9v.9h-.9zM180.6,147.1h.9v.9h-.9zM181.0,139.4h.9v.9h-.9zM181.0,157.7h.9v.9h-.9zM182.0,162.3h.9v.9h-.9zM179.6,138.9h.9v.9h-.9zM182.9,157.9h.9v.9h-.9zM182.8,152.7h.9v.9h-.9zM181.3,143.9h.9v.9h-.9zM179.3,140.4h.9v.9h-.9zM179.6,138.1h.9v.9h-.9zM182.9,160.4h.9v.9h-.9zM179.6,149.0h.9v.9h-.9zM183.3,151.4h.9v.9h-.9zM181.4,162.4h.9v.9h-.9zM181.1,156.3h.9v.9h-.9zM183.0,155.7h.9v.9h-.9zM180.3,139.8h.9v.9h-.9zM182.4,137.6h.9v.9h-.9zM183.1,142.9h.9v.9h-.9zM180.6,162.4h.9v.9h-.9zM183.3,157.8h.9v.9h-.9zM182.6,154.2h.9v.9h-.9zM180.4,136.0h.9v.9h-.9zM183.2,153.1h.9v.9h-.9zM180.7,150.7h.9v.9h-.9zM180.7,159.0h.9v.9h-.9zM182.9,136.7h.9v.9h-.9zM180.5,140.0h.9v.9h-.9zM180.4,148.3h.9v.9h-.9zM179.8,147.4h.9v.9h-.9zM182.3,158.5h.9v.9h-.9zM181.2,156.2h.9v.9h-.9zM177.5,145.8h.9v.9h-.9zM182.7,150.2h.9v.9h-.9zM179.9,154.6h.9v.9h-.9zM183.2,158.6h.9v.9h-.9zM178.4,151.6h.9v.9h-.9zM182.9,142.3h.9v.9h-.9zM181.6,151.8h.9v.9h-.9zM183.0,136.9h.9v.9h-.9zM179.8,145.3h.9v.9h-.9zM180.7,144.1h.9v.9h-.9zM182.0,142.1h.9v.9h-.9zM180.5,161.7h.9v.9h-.9zM180.5,149.1h.9v.9h-.9zM182.6,159.8h.9v.9h-.9zM180.8,150.1h.9v.9h-.9zM181.4,149.0h.9v.9h-.9zM182.9,138.3h.9v.9h-.9zM181.3,150.9h.9v.9h-.9zM182.7,139.2h.9v.9h-.9zM182.7,152.9h.9v.9h-.9zM182.7,158.2h.9v.9h-.9zM182.6,139.7h.9v.9h-.9zM183.2,143.1h.9v.9h-.9zM181.6,161.8h.9v.9h-.9zM179.7,148.8h.9v.9h-.9zM181.0,152.9h.9v.9h-.9zM179.8,149.9h.9v.9h-.9zM183.0,147.2h.9v.9h-.9zM182.1,147.1h.9v.9h-.9zM182.6,138.3h.9v.9h-.9zM181.8,143.7h.9v.9h-.9zM183.2,156.8h.9v.9h-.9zM181.4,149.5h.9v.9h-.9zM181.6,155.6h.9v.9h-.9zM181.9,137.2h.9v.9h-.9zM183.3,152.3h.9v.9h-.9zM180.8,159.1h.9v.9h-.9zM180.8,138.8h.9v.9h-.9zM182.2,143.8h.9v.9h-.9zM183.0,137.3h.9v.9h-.9zM183.0,139.6h.9v.9h-.9zM181.4,161.3h.9v.9h-.9zM182.5,141.9h.9v.9h-.9zM180.2,142.2h.9v.9h-.9zM182.2,138.0h.9v.9h-.9zM181.6,160.6h.9v.9h-.9zM180.9,147.4h.9v.9h-.9zM183.0,143.1h.9v.9h-.9zM182.8,154.6h.9v.9h-.9zM181.9,136.1h.9v.9h-.9zM182.3,154.6h.9v.9h-.9zM180.3,144.6h.9v.9h-.9zM182.7,150.2h.9v.9h-.9zM181.5,138.4h.9v.9h-.9zM182.1,136.5h.9v.9h-.9zM181.4,154.1h.9v.9h-.9zM181.2,153.1h.9v.9h-.9zM182.8,160.7h.9v.9h-.9zM183.1,142.5h.9v.9h-.9zM182.2,160.4h.9v.9h-.9zM182.7,149.7h.9v.9h-.9zM182.3,153.7h.9v.9h-.9zM182.2,161.5h.9v.9h-.9zM180.7,158.0h.9v.9h-.9zM182.3,134.5h.9v.9h-.9zM183.2,155.0h.9v.9h-.9zM181.9,155.8h.9v.9h-.9zM181.5,159.4h.9v.9h-.9zM182.5,138.7h.9v.9h-.9zM180.9,156.0h.9v.9h-.9zM180.1,150.8h.9v.9h-.9zM179.7,134.6h.9v.9h-.9zM182.6,158.2h.9v.9h-.9zM183.1,150.3h.9v.9h-.9zM181.6,156.7h.9v.9h-.9zM182.8,146.8h.9v.9h-.9zM183.1,138.1h.9v.9h-.9zM182.5,151.5h.9v.9h-.9zM182.6,153.2h.9v.9h-.9zM181.9,154.6h.9v.9h-.9zM180.8,162.0h.9v.9h-.9zM182.6,150.1h.9v.9h-.9zM180.9,134.8h.9v.9h-.9zM179.6,145.8h.9v.9h-.9zM182.8,150.5h.9v.9h-.9zM181.0,160.4h.9v.9h-.9zM182.9,147.8h.9v.9h-.9zM181.6,141.1h.9v.9h-.9zM182.2,153.0h.9v.9h-.9zM182.0,149.8h.9v.9h-.9zM181.6,158.4h.9v.9h-.9zM180.9,149.5h.9v.9h-.9zM182.2,149.8h.9v.9h-.9zM179.4,162.4h.9v.9h-.9zM183.0,140.7h.9v.9h-.9zM181.4,148.9h.9v.9h-.9zM182.4,154.7h.9v.9h-.9zM179.0,153.4h.9v.9h-.9zM182.1,140.4h.9v.9h-.9zM183.2,144.2h.9v.9h-.9zM181.8,145.9h.9v.9h-.9zM183.2,146.3h.9v.9h-.9zM183.0,160.5h.9v.9h-.9zM182.8,155.1h.9v.9h-.9zM181.4,156.0h.9v.9h-.9zM180.8,139.3h.9v.9h-.9zM182.0,147.4h.9v.9h-.9zM182.0,137.3h.9v.9h-.9zM181.7,161.3h.9v.9h-.9zM182.0,148.8h.9v.9h-.9zM180.7,135.3h.9v.9h-.9zM182.5,159.1h.9v.9h-.9zM178.7,141.0h.9v.9h-.9zM181.4,151.5h.9v.9h-.9zM181.3,143.8h.9v.9h-.9zM179.4,145.5h.9v.9h-.9zM181.1,155.8h.9v.9h-.9zM194.2,143.8h.9v.9h-.9zM192.6,154.8h.9v.9h-.9zM192.0,156.9h.9v.9h-.9zM192.4,135.2h.9v.9h-.9zM193.2,147.6h.9v.9h-.9zM193.8,162.3h.9v.9h-.9zM192.1,148.7h.9v.9h-.9zM192.5,134.6h.9v.9h-.9zM192.0,141.8h.9v.9h-.9zM193.0,143.9h.9v.9h-.9zM192.2,149.6h.9v.9h-.9zM191.8,154.2h.9v.9h-.9zM192.0,150.2h.9v.9h-.9zM192.1,154.6h.9v.9h-.9zM193.0,160.3h.9v.9h-.9zM192.8,155.9h.9v.9h-.9zM191.9,142.9h.9v.9h-.9zM191.9,135.0h.9v.9h-.9zM192.1,150.1h.9v.9h-.9zM191.8,149.5h.9v.9h-.9zM193.4,144.1h.9v.9h-.9zM192.1,149.6h.9v.9h-.9zM191.7,161.6h.9v.9h-.9zM192.3,155.5h.9v.9h-.9zM192.2,147.2h.9v.9h-.9zM194.2,141.2h.9v.9h-.9zM192.6,157.4h.9v.9h-.9zM193.6,161.0h.9v.9h-.9zM193.0,147.9h.9v.9h-.9zM193.7,156.6h.9v.9h-.9zM191.7,150.7h.9v.9h-.9zM193.5,157.7h.9v.9h-.9zM194.8,149.9h.9v.9h-.9zM193.5,158.8h.9v.9h-.9zM193.9,157.9h.9v.9h-.9zM192.5,144.2h.9v.9h-.9zM193.8,142.9h.9v.9h-.9zM193.1,139.9h.9v.9h-.9zM192.7,149.9h.9v.9h-.9zM193.9,138.1h.9v.9h-.9zM193.3,153.7h.9v.9h-.9zM192.3,154.8h.9v.9h-.9zM192.5,135.3h.9v.9h-.9zM195.4,158.4h.9v.9h-.9zM191.9,142.0h.9v.9h-.9zM192.1,141.3h.9v.9h-.9zM192.8,160.9h.9v.9h-.9zM192.6,152.6h.9v.9h-.9zM191.8,137.3h.9v.9h-.9zM192.6,151.0h.9v.9h-.9zM192.8,162.7h.9v.9h-.9zM192.6,160.9h.9v.9h-.9zM192.1,139.0h.9v.9h-.9zM193.1,145.3h.9v.9h-.9zM193.2,153.7h.9v.9h-.9zM192.2,137.2h.9v.9h-.9zM193.1,136.6h.9v.9h-.9z" fill="#222" fill-opacity="0.75"/>
<path d="M185.1,162.8 L183.3,140.8 C183.3,135.8 185.0,134.5 187.5,134.5 C190.0,134.5 191.7,135.8 191.7,140.8 L189.9,162.8" fill="#c6c6c6" stroke="#1c1c1c" stroke-width="1.25" stroke-linejoin="round" stroke-opacity="1"/>
<path d="M187.8,138.5 L187.5,155.8" stroke="#f0f0f0" stroke-width="2.0" stroke-linecap="round" fill="none"/>
<path d="M183.0,144.0h.9v.9h-.9zM183.7,158.8h.9v.9h-.9zM189.8,149.6h.9v.9h-.9zM183.1,147.3h.9v.9h-.9zM190.5,142.7h.9v.9h-.9zM184.8,145.2h.9v.9h-.9zM182.8,151.7h.9v.9h-.9zM190.0,147.2h.9v.9h-.9zM190.1,144.2h.9v.9h-.9zM189.6,150.4h.9v.9h-.9zM184.7,159.1h.9v.9h-.9zM183.7,143.7h.9v.9h-.9zM190.6,149.7h.9v.9h-.9zM190.3,153.4h.9v.9h-.9zM191.2,139.1h.9v.9h-.9zM191.2,142.8h.9v.9h-.9zM184.1,156.5h.9v.9h-.9zM183.1,148.2h.9v.9h-.9zM184.4,151.3h.9v.9h-.9zM184.5,143.1h.9v.9h-.9zM189.4,156.2h.9v.9h-.9zM183.8,139.6h.9v.9h-.9zM184.6,161.2h.9v.9h-.9zM190.9,157.0h.9v.9h-.9zM184.0,156.2h.9v.9h-.9zM185.4,162.1h.9v.9h-.9zM183.7,155.1h.9v.9h-.9zM184.3,152.4h.9v.9h-.9zM183.3,153.4h.9v.9h-.9zM189.8,152.0h.9v.9h-.9zM184.5,159.7h.9v.9h-.9zM183.8,139.9h.9v.9h-.9zM190.7,138.4h.9v.9h-.9zM190.1,158.9h.9v.9h-.9zM183.4,157.3h.9v.9h-.9zM191.6,144.7h.9v.9h-.9zM190.3,158.2h.9v.9h-.9zM189.7,161.3h.9v.9h-.9zM183.2,146.1h.9v.9h-.9zM189.2,154.8h.9v.9h-.9zM190.3,157.6h.9v.9h-.9zM191.1,142.2h.9v.9h-.9zM183.3,161.5h.9v.9h-.9zM183.2,142.5h.9v.9h-.9zM183.9,146.5h.9v.9h-.9zM182.4,146.6h.9v.9h-.9zM183.2,143.1h.9v.9h-.9zM183.5,150.8h.9v.9h-.9zM184.7,156.2h.9v.9h-.9zM183.3,145.7h.9v.9h-.9zM189.8,148.1h.9v.9h-.9zM183.9,147.5h.9v.9h-.9zM183.3,141.2h.9v.9h-.9zM184.3,159.1h.9v.9h-.9zM182.5,143.2h.9v.9h-.9zM189.0,158.2h.9v.9h-.9zM183.5,148.4h.9v.9h-.9zM183.0,144.7h.9v.9h-.9zM183.3,149.3h.9v.9h-.9zM189.4,149.1h.9v.9h-.9zM183.5,143.5h.9v.9h-.9zM190.0,149.9h.9v.9h-.9zM189.2,157.3h.9v.9h-.9zM183.4,147.1h.9v.9h-.9zM183.5,155.9h.9v.9h-.9zM183.0,140.9h.9v.9h-.9zM183.6,158.6h.9v.9h-.9zM183.2,150.2h.9v.9h-.9zM189.6,158.0h.9v.9h-.9zM182.4,138.3h.9v.9h-.9zM182.1,141.5h.9v.9h-.9zM183.9,146.9h.9v.9h-.9zM191.2,145.7h.9v.9h-.9zM183.6,150.1h.9v.9h-.9zM183.5,149.6h.9v.9h-.9zM190.0,158.3h.9v.9h-.9zM190.2,150.3h.9v.9h-.9zM184.3,162.1h.9v.9h-.9zM190.7,154.5h.9v.9h-.9zM189.3,153.2h.9v.9h-.9zM190.7,143.0h.9v.9h-.9zM185.2,159.1h.9v.9h-.9zM183.6,142.4h.9v.9h-.9zM191.7,141.0h.9v.9h-.9zM189.0,158.3h.9v.9h-.9zM183.3,145.0h.9v.9h-.9zM184.8,154.5h.9v.9h-.9zM191.6,144.3h.9v.9h-.9zM183.8,142.7h.9v.9h-.9zM183.9,159.1h.9v.9h-.9zM183.2,150.9h.9v.9h-.9zM183.8,150.1h.9v.9h-.9zM190.9,147.7h.9v.9h-.9zM183.3,146.7h.9v.9h-.9zM190.7,143.5h.9v.9h-.9zM184.8,160.6h.9v.9h-.9zM190.3,151.9h.9v.9h-.9zM184.3,156.4h.9v.9h-.9zM189.8,152.5h.9v.9h-.9zM185.1,161.5h.9v.9h-.9zM190.3,148.4h.9v.9h-.9zM184.7,162.3h.9v.9h-.9zM183.5,155.5h.9v.9h-.9zM184.7,161.6h.9v.9h-.9zM184.3,148.8h.9v.9h-.9zM190.6,148.6h.9v.9h-.9zM191.2,150.0h.9v.9h-.9zM183.3,148.2h.9v.9h-.9zM183.0,162.3h.9v.9h-.9zM189.9,155.4h.9v.9h-.9zM190.2,150.2h.9v.9h-.9zM191.7,138.9h.9v.9h-.9zM191.6,145.4h.9v.9h-.9zM184.2,149.9h.9v.9h-.9zM189.1,161.6h.9v.9h-.9zM189.9,150.3h.9v.9h-.9zM191.1,149.3h.9v.9h-.9zM182.9,140.3h.9v.9h-.9zM191.2,145.9h.9v.9h-.9zM184.6,150.1h.9v.9h-.9zM185.6,160.1h.9v.9h-.9zM191.0,147.9h.9v.9h-.9zM190.7,152.3h.9v.9h-.9zM188.7,161.5h.9v.9h-.9zM182.9,146.3h.9v.9h-.9zM183.4,155.6h.9v.9h-.9zM182.8,139.9h.9v.9h-.9zM190.3,147.3h.9v.9h-.9zM184.7,147.1h.9v.9h-.9zM183.9,150.7h.9v.9h-.9zM190.8,150.0h.9v.9h-.9zM182.0,141.0h.9v.9h-.9zM189.7,162.1h.9v.9h-.9zM184.3,157.1h.9v.9h-.9zM184.2,159.7h.9v.9h-.9zM182.6,150.1h.9v.9h-.9zM183.9,149.8h.9v.9h-.9zM190.4,158.8h.9v.9h-.9zM184.8,155.1h.9v.9h-.9zM190.6,152.1h.9v.9h-.9zM184.2,149.5h.9v.9h-.9zM182.8,147.8h.9v.9h-.9zM184.4,159.0h.9v.9h-.9zM183.9,152.6h.9v.9h-.9zM185.3,160.2h.9v.9h-.9zM190.4,153.1h.9v.9h-.9zM182.8,138.5h.9v.9h-.9zM189.7,155.6h.9v.9h-.9zM184.9,160.7h.9v.9h-.9zM190.1,160.5h.9v.9h-.9zM183.9,149.1h.9v.9h-.9zM184.7,157.0h.9v.9h-.9zM190.0,161.6h.9v.9h-.9zM182.5,142.3h.9v.9h-.9zM184.4,157.2h.9v.9h-.9zM191.7,141.9h.9v.9h-.9zM183.1,140.5h.9v.9h-.9zM183.8,148.5h.9v.9h-.9zM184.4,143.7h.9v.9h-.9zM183.6,146.0h.9v.9h-.9zM182.4,150.8h.9v.9h-.9zM184.3,155.5h.9v.9h-.9zM190.1,150.5h.9v.9h-.9zM190.3,152.2h.9v.9h-.9zM183.2,146.1h.9v.9h-.9zM182.9,141.2h.9v.9h-.9zM190.5,152.6h.9v.9h-.9zM184.8,161.6h.9v.9h-.9zM189.6,157.3h.9v.9h-.9zM184.3,161.3h.9v.9h-.9zM183.1,143.5h.9v.9h-.9zM182.1,138.4h.9v.9h-.9zM182.1,138.5h.9v.9h-.9zM183.0,140.1h.9v.9h-.9zM184.8,159.1h.9v.9h-.9zM183.6,140.5h.9v.9h-.9zM183.5,152.9h.9v.9h-.9zM182.5,142.6h.9v.9h-.9zM183.2,150.7h.9v.9h-.9zM182.9,140.7h.9v.9h-.9zM182.9,140.8h.9v.9h-.9zM189.4,155.9h.9v.9h-.9zM189.4,161.5h.9v.9h-.9zM183.5,160.2h.9v.9h-.9zM190.2,147.1h.9v.9h-.9zM191.2,149.4h.9v.9h-.9zM190.9,142.6h.9v.9h-.9zM188.9,158.5h.9v.9h-.9zM191.4,138.7h.9v.9h-.9zM190.0,144.5h.9v.9h-.9zM183.1,149.5h.9v.9h-.9zM183.5,145.2h.9v.9h-.9zM189.8,159.1h.9v.9h-.9zM189.9,156.7h.9v.9h-.9zM183.6,141.5h.9v.9h-.9zM184.5,160.0h.9v.9h-.9zM184.2,153.5h.9v.9h-.9zM182.6,138.9h.9v.9h-.9zM185.2,135.1h.9v.9h-.9zM184.2,135.7h.9v.9h-.9zM190.4,137.6h.9v.9h-.9zM191.6,138.2h.9v.9h-.9zM182.5,136.8h.9v.9h-.9zM187.1,133.7h.9v.9h-.9zM187.5,134.6h.9v.9h-.9zM191.0,138.9h.9v.9h-.9zM185.7,133.9h.9v.9h-.9zM182.9,138.0h.9v.9h-.9zM191.0,138.4h.9v.9h-.9zM184.5,134.5h.9v.9h-.9zM187.7,134.5h.9v.9h-.9zM190.6,139.2h.9v.9h-.9zM187.2,134.5h.9v.9h-.9zM183.6,138.4h.9v.9h-.9zM183.1,136.7h.9v.9h-.9zM183.9,136.1h.9v.9h-.9zM183.5,137.0h.9v.9h-.9zM191.1,136.9h.9v.9h-.9zM185.1,134.6h.9v.9h-.9zM185.9,134.4h.9v.9h-.9zM191.2,136.7h.9v.9h-.9zM185.1,134.0h.9v.9h-.9zM183.1,136.6h.9v.9h-.9zM186.9,134.6h.9v.9h-.9zM190.9,137.7h.9v.9h-.9zM182.6,137.8h.9v.9h-.9zM186.9,133.7h.9v.9h-.9zM185.1,134.7h.9v.9h-.9zM188.2,134.1h.9v.9h-.9zM190.4,136.0h.9v.9h-.9zM191.2,137.9h.9v.9h-.9zM191.2,135.4h.9v.9h-.9zM190.7,136.7h.9v.9h-.9zM183.9,136.6h.9v.9h-.9zM185.7,133.7h.9v.9h-.9zM186.8,134.4h.9v.9h-.9zM191.6,136.7h.9v.9h-.9zM187.1,133.4h.9v.9h-.9zM187.1,133.6h.9v.9h-.9zM191.7,138.7h.9v.9h-.9zM183.0,139.6h.9v.9h-.9zM190.3,136.9h.9v.9h-.9zM183.3,135.8h.9v.9h-.9zM183.6,135.3h.9v.9h-.9zM187.4,134.1h.9v.9h-.9zM189.0,135.1h.9v.9h-.9zM191.4,138.4h.9v.9h-.9zM186.6,133.1h.9v.9h-.9z" fill="#111" fill-opacity="0.9"/>
</g>
<line x1="162.6" y1="98.3" x2="162.6" y2="163.4" stroke="#111" stroke-width="1.2"/>
<line x1="128.6" y1="133.6" x2="204.8" y2="133.6" stroke="#111" stroke-width="1.2"/>
<line x1="128.6" y1="97.8" x2="128.6" y2="164.15" stroke="#000" stroke-width="1.5"/>
<line x1="127.85" y1="163.4" x2="205.3" y2="163.4" stroke="#000" stroke-width="1.5"/>
<text x="199.8" y="161.6" font-size="2.6" font-weight="normal" text-anchor="middle" fill="#444" stroke="#444" stroke-width="0.05">94</text>
<text x="130.79999999999998" y="102.1" font-size="2.6" font-weight="normal" text-anchor="middle" fill="#444" stroke="#444" stroke-width="0.05">0</text>
<text x="201.3" y="109.3" font-size="9.8" font-weight="bold" text-anchor="end" fill="#111" stroke="#111" stroke-width="0.34">9.05</text>
<rect x="221.0" y="99.4" width="75.50" height="65.20" fill="#fff"/>
<line x1="221.0" y1="99.4" x2="296.5" y2="99.4" stroke="#666" stroke-width="1"/>
<line x1="296.5" y1="99.4" x2="296.5" y2="164.6" stroke="#666" stroke-width="1"/>
<line x1="218.4" y1="105.59400000000001" x2="221.0" y2="105.59400000000001" stroke="#222" stroke-width="0.9"/>
<line x1="218.4" y1="119.938" x2="221.0" y2="119.938" stroke="#222" stroke-width="0.9"/>
<line x1="218.4" y1="135.26" x2="221.0" y2="135.26" stroke="#222" stroke-width="0.9"/>
<line x1="218.4" y1="150.582" x2="221.0" y2="150.582" stroke="#222" stroke-width="0.9"/>
<line x1="218.4" y1="158.07999999999998" x2="221.0" y2="158.07999999999998" stroke="#222" stroke-width="0.9"/>
<line x1="228.55" y1="164.6" x2="228.55" y2="166.79999999999998" stroke="#222" stroke-width="0.9"/>
<line x1="237.2325" y1="164.6" x2="237.2325" y2="166.79999999999998" stroke="#222" stroke-width="0.9"/>
<line x1="255.3525" y1="164.6" x2="255.3525" y2="166.79999999999998" stroke="#222" stroke-width="0.9"/>
<line x1="275.36" y1="164.6" x2="275.36" y2="166.79999999999998" stroke="#222" stroke-width="0.9"/>
<line x1="291.21500000000003" y1="164.6" x2="291.21500000000003" y2="166.79999999999998" stroke="#222" stroke-width="0.9"/>
<path d="M222.9,164.6 v1.7 M224.8,164.6 v1.7 M226.7,164.6 v1.7 M228.6,164.6 v1.7 M230.4,164.6 v1.7 M232.3,164.6 v1.7 M234.2,164.6 v1.7 M236.1,164.6 v1.7 M238.0,164.6 v1.7 M239.9,164.6 v1.7 M241.8,164.6 v1.7 M243.7,164.6 v1.7 M245.5,164.6 v1.7 M247.4,164.6 v1.7 M249.3,164.6 v1.7 M251.2,164.6 v1.7 M253.1,164.6 v1.7 M255.0,164.6 v1.7 M256.9,164.6 v1.7 M258.8,164.6 v1.7 M260.6,164.6 v1.7 M262.5,164.6 v1.7 M264.4,164.6 v1.7 M266.3,164.6 v1.7 M268.2,164.6 v1.7 M270.1,164.6 v1.7 M272.0,164.6 v1.7 M273.9,164.6 v1.7 M275.7,164.6 v1.7 M277.6,164.6 v1.7 M279.5,164.6 v1.7 M281.4,164.6 v1.7 M283.3,164.6 v1.7 M285.2,164.6 v1.7 M287.1,164.6 v1.7 M288.9,164.6 v1.7 M290.8,164.6 v1.7 M292.7,164.6 v1.7 M294.6,164.6 v1.7" stroke="#111" stroke-width="0.75" fill="none"/>
<path d="M221.0,101.3 h-1.7 M221.0,103.2 h-1.7 M221.0,105.2 h-1.7 M221.0,107.1 h-1.7 M221.0,109.0 h-1.7 M221.0,110.9 h-1.7 M221.0,112.8 h-1.7 M221.0,114.7 h-1.7 M221.0,116.7 h-1.7 M221.0,118.6 h-1.7 M221.0,120.5 h-1.7 M221.0,122.4 h-1.7 M221.0,124.3 h-1.7 M221.0,126.2 h-1.7 M221.0,128.2 h-1.7 M221.0,130.1 h-1.7 M221.0,132.0 h-1.7 M221.0,133.9 h-1.7 M221.0,135.8 h-1.7 M221.0,137.8 h-1.7 M221.0,139.7 h-1.7 M221.0,141.6 h-1.7 M221.0,143.5 h-1.7 M221.0,145.4 h-1.7 M221.0,147.3 h-1.7 M221.0,149.3 h-1.7 M221.0,151.2 h-1.7 M221.0,153.1 h-1.7 M221.0,155.0 h-1.7 M221.0,156.9 h-1.7 M221.0,158.8 h-1.7 M221.0,160.8 h-1.7 M221.0,162.7 h-1.7" stroke="#111" stroke-width="0.75" fill="none"/>
<text x="217.8" y="106.694" font-size="3.4" font-weight="normal" text-anchor="end" fill="#222" stroke="#222" stroke-width="0.06">10⁵</text>
<text x="217.8" y="121.038" font-size="3.4" font-weight="normal" text-anchor="end" fill="#222" stroke="#222" stroke-width="0.06">10⁴</text>
<text x="217.8" y="136.35999999999999" font-size="3.4" font-weight="normal" text-anchor="end" fill="#222" stroke="#222" stroke-width="0.06">10³</text>
<text x="217.8" y="151.682" font-size="3.4" font-weight="normal" text-anchor="end" fill="#222" stroke="#222" stroke-width="0.06">10²</text>
<text x="217.8" y="159.17999999999998" font-size="3.4" font-weight="normal" text-anchor="end" fill="#222" stroke="#222" stroke-width="0.06">0</text>
<text x="228.55" y="170.79999999999998" font-size="3.4" font-weight="normal" text-anchor="middle" fill="#222" stroke="#222" stroke-width="0.06">0</text>
<text x="237.2325" y="170.79999999999998" font-size="3.4" font-weight="normal" text-anchor="middle" fill="#222" stroke="#222" stroke-width="0.06">10²</text>
<text x="255.3525" y="170.79999999999998" font-size="3.4" font-weight="normal" text-anchor="middle" fill="#222" stroke="#222" stroke-width="0.06">10³</text>
<text x="275.36" y="170.79999999999998" font-size="3.4" font-weight="normal" text-anchor="middle" fill="#222" stroke="#222" stroke-width="0.06">10⁴</text>
<text x="291.21500000000003" y="170.79999999999998" font-size="3.4" font-weight="normal" text-anchor="middle" fill="#222" stroke="#222" stroke-width="0.06">10⁵</text>
<g filter="url(#bl2)">
<path d="M277.3,132.2h.9v.9h-.9zM280.0,133.5h.9v.9h-.9zM275.7,132.5h.9v.9h-.9zM278.9,134.3h.9v.9h-.9zM283.0,130.7h.9v.9h-.9zM284.5,127.6h.9v.9h-.9zM274.6,134.5h.9v.9h-.9zM282.2,132.6h.9v.9h-.9zM280.5,131.5h.9v.9h-.9zM280.4,129.5h.9v.9h-.9zM277.6,133.4h.9v.9h-.9zM280.6,134.2h.9v.9h-.9zM278.5,131.3h.9v.9h-.9zM274.3,127.4h.9v.9h-.9zM281.8,133.1h.9v.9h-.9zM276.7,130.9h.9v.9h-.9zM280.6,128.3h.9v.9h-.9zM277.9,132.7h.9v.9h-.9zM277.4,129.1h.9v.9h-.9zM279.2,132.1h.9v.9h-.9zM275.6,134.0h.9v.9h-.9zM279.4,132.5h.9v.9h-.9zM277.3,125.9h.9v.9h-.9zM280.2,133.5h.9v.9h-.9zM282.7,131.0h.9v.9h-.9zM280.3,135.1h.9v.9h-.9zM277.3,134.6h.9v.9h-.9zM271.5,132.4h.9v.9h-.9zM274.5,129.9h.9v.9h-.9zM277.5,129.0h.9v.9h-.9zM277.4,133.5h.9v.9h-.9zM275.2,134.1h.9v.9h-.9zM277.4,133.6h.9v.9h-.9zM281.0,131.3h.9v.9h-.9zM275.1,132.4h.9v.9h-.9zM287.6,134.0h.9v.9h-.9zM279.3,134.5h.9v.9h-.9zM279.9,132.1h.9v.9h-.9zM278.1,129.9h.9v.9h-.9zM282.5,130.4h.9v.9h-.9zM278.1,131.6h.9v.9h-.9zM280.0,132.5h.9v.9h-.9zM278.3,131.3h.9v.9h-.9zM278.4,134.0h.9v.9h-.9zM280.1,128.9h.9v.9h-.9zM278.7,134.1h.9v.9h-.9zM279.3,133.5h.9v.9h-.9zM278.3,134.4h.9v.9h-.9zM278.3,134.0h.9v.9h-.9zM277.6,135.0h.9v.9h-.9zM281.8,135.1h.9v.9h-.9zM275.9,132.1h.9v.9h-.9zM280.3,132.4h.9v.9h-.9zM278.6,133.0h.9v.9h-.9zM278.4,132.2h.9v.9h-.9zM281.5,131.9h.9v.9h-.9zM282.5,130.1h.9v.9h-.9zM279.9,129.9h.9v.9h-.9zM283.7,134.0h.9v.9h-.9zM281.7,133.4h.9v.9h-.9zM272.3,143.7h.9v.9h-.9zM273.6,155.8h.9v.9h-.9zM272.8,144.0h.9v.9h-.9zM272.1,156.1h.9v.9h-.9zM273.9,154.2h.9v.9h-.9zM273.8,139.0h.9v.9h-.9zM274.2,139.9h.9v.9h-.9zM274.1,154.5h.9v.9h-.9zM273.4,145.4h.9v.9h-.9zM273.4,142.7h.9v.9h-.9zM273.8,141.0h.9v.9h-.9zM272.7,152.1h.9v.9h-.9zM272.2,142.9h.9v.9h-.9zM273.5,147.9h.9v.9h-.9zM271.8,152.9h.9v.9h-.9zM273.4,138.4h.9v.9h-.9zM272.8,146.1h.9v.9h-.9zM272.8,153.8h.9v.9h-.9zM274.0,138.3h.9v.9h-.9zM274.0,146.3h.9v.9h-.9zM270.6,146.3h.9v.9h-.9zM273.1,141.7h.9v.9h-.9zM274.5,139.4h.9v.9h-.9zM273.7,162.8h.9v.9h-.9zM272.4,162.9h.9v.9h-.9zM271.2,159.4h.9v.9h-.9zM271.2,136.5h.9v.9h-.9zM270.9,160.4h.9v.9h-.9zM270.6,153.2h.9v.9h-.9zM273.0,147.8h.9v.9h-.9zM273.1,139.9h.9v.9h-.9zM273.1,139.2h.9v.9h-.9zM274.1,160.3h.9v.9h-.9zM271.0,144.1h.9v.9h-.9zM272.8,152.1h.9v.9h-.9zM274.0,141.7h.9v.9h-.9zM270.9,154.1h.9v.9h-.9zM272.9,138.1h.9v.9h-.9zM274.0,149.5h.9v.9h-.9zM270.9,141.5h.9v.9h-.9zM274.1,141.0h.9v.9h-.9zM273.4,142.3h.9v.9h-.9zM271.2,153.7h.9v.9h-.9zM273.8,155.8h.9v.9h-.9zM274.4,149.8h.9v.9h-.9zM272.9,162.3h.9v.9h-.9zM273.1,146.8h.9v.9h-.9zM272.6,150.1h.9v.9h-.9zM273.9,137.0h.9v.9h-.9zM272.6,145.6h.9v.9h-.9zM272.8,143.8h.9v.9h-.9zM272.8,159.5h.9v.9h-.9zM270.3,146.5h.9v.9h-.9zM272.6,141.4h.9v.9h-.9zM273.1,136.7h.9v.9h-.9zM274.5,151.7h.9v.9h-.9zM273.4,136.3h.9v.9h-.9zM273.4,154.2h.9v.9h-.9zM274.4,153.1h.9v.9h-.9zM271.7,150.5h.9v.9h-.9zM274.4,136.2h.9v.9h-.9zM272.4,160.0h.9v.9h-.9zM274.0,137.0h.9v.9h-.9zM273.4,141.9h.9v.9h-.9zM272.6,147.3h.9v.9h-.9zM272.3,142.0h.9v.9h-.9zM273.4,155.6h.9v.9h-.9zM273.2,153.2h.9v.9h-.9zM271.9,155.9h.9v.9h-.9zM273.0,155.1h.9v.9h-.9zM274.1,147.0h.9v.9h-.9zM271.7,157.3h.9v.9h-.9zM272.3,152.7h.9v.9h-.9zM274.3,163.1h.9v.9h-.9zM270.2,162.6h.9v.9h-.9zM272.6,154.9h.9v.9h-.9zM271.4,159.5h.9v.9h-.9zM273.9,146.9h.9v.9h-.9zM272.5,158.2h.9v.9h-.9zM273.2,160.4h.9v.9h-.9zM272.5,136.7h.9v.9h-.9zM272.4,138.5h.9v.9h-.9zM274.4,159.6h.9v.9h-.9zM271.1,142.1h.9v.9h-.9zM272.4,139.6h.9v.9h-.9zM274.5,147.4h.9v.9h-.9zM271.6,152.6h.9v.9h-.9zM270.0,150.1h.9v.9h-.9zM273.0,151.0h.9v.9h-.9zM272.6,155.3h.9v.9h-.9zM274.1,138.9h.9v.9h-.9zM273.0,157.3h.9v.9h-.9zM270.3,151.1h.9v.9h-.9zM274.1,138.4h.9v.9h-.9zM273.9,151.0h.9v.9h-.9zM271.7,141.0h.9v.9h-.9zM271.9,156.9h.9v.9h-.9zM273.8,160.0h.9v.9h-.9zM272.5,141.1h.9v.9h-.9zM273.4,156.3h.9v.9h-.9zM272.5,148.5h.9v.9h-.9zM273.3,146.9h.9v.9h-.9zM270.8,147.6h.9v.9h-.9zM274.2,155.7h.9v.9h-.9zM272.3,146.0h.9v.9h-.9zM273.4,136.1h.9v.9h-.9zM272.6,162.9h.9v.9h-.9zM274.0,162.8h.9v.9h-.9zM272.2,141.6h.9v.9h-.9zM273.4,140.1h.9v.9h-.9zM274.1,159.8h.9v.9h-.9zM274.0,143.5h.9v.9h-.9zM274.5,150.2h.9v.9h-.9zM273.8,161.3h.9v.9h-.9zM273.1,148.3h.9v.9h-.9zM274.3,139.0h.9v.9h-.9zM271.9,150.5h.9v.9h-.9zM274.1,151.3h.9v.9h-.9zM273.9,144.5h.9v.9h-.9zM274.5,161.4h.9v.9h-.9zM271.8,152.9h.9v.9h-.9zM274.1,155.6h.9v.9h-.9zM273.4,158.7h.9v.9h-.9zM272.7,143.8h.9v.9h-.9zM273.8,149.0h.9v.9h-.9zM272.8,156.8h.9v.9h-.9zM272.8,157.4h.9v.9h-.9zM274.1,146.4h.9v.9h-.9zM271.9,149.2h.9v.9h-.9zM271.7,140.5h.9v.9h-.9zM274.0,159.4h.9v.9h-.9zM273.7,159.7h.9v.9h-.9zM273.1,163.6h.9v.9h-.9zM271.3,136.9h.9v.9h-.9zM270.9,162.7h.9v.9h-.9zM274.4,157.3h.9v.9h-.9zM274.1,140.4h.9v.9h-.9zM274.6,139.3h.9v.9h-.9zM274.4,145.9h.9v.9h-.9zM272.7,145.6h.9v.9h-.9zM273.5,156.6h.9v.9h-.9zM269.4,159.6h.9v.9h-.9zM274.4,140.6h.9v.9h-.9zM270.9,151.7h.9v.9h-.9zM272.5,150.7h.9v.9h-.9zM273.8,142.0h.9v.9h-.9zM273.1,141.3h.9v.9h-.9zM273.3,157.4h.9v.9h-.9zM273.4,152.0h.9v.9h-.9zM274.2,159.7h.9v.9h-.9zM273.8,150.1h.9v.9h-.9zM273.6,155.4h.9v.9h-.9zM273.5,147.3h.9v.9h-.9zM274.1,139.8h.9v.9h-.9zM272.0,144.3h.9v.9h-.9zM274.6,153.6h.9v.9h-.9zM274.2,151.2h.9v.9h-.9zM274.2,149.3h.9v.9h-.9zM272.9,149.2h.9v.9h-.9zM274.6,150.2h.9v.9h-.9zM273.8,143.1h.9v.9h-.9zM273.3,141.6h.9v.9h-.9zM273.8,142.3h.9v.9h-.9zM273.1,160.6h.9v.9h-.9zM273.4,156.5h.9v.9h-.9zM274.3,136.0h.9v.9h-.9zM272.1,162.1h.9v.9h-.9zM273.9,150.4h.9v.9h-.9zM273.9,149.8h.9v.9h-.9zM273.8,161.5h.9v.9h-.9zM273.1,153.4h.9v.9h-.9zM271.3,160.7h.9v.9h-.9zM273.0,144.4h.9v.9h-.9zM273.6,160.7h.9v.9h-.9zM270.7,137.8h.9v.9h-.9zM273.8,158.4h.9v.9h-.9zM273.3,155.2h.9v.9h-.9zM270.4,158.5h.9v.9h-.9zM273.7,163.8h.9v.9h-.9zM272.1,156.5h.9v.9h-.9zM273.9,154.7h.9v.9h-.9zM272.7,150.1h.9v.9h-.9zM273.2,141.9h.9v.9h-.9zM274.3,159.7h.9v.9h-.9zM270.8,155.5h.9v.9h-.9zM273.7,152.0h.9v.9h-.9zM272.4,154.6h.9v.9h-.9zM272.4,163.1h.9v.9h-.9zM274.5,141.6h.9v.9h-.9zM273.8,143.0h.9v.9h-.9zM274.4,159.0h.9v.9h-.9zM271.1,158.3h.9v.9h-.9zM273.9,160.3h.9v.9h-.9zM274.4,146.3h.9v.9h-.9zM270.0,148.5h.9v.9h-.9zM272.2,155.0h.9v.9h-.9zM273.8,138.9h.9v.9h-.9zM273.0,138.8h.9v.9h-.9zM274.6,159.0h.9v.9h-.9zM274.6,154.9h.9v.9h-.9zM285.7,141.2h.9v.9h-.9zM282.7,150.7h.9v.9h-.9zM283.5,137.9h.9v.9h-.9zM283.5,152.2h.9v.9h-.9zM284.4,155.3h.9v.9h-.9zM282.8,145.0h.9v.9h-.9zM283.0,156.7h.9v.9h-.9zM283.0,142.6h.9v.9h-.9zM282.7,149.2h.9v.9h-.9zM282.8,148.5h.9v.9h-.9zM282.4,139.6h.9v.9h-.9zM282.9,156.9h.9v.9h-.9zM282.8,158.2h.9v.9h-.9zM283.0,163.8h.9v.9h-.9zM283.9,153.2h.9v.9h-.9zM285.1,143.1h.9v.9h-.9zM284.7,162.7h.9v.9h-.9zM282.9,144.7h.9v.9h-.9zM283.7,154.2h.9v.9h-.9zM283.9,140.9h.9v.9h-.9zM283.7,163.7h.9v.9h-.9zM282.7,159.8h.9v.9h-.9zM283.9,138.8h.9v.9h-.9zM284.3,157.7h.9v.9h-.9zM283.7,154.8h.9v.9h-.9zM283.8,143.4h.9v.9h-.9zM283.0,152.9h.9v.9h-.9zM283.5,151.0h.9v.9h-.9zM283.3,152.4h.9v.9h-.9zM283.2,143.6h.9v.9h-.9zM283.1,141.0h.9v.9h-.9zM284.3,161.7h.9v.9h-.9zM284.0,139.4h.9v.9h-.9zM284.2,160.2h.9v.9h-.9zM284.6,163.4h.9v.9h-.9zM283.5,137.7h.9v.9h-.9zM282.5,142.8h.9v.9h-.9zM282.6,143.0h.9v.9h-.9zM282.4,149.1h.9v.9h-.9zM282.7,139.3h.9v.9h-.9zM283.1,145.1h.9v.9h-.9zM283.0,138.7h.9v.9h-.9zM282.8,158.4h.9v.9h-.9zM282.7,158.5h.9v.9h-.9z" fill="#222" fill-opacity="0.6"/>
<path d="M275.9,164.0 L274.6,141.7 C274.6,137.0 276.2,135.8 278.5,135.8 C280.8,135.8 282.4,137.0 282.4,141.7 L281.1,164.0" fill="#c6c6c6" stroke="#1c1c1c" stroke-width="1.25" stroke-linejoin="round" stroke-opacity="0.85"/>
<path d="M278.8,139.8 L278.5,157.0" stroke="#f0f0f0" stroke-width="1.9" stroke-linecap="round" fill="none"/>
<path d="M280.7,159.7h.9v.9h-.9zM281.7,146.5h.9v.9h-.9zM275.5,162.4h.9v.9h-.9zM273.8,142.3h.9v.9h-.9zM274.9,158.5h.9v.9h-.9zM273.9,155.6h.9v.9h-.9zM282.3,148.6h.9v.9h-.9zM275.1,143.4h.9v.9h-.9zM280.7,151.8h.9v.9h-.9zM280.7,153.7h.9v.9h-.9zM274.7,151.8h.9v.9h-.9zM280.3,150.4h.9v.9h-.9zM274.9,156.7h.9v.9h-.9zM281.2,152.1h.9v.9h-.9zM280.6,161.2h.9v.9h-.9zM281.0,160.7h.9v.9h-.9zM274.7,149.7h.9v.9h-.9zM274.3,149.2h.9v.9h-.9zM275.0,146.4h.9v.9h-.9zM274.5,157.1h.9v.9h-.9zM274.4,147.0h.9v.9h-.9zM280.4,162.5h.9v.9h-.9zM275.2,159.9h.9v.9h-.9zM280.9,150.8h.9v.9h-.9zM281.6,150.5h.9v.9h-.9zM280.8,161.0h.9v.9h-.9zM274.3,148.2h.9v.9h-.9zM274.0,140.6h.9v.9h-.9zM275.1,150.8h.9v.9h-.9zM281.1,156.6h.9v.9h-.9zM274.6,139.4h.9v.9h-.9zM274.2,139.8h.9v.9h-.9zM273.4,146.4h.9v.9h-.9zM282.5,145.3h.9v.9h-.9zM282.2,155.1h.9v.9h-.9zM274.3,144.8h.9v.9h-.9zM276.0,163.1h.9v.9h-.9zM275.0,154.3h.9v.9h-.9zM274.8,158.4h.9v.9h-.9zM275.3,143.6h.9v.9h-.9zM275.6,156.8h.9v.9h-.9zM276.0,143.8h.9v.9h-.9zM274.7,141.4h.9v.9h-.9zM275.3,162.8h.9v.9h-.9zM274.8,154.4h.9v.9h-.9zM273.3,141.6h.9v.9h-.9zM274.3,147.4h.9v.9h-.9zM281.8,140.2h.9v.9h-.9zM274.5,157.8h.9v.9h-.9zM274.9,148.4h.9v.9h-.9zM273.5,142.0h.9v.9h-.9zM274.3,156.9h.9v.9h-.9zM281.3,143.1h.9v.9h-.9zM275.1,156.7h.9v.9h-.9zM281.3,154.8h.9v.9h-.9zM281.5,139.5h.9v.9h-.9zM281.6,155.1h.9v.9h-.9zM281.7,150.4h.9v.9h-.9zM274.7,151.3h.9v.9h-.9zM282.6,147.4h.9v.9h-.9zM275.4,158.6h.9v.9h-.9zM280.9,160.8h.9v.9h-.9zM274.9,141.3h.9v.9h-.9zM279.8,157.3h.9v.9h-.9zM281.4,156.4h.9v.9h-.9zM275.1,155.1h.9v.9h-.9zM274.3,143.7h.9v.9h-.9zM280.3,155.4h.9v.9h-.9zM273.9,142.5h.9v.9h-.9zM282.1,153.4h.9v.9h-.9zM282.5,145.7h.9v.9h-.9zM282.1,145.4h.9v.9h-.9zM274.7,149.0h.9v.9h-.9zM275.3,146.5h.9v.9h-.9zM274.9,152.2h.9v.9h-.9zM274.7,146.1h.9v.9h-.9zM274.6,151.6h.9v.9h-.9zM280.9,154.7h.9v.9h-.9zM274.7,142.8h.9v.9h-.9zM274.9,160.5h.9v.9h-.9zM280.0,152.8h.9v.9h-.9zM274.9,149.6h.9v.9h-.9zM274.4,142.1h.9v.9h-.9zM273.9,142.0h.9v.9h-.9zM281.4,145.1h.9v.9h-.9zM274.1,141.9h.9v.9h-.9zM274.9,150.9h.9v.9h-.9zM275.0,158.6h.9v.9h-.9zM281.1,153.6h.9v.9h-.9zM281.2,162.6h.9v.9h-.9zM275.1,147.9h.9v.9h-.9zM280.2,156.4h.9v.9h-.9zM281.7,146.5h.9v.9h-.9zM280.6,148.5h.9v.9h-.9zM275.0,142.4h.9v.9h-.9zM281.0,148.9h.9v.9h-.9zM274.5,148.9h.9v.9h-.9zM274.7,148.5h.9v.9h-.9zM275.3,153.0h.9v.9h-.9zM275.7,146.8h.9v.9h-.9zM274.4,141.5h.9v.9h-.9zM280.9,162.3h.9v.9h-.9zM274.9,154.0h.9v.9h-.9zM274.2,140.1h.9v.9h-.9zM281.5,141.3h.9v.9h-.9zM281.3,148.9h.9v.9h-.9zM274.6,153.0h.9v.9h-.9zM275.3,145.4h.9v.9h-.9zM281.2,149.9h.9v.9h-.9zM280.9,162.3h.9v.9h-.9zM274.7,146.0h.9v.9h-.9zM280.0,161.8h.9v.9h-.9zM282.1,152.9h.9v.9h-.9zM274.4,151.2h.9v.9h-.9zM275.0,159.4h.9v.9h-.9zM274.6,149.0h.9v.9h-.9zM282.7,142.8h.9v.9h-.9zM282.1,147.9h.9v.9h-.9zM274.7,152.9h.9v.9h-.9zM280.2,162.4h.9v.9h-.9zM275.5,149.3h.9v.9h-.9zM281.2,156.1h.9v.9h-.9zM275.7,155.4h.9v.9h-.9zM281.5,143.6h.9v.9h-.9zM280.4,148.0h.9v.9h-.9zM281.8,145.5h.9v.9h-.9zM276.1,161.7h.9v.9h-.9zM282.0,152.5h.9v.9h-.9zM275.2,147.3h.9v.9h-.9zM280.5,149.1h.9v.9h-.9zM276.1,147.5h.9v.9h-.9zM274.6,158.9h.9v.9h-.9zM275.3,159.7h.9v.9h-.9zM274.6,149.4h.9v.9h-.9zM280.9,154.7h.9v.9h-.9zM280.5,161.9h.9v.9h-.9zM275.0,156.2h.9v.9h-.9zM273.9,151.9h.9v.9h-.9zM273.9,149.8h.9v.9h-.9zM275.0,150.8h.9v.9h-.9zM275.5,158.5h.9v.9h-.9zM275.3,153.8h.9v.9h-.9zM274.6,146.8h.9v.9h-.9zM282.9,141.7h.9v.9h-.9zM274.2,158.8h.9v.9h-.9zM281.0,157.7h.9v.9h-.9zM281.9,145.2h.9v.9h-.9zM274.9,153.4h.9v.9h-.9zM280.9,161.8h.9v.9h-.9zM274.6,139.8h.9v.9h-.9zM274.4,145.4h.9v.9h-.9zM281.0,146.6h.9v.9h-.9zM280.6,158.1h.9v.9h-.9zM274.8,140.5h.9v.9h-.9zM274.5,142.6h.9v.9h-.9zM274.0,149.7h.9v.9h-.9zM280.0,153.3h.9v.9h-.9zM274.5,151.2h.9v.9h-.9zM281.9,147.5h.9v.9h-.9zM274.6,161.7h.9v.9h-.9zM273.8,154.0h.9v.9h-.9zM275.3,153.7h.9v.9h-.9zM282.2,146.3h.9v.9h-.9zM282.2,142.3h.9v.9h-.9zM275.0,147.5h.9v.9h-.9zM280.6,154.3h.9v.9h-.9zM274.9,149.7h.9v.9h-.9zM274.9,147.4h.9v.9h-.9zM274.8,156.5h.9v.9h-.9zM274.0,144.1h.9v.9h-.9zM273.7,147.3h.9v.9h-.9zM274.6,156.7h.9v.9h-.9zM280.0,162.5h.9v.9h-.9zM281.6,161.4h.9v.9h-.9zM274.9,155.2h.9v.9h-.9zM275.6,152.1h.9v.9h-.9zM275.4,152.8h.9v.9h-.9zM281.7,148.9h.9v.9h-.9zM282.0,139.7h.9v.9h-.9zM274.6,145.8h.9v.9h-.9zM274.8,139.3h.9v.9h-.9zM281.5,151.1h.9v.9h-.9zM281.0,155.2h.9v.9h-.9zM275.0,147.4h.9v.9h-.9zM280.1,162.1h.9v.9h-.9zM273.8,142.1h.9v.9h-.9zM282.0,158.5h.9v.9h-.9zM274.3,140.6h.9v.9h-.9zM281.1,152.4h.9v.9h-.9zM273.4,140.1h.9v.9h-.9zM274.2,147.0h.9v.9h-.9zM274.6,155.8h.9v.9h-.9zM275.3,151.0h.9v.9h-.9zM280.3,157.5h.9v.9h-.9zM274.9,143.0h.9v.9h-.9zM274.7,151.5h.9v.9h-.9zM281.5,148.6h.9v.9h-.9zM274.7,137.8h.9v.9h-.9zM274.4,138.5h.9v.9h-.9zM276.1,136.0h.9v.9h-.9zM281.7,137.8h.9v.9h-.9zM280.0,136.3h.9v.9h-.9zM280.3,136.0h.9v.9h-.9zM275.3,136.2h.9v.9h-.9zM279.4,135.6h.9v.9h-.9zM277.7,135.0h.9v.9h-.9zM280.8,137.3h.9v.9h-.9zM274.6,140.3h.9v.9h-.9zM280.9,137.5h.9v.9h-.9zM278.9,135.2h.9v.9h-.9zM282.5,139.2h.9v.9h-.9zM281.1,138.1h.9v.9h-.9zM278.5,135.7h.9v.9h-.9zM275.4,135.2h.9v.9h-.9zM276.5,136.1h.9v.9h-.9zM278.5,135.6h.9v.9h-.9zM278.3,134.7h.9v.9h-.9zM281.5,137.9h.9v.9h-.9zM278.5,135.5h.9v.9h-.9zM280.8,136.3h.9v.9h-.9zM275.1,140.3h.9v.9h-.9zM275.3,136.8h.9v.9h-.9zM280.8,136.2h.9v.9h-.9zM281.1,136.7h.9v.9h-.9zM280.1,136.1h.9v.9h-.9zM274.1,137.9h.9v.9h-.9zM281.1,136.6h.9v.9h-.9zM278.5,135.1h.9v.9h-.9zM274.7,138.0h.9v.9h-.9zM280.5,135.7h.9v.9h-.9zM279.0,136.5h.9v.9h-.9zM282.4,137.8h.9v.9h-.9zM274.4,139.8h.9v.9h-.9zM280.3,135.9h.9v.9h-.9zM281.5,139.6h.9v.9h-.9zM275.7,136.2h.9v.9h-.9zM274.5,138.0h.9v.9h-.9zM280.8,137.5h.9v.9h-.9zM275.5,137.2h.9v.9h-.9zM279.5,135.8h.9v.9h-.9zM273.7,138.6h.9v.9h-.9zM280.7,136.3h.9v.9h-.9zM281.7,139.2h.9v.9h-.9z" fill="#111" fill-opacity="0.75"/>
</g>
<line x1="255.3" y1="99.4" x2="255.3" y2="134.7" stroke="#111" stroke-width="1.1"/>
<line x1="255.3" y1="134.7" x2="255.3" y2="164.6" stroke="#000" stroke-width="2.6"/>
<line x1="221.0" y1="134.7" x2="296.5" y2="134.7" stroke="#555" stroke-width="1.2"/>
<line x1="221.0" y1="98.9" x2="221.0" y2="165.35" stroke="#000" stroke-width="1.5"/>
<line x1="220.25" y1="164.6" x2="297.0" y2="164.6" stroke="#000" stroke-width="1.5"/>
<text x="291.5" y="162.79999999999998" font-size="2.6" font-weight="normal" text-anchor="middle" fill="#444" stroke="#444" stroke-width="0.05">94</text>
<text x="223.2" y="103.2" font-size="2.6" font-weight="normal" text-anchor="middle" fill="#444" stroke="#444" stroke-width="0.05">0</text>
<text x="294.3" y="109.7" font-size="9.8" font-weight="bold" text-anchor="end" fill="#111" stroke="#111" stroke-width="0.34">0.91</text>
<text x="2.6" y="17.0" font-size="14.6" font-weight="bold" text-anchor="start" fill="#111" stroke="#111" stroke-width="0.51">A</text>
<text x="36.3" y="7.3" font-size="10" font-weight="bold" text-anchor="start" fill="#111" stroke="#111" stroke-width="0.35">Blood</text>
<text x="36.3" y="94.5" font-size="10" font-weight="bold" text-anchor="start" fill="#111" stroke="#111" stroke-width="0.35">Spleen</text>
<text x="20.6" y="147.8" font-size="10" font-weight="bold" text-anchor="middle" fill="#111" stroke="#111" stroke-width="0.35" transform="rotate(-90 20.6 147.8)">ICOS</text>
<line x1="16.9" y1="127.5" x2="16.9" y2="38" stroke="#111" stroke-width="1.3"/>
<polygon points="16.90,32.00 20.15,39.00 13.65,39.00" fill="#111"/>
<text x="31.3" y="188.2" font-size="10" font-weight="bold" text-anchor="start" fill="#111" stroke="#111" stroke-width="0.35">CD4</text>
<line x1="54.6" y1="185.8" x2="198" y2="185.8" stroke="#111" stroke-width="1.5"/>
<polygon points="203.80,185.80 196.80,189.30 196.80,182.30" fill="#111"/>
<text x="75.1" y="180.7" font-size="10" font-weight="bold" text-anchor="middle" fill="#111" stroke="#111" stroke-width="0.35">naive</text>
<text x="166.1" y="181.7" font-size="10" font-weight="bold" text-anchor="middle" fill="#111" stroke="#111" stroke-width="0.35">plasmid only</text>
<text x="214.6" y="181.5" font-size="9.85" font-weight="bold" text-anchor="start" fill="#111" stroke="#111" stroke-width="0.34">plasmid+anti-ICOS</text>
<line x1="340.75" y1="36.1" x2="340.75" y2="117.0" stroke="#111" stroke-width="1.1"/>
<line x1="340.75" y1="117.0" x2="520" y2="117.0" stroke="#111" stroke-width="1.1"/>
<line x1="337.75" y1="117.0" x2="340.75" y2="117.0" stroke="#111" stroke-width="1"/>
<text x="336.15" y="120.0" font-size="8.3" font-weight="bold" text-anchor="end" fill="#111" stroke="#111" stroke-width="0.29">0</text>
<line x1="337.75" y1="90.2" x2="340.75" y2="90.2" stroke="#111" stroke-width="1"/>
<text x="336.15" y="93.2" font-size="8.3" font-weight="bold" text-anchor="end" fill="#111" stroke="#111" stroke-width="0.29">5</text>
<line x1="337.75" y1="63.4" x2="340.75" y2="63.4" stroke="#111" stroke-width="1"/>
<text x="336.15" y="66.4" font-size="8.3" font-weight="bold" text-anchor="end" fill="#111" stroke="#111" stroke-width="0.29">10</text>
<line x1="337.75" y1="36.599999999999994" x2="340.75" y2="36.599999999999994" stroke="#111" stroke-width="1"/>
<text x="336.15" y="39.599999999999994" font-size="8.3" font-weight="bold" text-anchor="end" fill="#111" stroke="#111" stroke-width="0.29">15</text>
<line x1="385.2" y1="117.0" x2="385.2" y2="119.6" stroke="#111" stroke-width="1"/>
<line x1="430.0" y1="117.0" x2="430.0" y2="119.6" stroke="#111" stroke-width="1"/>
<line x1="474.7" y1="117.0" x2="474.7" y2="119.6" stroke="#111" stroke-width="1"/>
<line x1="519.4" y1="117.0" x2="519.4" y2="119.6" stroke="#111" stroke-width="1"/>
<rect x="353.20" y="92.60" width="18.60" height="24.40" fill="#bdbdbd" stroke="#111" stroke-width="1"/>
<line x1="362.5" y1="92.6" x2="362.5" y2="90.5" stroke="#111" stroke-width="1.2"/>
<line x1="358.4" y1="90.5" x2="366.6" y2="90.5" stroke="#111" stroke-width="1.2"/>
<rect x="398.20" y="113.30" width="18.60" height="3.70" fill="#fff" stroke="#111" stroke-width="1"/>
<line x1="407.5" y1="113.3" x2="407.5" y2="111.2" stroke="#111" stroke-width="1.2"/>
<line x1="403.4" y1="111.2" x2="411.6" y2="111.2" stroke="#111" stroke-width="1.2"/>
<rect x="443.60" y="63.60" width="17.60" height="53.40" fill="#000" stroke="#111" stroke-width="1"/>
<line x1="452.4" y1="63.6" x2="452.4" y2="63.0" stroke="#111" stroke-width="1.2"/>
<line x1="448.29999999999995" y1="63.0" x2="456.5" y2="63.0" stroke="#111" stroke-width="1.2"/>
<rect x="487.60" y="110.90" width="18.40" height="6.10" fill="#fff" stroke="#111" stroke-width="1"/>
<line x1="496.8" y1="110.9" x2="496.8" y2="108.5" stroke="#111" stroke-width="1.2"/>
<line x1="493.2" y1="108.5" x2="500.40000000000003" y2="108.5" stroke="#111" stroke-width="1.2"/>
<text x="314.4" y="87.5" font-size="8.2" font-weight="bold" text-anchor="middle" fill="#111" stroke="#111" stroke-width="0.29" transform="rotate(-90 314.4 87.5)" letter-spacing="0.36">% ICOS+CD4+ in spleen</text>
<text x="362.5" y="132.3" font-size="7.8" font-weight="bold" text-anchor="middle" fill="#111" stroke="#111" stroke-width="0.27">Naïve</text>
<text x="408" y="132.3" font-size="7.8" font-weight="bold" text-anchor="middle" fill="#111" stroke="#111" stroke-width="0.27">Anti-ICOS</text>
<text x="452.4" y="132.3" font-size="7.8" font-weight="bold" text-anchor="middle" fill="#111" stroke="#111" stroke-width="0.27">FVIII</text>
<text x="451.6" y="143.8" font-size="7.8" font-weight="bold" text-anchor="middle" fill="#111" stroke="#111" stroke-width="0.27">plasmid</text>
<text x="497.4" y="132.3" font-size="7.8" font-weight="bold" text-anchor="middle" fill="#111" stroke="#111" stroke-width="0.27">FVIII</text>
<text x="496.6" y="143.8" font-size="7.8" font-weight="bold" text-anchor="middle" fill="#111" stroke="#111" stroke-width="0.27">plasmid +</text>
<text x="498.0" y="155.2" font-size="7.8" font-weight="bold" text-anchor="middle" fill="#111" stroke="#111" stroke-width="0.27">anti-ICOS</text>
<path d="M355.3,79 V38 H443.2 V60" fill="none" stroke="#111" stroke-width="1.2"/>
<polygon points="355.30,85.60 351.30,78.60 359.30,78.60" fill="#111"/>
<path d="M365,87 V64.5 H406.8 V100" fill="none" stroke="#111" stroke-width="1.2"/>
<polygon points="406.80,105.80 402.80,99.30 410.80,99.30" fill="#111"/>
<path d="M452.4,61 V40 H496.8 V100" fill="none" stroke="#111" stroke-width="1.2"/>
<polygon points="496.80,106.00 492.80,99.00 500.80,99.00" fill="#111"/>
<text x="383" y="35.5" font-size="9.9" fill="#111" stroke="#111" stroke-width="0.25"><tspan font-style="italic">P</tspan> &lt; .05</text>
<text x="368" y="61.6" font-size="9.9" fill="#111" stroke="#111" stroke-width="0.25"><tspan font-style="italic">P</tspan> &lt; .001</text>
<text x="453.5" y="33.4" font-size="9.9" fill="#111" stroke="#111" stroke-width="0.25"><tspan font-style="italic">P</tspan> &lt; .001</text>
<text x="1.5" y="204.5" font-size="14" font-weight="bold" text-anchor="start" fill="#111" stroke="#111" stroke-width="0.49">B</text>
<rect x="41.60" y="203.80" width="81.40" height="149.40" fill="#fff" stroke="#3a3a3a" stroke-width="1"/>
<line x1="41.6" y1="278.6" x2="123" y2="278.6" stroke="#3a3a3a" stroke-width="1"/>
<line x1="41.9" y1="203.8" x2="41.9" y2="353.2" stroke="#111" stroke-width="1.8"/>
<path d="M41.80,277.50 C42.61,277.28 44.98,277.00 46.65,276.20 C48.32,275.40 50.36,274.00 51.80,272.70 C53.24,271.40 54.13,270.42 55.30,268.40 C56.47,266.38 57.78,263.63 58.80,260.60 C59.82,257.57 60.53,255.10 61.40,250.20 C62.27,245.30 63.28,236.68 64.00,231.20 C64.72,225.72 65.22,220.87 65.70,217.30 C66.18,213.73 66.55,211.33 66.90,209.80 C67.25,208.27 67.48,208.10 67.80,208.10 C68.12,208.10 68.43,207.98 68.80,209.80 C69.17,211.62 69.52,214.28 70.00,219.00 C70.48,223.72 71.12,232.03 71.70,238.10 C72.28,244.17 72.92,250.50 73.50,255.40 C74.08,260.30 74.53,264.33 75.20,267.50 C75.87,270.67 76.63,272.77 77.50,274.40 C78.37,276.03 79.15,276.72 80.40,277.30 C81.65,277.88 83.42,277.80 85.00,277.90 C86.58,278.00 88.37,278.18 89.90,277.90 C91.43,277.62 93.18,277.65 94.20,276.20 C95.22,274.75 95.42,273.25 96.00,269.20 C96.58,265.15 97.22,258.23 97.70,251.90 C98.18,245.57 98.52,236.97 98.90,231.20 C99.28,225.43 99.71,220.33 100.00,217.30 C100.29,214.27 100.43,213.00 100.65,213.00 C100.87,213.00 101.01,213.12 101.30,217.30 C101.59,221.48 102.05,230.88 102.40,238.10 C102.75,245.32 103.03,254.55 103.40,260.60 C103.77,266.65 104.20,271.55 104.60,274.40 C105.00,277.25 105.37,277.07 105.80,277.70 C106.23,278.33 106.97,278.12 107.20,278.20" fill="none" stroke="#111" stroke-width="1.5" stroke-linejoin="round" stroke-linecap="round"/>
<path d="M41.80,352.00 C42.61,351.63 44.97,350.95 46.65,349.80 C48.33,348.65 50.41,346.90 51.85,345.10 C53.29,343.30 54.14,341.45 55.30,339.00 C56.46,336.55 57.78,333.85 58.80,330.40 C59.82,326.95 60.53,323.20 61.40,318.30 C62.27,313.40 63.28,305.92 64.00,301.00 C64.72,296.08 65.18,291.68 65.70,288.80 C66.22,285.92 66.67,283.98 67.10,283.70 C67.53,283.42 67.90,284.22 68.30,287.10 C68.70,289.98 69.07,295.52 69.50,301.00 C69.93,306.48 70.47,314.23 70.90,320.00 C71.33,325.77 71.73,331.27 72.10,335.60 C72.47,339.93 72.73,343.40 73.10,346.00 C73.47,348.60 73.67,350.05 74.30,351.20 C74.93,352.35 75.12,352.57 76.90,352.90 C78.68,353.23 81.97,353.15 85.00,353.20 C88.03,353.25 92.83,353.33 95.10,353.20 C97.37,353.07 97.45,352.53 98.60,352.40 C99.75,352.27 100.70,352.27 102.00,352.40 C103.30,352.53 105.23,353.07 106.40,353.20 C107.57,353.33 108.57,353.20 109.00,353.20" fill="none" stroke="#111" stroke-width="1.5" stroke-linejoin="round" stroke-linecap="round"/>
<line x1="93.7" y1="246.8" x2="109.4" y2="246.8" stroke="#111" stroke-width="1"/>
<line x1="93.7" y1="244.60000000000002" x2="93.7" y2="249.0" stroke="#111" stroke-width="1"/>
<line x1="109.4" y1="244.60000000000002" x2="109.4" y2="249.0" stroke="#111" stroke-width="1"/>
<line x1="93.7" y1="321.8" x2="109.9" y2="321.8" stroke="#111" stroke-width="1"/>
<line x1="93.7" y1="319.6" x2="93.7" y2="324.0" stroke="#111" stroke-width="1"/>
<line x1="109.9" y1="319.6" x2="109.9" y2="324.0" stroke="#111" stroke-width="1"/>
<text x="104.6" y="236.8" font-size="9.2" font-weight="normal" text-anchor="start" fill="#111" stroke="#111" stroke-width="0.17">24.8</text>
<text x="105.2" y="314.4" font-size="9.2" font-weight="normal" text-anchor="start" fill="#111" stroke="#111" stroke-width="0.17">1.67</text>
<text x="15.6" y="240" font-size="10" font-weight="normal" text-anchor="middle" fill="#111" stroke="#111" stroke-width="0.18" transform="rotate(-90 15.6 240)">Naïve mice</text>
<text x="15.2" y="316" font-size="10" font-weight="normal" text-anchor="middle" fill="#111" stroke="#111" stroke-width="0.18" transform="rotate(-90 15.2 316)">Tolerized mice</text>
<text x="32.8" y="338.7" font-size="11" font-weight="bold" text-anchor="middle" fill="#111" stroke="#111" stroke-width="0.39" transform="rotate(-90 32.8 338.7)" letter-spacing="0.35">Cell #</text>
<line x1="28.2" y1="320.5" x2="28.2" y2="236" stroke="#111" stroke-width="1.3"/>
<polygon points="28.20,229.50 31.45,236.50 24.95,236.50" fill="#111"/>
<text x="43.3" y="369.2" font-size="11" font-weight="bold" text-anchor="start" fill="#111" stroke="#111" stroke-width="0.39">CD4</text>
<line x1="66" y1="365.3" x2="105" y2="365.3" stroke="#111" stroke-width="1.3"/>
<polygon points="111.20,365.30 104.20,368.55 104.20,362.05" fill="#111"/>
<line x1="122.9" y1="203.6" x2="134.5" y2="210.4" stroke="#111" stroke-width="1.4" stroke-dasharray="4.3 3.2"/>
<polygon points="141.60,215.60 133.50,214.53 136.84,208.95" fill="#111"/>
<line x1="123" y1="352.8" x2="135" y2="348.8" stroke="#111" stroke-width="1.4" stroke-dasharray="3.6 2.8"/>
<polygon points="142.40,346.30 136.29,351.73 134.26,345.55" fill="#111"/>
<line x1="187.5" y1="243.24" x2="187.5" y2="320.0" stroke="#111" stroke-width="1.1"/>
<line x1="187.5" y1="320.0" x2="365" y2="320.0" stroke="#111" stroke-width="1.1"/>
<line x1="184.5" y1="320.0" x2="187.5" y2="320.0" stroke="#111" stroke-width="1"/>
<text x="183.3" y="323.4" font-size="9.6" font-weight="bold" text-anchor="end" fill="#111" stroke="#111" stroke-width="0.34">0</text>
<line x1="184.5" y1="294.58" x2="187.5" y2="294.58" stroke="#111" stroke-width="1"/>
<text x="183.3" y="297.97999999999996" font-size="9.6" font-weight="bold" text-anchor="end" fill="#111" stroke="#111" stroke-width="0.34">10</text>
<line x1="184.5" y1="269.15999999999997" x2="187.5" y2="269.15999999999997" stroke="#111" stroke-width="1"/>
<text x="183.3" y="272.55999999999995" font-size="9.6" font-weight="bold" text-anchor="end" fill="#111" stroke="#111" stroke-width="0.34">20</text>
<line x1="184.5" y1="243.74" x2="187.5" y2="243.74" stroke="#111" stroke-width="1"/>
<text x="183.3" y="247.14000000000001" font-size="9.6" font-weight="bold" text-anchor="end" fill="#111" stroke="#111" stroke-width="0.34">30</text>
<line x1="232.5" y1="320.0" x2="232.5" y2="322.6" stroke="#111" stroke-width="1"/>
<line x1="277.5" y1="320.0" x2="277.5" y2="322.6" stroke="#111" stroke-width="1"/>
<line x1="321.4" y1="320.0" x2="321.4" y2="322.6" stroke="#111" stroke-width="1"/>
<line x1="365" y1="320.0" x2="365" y2="322.6" stroke="#111" stroke-width="1"/>
<defs><pattern id="hat" width="2.6" height="2.6" patternUnits="userSpaceOnUse" patternTransform="rotate(40)"><rect width="2.6" height="2.6" fill="#fff"/><line x1="0" y1="0" x2="0" y2="2.6" stroke="#777" stroke-width="1.0"/></pattern></defs>
<rect x="194.30" y="283.30" width="8.20" height="36.70" fill="url(#hat)" stroke="#111" stroke-width="1"/>
<line x1="198.4" y1="283.3" x2="198.4" y2="275.8" stroke="#111" stroke-width="1.2"/>
<line x1="195.3" y1="275.8" x2="201.5" y2="275.8" stroke="#111" stroke-width="1.2"/>
<rect x="202.50" y="261.30" width="8.30" height="58.70" fill="#c0c0c0" stroke="#111" stroke-width="1"/>
<line x1="206.65" y1="261.3" x2="206.65" y2="254.5" stroke="#111" stroke-width="1.2"/>
<line x1="203.55" y1="254.5" x2="209.75" y2="254.5" stroke="#111" stroke-width="1.2"/>
<rect x="210.80" y="270.80" width="8.00" height="49.20" fill="#000" stroke="#111" stroke-width="1"/>
<line x1="214.8" y1="270.8" x2="214.8" y2="263.3" stroke="#111" stroke-width="1.2"/>
<line x1="211.70000000000002" y1="263.3" x2="217.9" y2="263.3" stroke="#111" stroke-width="1.2"/>
<rect x="218.80" y="314.50" width="8.20" height="5.50" fill="#fff" stroke="#111" stroke-width="1"/>
<line x1="222.9" y1="314.5" x2="222.9" y2="310.0" stroke="#111" stroke-width="1.2"/>
<line x1="219.8" y1="310.0" x2="226.0" y2="310.0" stroke="#111" stroke-width="1.2"/>
<rect x="246.80" y="251.30" width="8.20" height="68.70" fill="#c0c0c0" stroke="#111" stroke-width="1"/>
<line x1="250.9" y1="251.3" x2="250.9" y2="250.2" stroke="#111" stroke-width="1.2"/>
<line x1="247.8" y1="250.2" x2="254.0" y2="250.2" stroke="#111" stroke-width="1.2"/>
<rect x="255.00" y="260.80" width="8.30" height="59.20" fill="#000" stroke="#111" stroke-width="1"/>
<line x1="259.15" y1="260.8" x2="259.15" y2="252.5" stroke="#111" stroke-width="1.2"/>
<line x1="256.04999999999995" y1="252.5" x2="262.25" y2="252.5" stroke="#111" stroke-width="1.2"/>
<rect x="263.30" y="303.00" width="8.50" height="17.00" fill="#fff" stroke="#111" stroke-width="1"/>
<line x1="267.55" y1="303.0" x2="267.55" y2="297.5" stroke="#111" stroke-width="1.2"/>
<line x1="264.45" y1="297.5" x2="270.65000000000003" y2="297.5" stroke="#111" stroke-width="1.2"/>
<rect x="290.60" y="273.00" width="8.70" height="47.00" fill="#c0c0c0" stroke="#111" stroke-width="1"/>
<line x1="294.95000000000005" y1="273.0" x2="294.95000000000005" y2="257.5" stroke="#111" stroke-width="1.2"/>
<line x1="291.85" y1="257.5" x2="298.05000000000007" y2="257.5" stroke="#111" stroke-width="1.2"/>
<rect x="299.30" y="278.80" width="8.20" height="41.20" fill="#000" stroke="#111" stroke-width="1"/>
<line x1="303.4" y1="278.8" x2="303.4" y2="264.5" stroke="#111" stroke-width="1.2"/>
<line x1="300.29999999999995" y1="264.5" x2="306.5" y2="264.5" stroke="#111" stroke-width="1.2"/>
<rect x="307.50" y="283.80" width="8.30" height="36.20" fill="#fff" stroke="#111" stroke-width="1"/>
<line x1="311.65" y1="283.8" x2="311.65" y2="275.8" stroke="#111" stroke-width="1.2"/>
<line x1="308.54999999999995" y1="275.8" x2="314.75" y2="275.8" stroke="#111" stroke-width="1.2"/>
<rect x="334.60" y="258.00" width="8.40" height="62.00" fill="#c0c0c0" stroke="#111" stroke-width="1"/>
<rect x="343.00" y="256.30" width="8.30" height="63.70" fill="#000" stroke="#111" stroke-width="1"/>
<rect x="351.30" y="260.00" width="8.20" height="60.00" fill="#fff" stroke="#111" stroke-width="1"/>
<text x="224.6" y="299.7" font-size="9.4" font-weight="bold" text-anchor="middle" fill="#111" stroke="#111" stroke-width="0.33" letter-spacing="1.1">**</text>
<text x="271.6" y="292.7" font-size="9.4" font-weight="bold" text-anchor="middle" fill="#111" stroke="#111" stroke-width="0.33" letter-spacing="1.1">**</text>
<text x="249.4" y="228" font-size="12.6" font-weight="bold" text-anchor="middle" fill="#111" stroke="#111" stroke-width="0.44">Blood</text>
<text x="161" y="278.3" font-size="8.6" font-weight="bold" text-anchor="middle" fill="#111" stroke="#111" stroke-width="0.30" transform="rotate(-90 161 278.3)" letter-spacing="0.2">% CD4+ T cells</text>
<text x="211" y="337.4" font-size="9.4" font-weight="bold" text-anchor="middle" fill="#111" stroke="#111" stroke-width="0.33">1w</text>
<text x="254.8" y="337.4" font-size="9.4" font-weight="bold" text-anchor="middle" fill="#111" stroke="#111" stroke-width="0.33">2w</text>
<text x="299.3" y="337.4" font-size="9.4" font-weight="bold" text-anchor="middle" fill="#111" stroke="#111" stroke-width="0.33">4w</text>
<text x="343.3" y="337.4" font-size="9.4" font-weight="bold" text-anchor="middle" fill="#111" stroke="#111" stroke-width="0.33">16w</text>
<text x="276.6" y="352.2" font-size="8.4" font-weight="bold" text-anchor="middle" fill="#111" stroke="#111" stroke-width="0.29" letter-spacing="0.55">weeks after treatment</text>
<rect x="298.00" y="202.40" width="99.50" height="51.40" fill="#fff" stroke="#333" stroke-width="0.9"/>
<rect x="302.00" y="206.10" width="4.70" height="4.70" fill="#fff" stroke="#111" stroke-width="1.1"/>
<text x="309.5" y="211.1" font-size="7.45" font-weight="normal" text-anchor="start" fill="#111" stroke="#111" stroke-width="0.13">anti-ICOS only</text>
<rect x="302.00" y="218.50" width="4.70" height="4.70" fill="#c0c0c0" stroke="#111" stroke-width="1.1"/>
<text x="309.5" y="223.5" font-size="7.45" font-weight="normal" text-anchor="start" fill="#111" stroke="#111" stroke-width="0.13">Naive</text>
<rect x="302.00" y="230.90" width="4.70" height="4.70" fill="#000" stroke="#111" stroke-width="1.1"/>
<text x="309.5" y="235.9" font-size="7.45" font-weight="normal" text-anchor="start" fill="#111" stroke="#111" stroke-width="0.13">FVIII Plasmid only</text>
<rect x="302.00" y="243.30" width="4.70" height="4.70" fill="#fff" stroke="#111" stroke-width="1.1"/>
<text x="309.5" y="248.3" font-size="7.45" font-weight="normal" text-anchor="start" fill="#111" stroke="#111" stroke-width="0.13">FVIII Plasmid + Anti-ICOS</text>
<text x="2" y="392.2" font-size="14.5" font-weight="bold" text-anchor="start" fill="#111" stroke="#111" stroke-width="0.51">C</text>
<line x1="37.6" y1="401.5" x2="37.6" y2="473.4" stroke="#111" stroke-width="1.1"/>
<line x1="37.6" y1="473.4" x2="240.6" y2="473.4" stroke="#111" stroke-width="1.1"/>
<line x1="34.6" y1="473.4" x2="37.6" y2="473.4" stroke="#111" stroke-width="1"/>
<text x="33.800000000000004" y="476.4" font-size="8.1" font-weight="bold" text-anchor="end" fill="#111" stroke="#111" stroke-width="0.28">0</text>
<line x1="34.6" y1="459.12" x2="37.6" y2="459.12" stroke="#111" stroke-width="1"/>
<text x="33.800000000000004" y="462.12" font-size="8.1" font-weight="bold" text-anchor="end" fill="#111" stroke="#111" stroke-width="0.28">10</text>
<line x1="34.6" y1="444.84" x2="37.6" y2="444.84" stroke="#111" stroke-width="1"/>
<text x="33.800000000000004" y="447.84" font-size="8.1" font-weight="bold" text-anchor="end" fill="#111" stroke="#111" stroke-width="0.28">20</text>
<line x1="34.6" y1="430.56" x2="37.6" y2="430.56" stroke="#111" stroke-width="1"/>
<text x="33.800000000000004" y="433.56" font-size="8.1" font-weight="bold" text-anchor="end" fill="#111" stroke="#111" stroke-width="0.28">30</text>
<line x1="34.6" y1="416.28" x2="37.6" y2="416.28" stroke="#111" stroke-width="1"/>
<text x="33.800000000000004" y="419.28" font-size="8.1" font-weight="bold" text-anchor="end" fill="#111" stroke="#111" stroke-width="0.28">40</text>
<line x1="34.6" y1="402.0" x2="37.6" y2="402.0" stroke="#111" stroke-width="1"/>
<text x="33.800000000000004" y="405.0" font-size="8.1" font-weight="bold" text-anchor="end" fill="#111" stroke="#111" stroke-width="0.28">50</text>
<line x1="62.99" y1="473.4" x2="62.99" y2="476.0" stroke="#111" stroke-width="1"/>
<line x1="88.38" y1="473.4" x2="88.38" y2="476.0" stroke="#111" stroke-width="1"/>
<line x1="113.77000000000001" y1="473.4" x2="113.77000000000001" y2="476.0" stroke="#111" stroke-width="1"/>
<line x1="139.16" y1="473.4" x2="139.16" y2="476.0" stroke="#111" stroke-width="1"/>
<line x1="164.55" y1="473.4" x2="164.55" y2="476.0" stroke="#111" stroke-width="1"/>
<line x1="189.94" y1="473.4" x2="189.94" y2="476.0" stroke="#111" stroke-width="1"/>
<line x1="215.33" y1="473.4" x2="215.33" y2="476.0" stroke="#111" stroke-width="1"/>
<line x1="240.72" y1="473.4" x2="240.72" y2="476.0" stroke="#111" stroke-width="1"/>
<rect x="45.60" y="414.50" width="9.90" height="58.90" fill="#c0c0c0" stroke="#111" stroke-width="1"/>
<line x1="50.55" y1="414.5" x2="50.55" y2="410.8" stroke="#111" stroke-width="1.2"/>
<line x1="47.449999999999996" y1="410.8" x2="53.65" y2="410.8" stroke="#111" stroke-width="1.2"/>
<rect x="71.30" y="421.80" width="9.20" height="51.60" fill="#000" stroke="#111" stroke-width="1"/>
<line x1="75.9" y1="421.8" x2="75.9" y2="415.8" stroke="#111" stroke-width="1.2"/>
<line x1="72.80000000000001" y1="415.8" x2="79.0" y2="415.8" stroke="#111" stroke-width="1.2"/>
<rect x="96.80" y="452.50" width="9.50" height="20.90" fill="#fff" stroke="#111" stroke-width="1"/>
<line x1="101.55" y1="452.5" x2="101.55" y2="445.8" stroke="#111" stroke-width="1.2"/>
<line x1="98.45" y1="445.8" x2="104.64999999999999" y2="445.8" stroke="#111" stroke-width="1.2"/>
<rect x="121.50" y="434.50" width="10.30" height="38.90" fill="#fff" stroke="#111" stroke-width="1"/>
<line x1="126.65" y1="434.5" x2="126.65" y2="432.0" stroke="#111" stroke-width="1.2"/>
<line x1="123.55000000000001" y1="432.0" x2="129.75" y2="432.0" stroke="#111" stroke-width="1.2"/>
<rect x="146.40" y="427.50" width="10.60" height="45.90" fill="#fff" stroke="#111" stroke-width="1"/>
<rect x="171.80" y="415.20" width="10.20" height="58.20" fill="#fff" stroke="#111" stroke-width="1"/>
<line x1="176.9" y1="415.2" x2="176.9" y2="414.6" stroke="#111" stroke-width="1.2"/>
<line x1="173.3" y1="414.6" x2="180.5" y2="414.6" stroke="#111" stroke-width="1.2"/>
<rect x="197.00" y="410.00" width="10.50" height="63.40" fill="#fff" stroke="#111" stroke-width="1"/>
<rect x="222.50" y="411.80" width="10.50" height="61.60" fill="#fff" stroke="#111" stroke-width="1"/>
<text x="103.8" y="440.5" font-size="11" font-weight="bold" text-anchor="middle" fill="#111" stroke="#111" stroke-width="0.39">*</text>
<text x="108.2" y="396.3" font-size="12.4" font-weight="bold" text-anchor="middle" fill="#111" stroke="#111" stroke-width="0.43">LN</text>
<text x="17.3" y="441.2" font-size="8.6" font-weight="bold" text-anchor="middle" fill="#111" stroke="#111" stroke-width="0.30" transform="rotate(-90 17.3 441.2)" letter-spacing="0.2">% CD4+ cells</text>
<text x="50.8" y="488.3" font-size="9" font-weight="bold" text-anchor="middle" fill="#111" stroke="#111" stroke-width="0.32">N</text>
<text x="75.8" y="488.3" font-size="9" font-weight="bold" text-anchor="middle" fill="#111" stroke="#111" stroke-width="0.32">P</text>
<text x="101.3" y="488.3" font-size="9" font-weight="bold" text-anchor="middle" fill="#111" stroke="#111" stroke-width="0.32">2w</text>
<text x="126.3" y="488.3" font-size="9" font-weight="bold" text-anchor="middle" fill="#111" stroke="#111" stroke-width="0.32">3w</text>
<text x="152" y="488.3" font-size="9" font-weight="bold" text-anchor="middle" fill="#111" stroke="#111" stroke-width="0.32">4w</text>
<text x="177" y="488.3" font-size="9" font-weight="bold" text-anchor="middle" fill="#111" stroke="#111" stroke-width="0.32">6w</text>
<text x="202" y="488.3" font-size="9" font-weight="bold" text-anchor="middle" fill="#111" stroke="#111" stroke-width="0.32">12w</text>
<text x="227.5" y="488.3" font-size="9" font-weight="bold" text-anchor="middle" fill="#111" stroke="#111" stroke-width="0.32">16w</text>
<text x="160.2" y="500.7" font-size="8.3" font-weight="bold" text-anchor="middle" fill="#111" stroke="#111" stroke-width="0.29" letter-spacing="0.4">weeks after treatment</text>
<text x="250.5" y="392.2" font-size="14.5" font-weight="bold" text-anchor="start" fill="#111" stroke="#111" stroke-width="0.51">D</text>
<line x1="287.6" y1="400.75" x2="287.6" y2="473.5" stroke="#111" stroke-width="1.1"/>
<line x1="287.6" y1="473.5" x2="488" y2="473.5" stroke="#111" stroke-width="1.1"/>
<line x1="284.6" y1="473.5" x2="287.6" y2="473.5" stroke="#111" stroke-width="1"/>
<text x="283.8" y="476.5" font-size="8.1" font-weight="bold" text-anchor="end" fill="#111" stroke="#111" stroke-width="0.28">0</text>
<line x1="284.6" y1="459.05" x2="287.6" y2="459.05" stroke="#111" stroke-width="1"/>
<text x="283.8" y="462.05" font-size="8.1" font-weight="bold" text-anchor="end" fill="#111" stroke="#111" stroke-width="0.28">5</text>
<line x1="284.6" y1="444.6" x2="287.6" y2="444.6" stroke="#111" stroke-width="1"/>
<text x="283.8" y="447.6" font-size="8.1" font-weight="bold" text-anchor="end" fill="#111" stroke="#111" stroke-width="0.28">10</text>
<line x1="284.6" y1="430.15" x2="287.6" y2="430.15" stroke="#111" stroke-width="1"/>
<text x="283.8" y="433.15" font-size="8.1" font-weight="bold" text-anchor="end" fill="#111" stroke="#111" stroke-width="0.28">15</text>
<line x1="284.6" y1="415.7" x2="287.6" y2="415.7" stroke="#111" stroke-width="1"/>
<text x="283.8" y="418.7" font-size="8.1" font-weight="bold" text-anchor="end" fill="#111" stroke="#111" stroke-width="0.28">20</text>
<line x1="284.6" y1="401.25" x2="287.6" y2="401.25" stroke="#111" stroke-width="1"/>
<text x="283.8" y="404.25" font-size="8.1" font-weight="bold" text-anchor="end" fill="#111" stroke="#111" stroke-width="0.28">25</text>
<line x1="316.24" y1="473.5" x2="316.24" y2="476.1" stroke="#111" stroke-width="1"/>
<line x1="344.88" y1="473.5" x2="344.88" y2="476.1" stroke="#111" stroke-width="1"/>
<line x1="373.52000000000004" y1="473.5" x2="373.52000000000004" y2="476.1" stroke="#111" stroke-width="1"/>
<line x1="402.16" y1="473.5" x2="402.16" y2="476.1" stroke="#111" stroke-width="1"/>
<line x1="430.8" y1="473.5" x2="430.8" y2="476.1" stroke="#111" stroke-width="1"/>
<line x1="459.44000000000005" y1="473.5" x2="459.44000000000005" y2="476.1" stroke="#111" stroke-width="1"/>
<line x1="488.08000000000004" y1="473.5" x2="488.08000000000004" y2="476.1" stroke="#111" stroke-width="1"/>
<rect x="297.00" y="424.30" width="12.30" height="49.20" fill="#d0d0d0" stroke="#111" stroke-width="1"/>
<line x1="303.15" y1="424.3" x2="303.15" y2="415.0" stroke="#111" stroke-width="1.2"/>
<line x1="299.54999999999995" y1="415.0" x2="306.75" y2="415.0" stroke="#111" stroke-width="1.2"/>
<rect x="325.50" y="428.30" width="12.00" height="45.20" fill="#000" stroke="#111" stroke-width="1"/>
<line x1="331.5" y1="428.3" x2="331.5" y2="424.5" stroke="#111" stroke-width="1.2"/>
<line x1="327.9" y1="424.5" x2="335.1" y2="424.5" stroke="#111" stroke-width="1.2"/>
<rect x="353.80" y="450.00" width="12.50" height="23.50" fill="#fff" stroke="#111" stroke-width="1"/>
<line x1="360.05" y1="450.0" x2="360.05" y2="445.5" stroke="#111" stroke-width="1.2"/>
<line x1="356.45" y1="445.5" x2="363.65000000000003" y2="445.5" stroke="#111" stroke-width="1.2"/>
<rect x="382.00" y="430.00" width="12.50" height="43.50" fill="#fff" stroke="#111" stroke-width="1"/>
<line x1="388.25" y1="430.0" x2="388.25" y2="427.0" stroke="#111" stroke-width="1.2"/>
<line x1="384.65" y1="427.0" x2="391.85" y2="427.0" stroke="#111" stroke-width="1.2"/>
<rect x="410.80" y="418.30" width="12.50" height="55.20" fill="#fff" stroke="#111" stroke-width="1"/>
<line x1="417.05" y1="418.3" x2="417.05" y2="408.3" stroke="#111" stroke-width="1.2"/>
<line x1="413.45" y1="408.3" x2="420.65000000000003" y2="408.3" stroke="#111" stroke-width="1.2"/>
<rect x="439.50" y="414.30" width="12.30" height="59.20" fill="#fff" stroke="#111" stroke-width="1"/>
<rect x="468.00" y="408.80" width="12.00" height="64.70" fill="#fff" stroke="#111" stroke-width="1"/>
<text x="363.8" y="443" font-size="11" font-weight="bold" text-anchor="middle" fill="#111" stroke="#111" stroke-width="0.39">*</text>
<text x="340.3" y="395" font-size="13" font-weight="bold" text-anchor="start" fill="#111" stroke="#111" stroke-width="0.46">Spleen</text>
<text x="267.3" y="439.7" font-size="8.6" font-weight="bold" text-anchor="middle" fill="#111" stroke="#111" stroke-width="0.30" transform="rotate(-90 267.3 439.7)" letter-spacing="0.2">% CD4+ cells</text>
<text x="302.5" y="488.8" font-size="9" font-weight="bold" text-anchor="middle" fill="#111" stroke="#111" stroke-width="0.32">N</text>
<text x="330.5" y="488.8" font-size="9" font-weight="bold" text-anchor="middle" fill="#111" stroke="#111" stroke-width="0.32">P</text>
<text x="360" y="488.8" font-size="9" font-weight="bold" text-anchor="middle" fill="#111" stroke="#111" stroke-width="0.32">2w</text>
<text x="388.8" y="488.8" font-size="9" font-weight="bold" text-anchor="middle" fill="#111" stroke="#111" stroke-width="0.32">3w</text>
<text x="417.5" y="488.8" font-size="9" font-weight="bold" text-anchor="middle" fill="#111" stroke="#111" stroke-width="0.32">6w</text>
<text x="445.5" y="488.8" font-size="9" font-weight="bold" text-anchor="middle" fill="#111" stroke="#111" stroke-width="0.32">12w</text>
<text x="474.5" y="488.8" font-size="9" font-weight="bold" text-anchor="middle" fill="#111" stroke="#111" stroke-width="0.32">16w</text>
<text x="415.0" y="501.8" font-size="8.3" font-weight="bold" text-anchor="middle" fill="#111" stroke="#111" stroke-width="0.29" letter-spacing="0.4">weeks after treatment</text>
</g>
</svg>
</body></html>
